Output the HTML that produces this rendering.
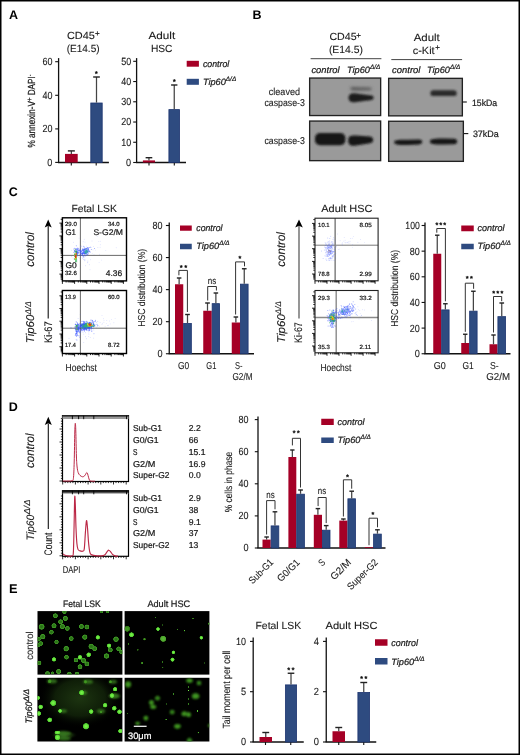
<!DOCTYPE html>
<html><head><meta charset="utf-8"><style>
html,body{margin:0;padding:0;background:#fff;}
svg{display:block;will-change:transform;font-family:"Liberation Sans", sans-serif;text-rendering:geometricPrecision;}
</style></head><body>
<svg width="520" height="755" viewBox="0 0 520 755">
<rect x="0" y="0" width="520" height="755" fill="#fff"/>
<text x="9" y="19" text-anchor="start" style="font-size:12.5px;font-weight:bold" fill="#000">A</text>
<text x="66.9" y="38.7" text-anchor="start" style="font-size:10.3px;stroke:#1a1a1a;stroke-width:0.1px" fill="#1a1a1a" textLength="27.9" lengthAdjust="spacingAndGlyphs">CD45</text>
<text x="97.25" y="36.2" text-anchor="middle" style="font-size:8px;stroke:#1a1a1a;stroke-width:0.22px" fill="#1a1a1a">+</text>
<text x="66.7" y="51.9" text-anchor="start" style="font-size:10.3px;stroke:#1a1a1a;stroke-width:0.1px" fill="#1a1a1a" textLength="32.9" lengthAdjust="spacingAndGlyphs">(E14.5)</text>
<line x1="58.6" y1="58.1" x2="58.6" y2="162.5" stroke="#111" stroke-width="1.3"/>
<line x1="55.2" y1="61.7" x2="58.6" y2="61.7" stroke="#111" stroke-width="1.1"/>
<text x="52.4" y="65.0" text-anchor="end" style="font-size:10.4px;stroke:#1a1a1a;stroke-width:0.1px" fill="#1a1a1a" textLength="10.0" lengthAdjust="spacingAndGlyphs">60</text>
<line x1="55.2" y1="95.3" x2="58.6" y2="95.3" stroke="#111" stroke-width="1.1"/>
<text x="52.4" y="98.6" text-anchor="end" style="font-size:10.4px;stroke:#1a1a1a;stroke-width:0.1px" fill="#1a1a1a" textLength="10.0" lengthAdjust="spacingAndGlyphs">40</text>
<line x1="55.2" y1="128.9" x2="58.6" y2="128.9" stroke="#111" stroke-width="1.1"/>
<text x="52.4" y="132.20000000000002" text-anchor="end" style="font-size:10.4px;stroke:#1a1a1a;stroke-width:0.1px" fill="#1a1a1a" textLength="10.0" lengthAdjust="spacingAndGlyphs">20</text>
<line x1="55.2" y1="162.4" x2="58.6" y2="162.4" stroke="#111" stroke-width="1.1"/>
<text x="52.4" y="165.70000000000002" text-anchor="end" style="font-size:10.4px;stroke:#1a1a1a;stroke-width:0.1px" fill="#1a1a1a" textLength="5.1" lengthAdjust="spacingAndGlyphs">0</text>
<line x1="58.0" y1="162.5" x2="108.9" y2="162.5" stroke="#111" stroke-width="1.3"/>
<line x1="71.3" y1="162.5" x2="71.3" y2="165.5" stroke="#111" stroke-width="1.1"/>
<line x1="96.2" y1="162.5" x2="96.2" y2="165.5" stroke="#111" stroke-width="1.1"/>
<rect x="65" y="153.9" width="12.700000000000003" height="8.599999999999994" fill="#a50026"/>
<line x1="71.35" y1="150.9" x2="71.35" y2="153.9" stroke="#444" stroke-width="1.25"/>
<line x1="67.85749999999999" y1="150.9" x2="74.8425" y2="150.9" stroke="#222" stroke-width="1.4"/>
<rect x="90.80000000000001" y="103.0" width="11.399999999999988" height="59.50000000000001" fill="#2e4b80" stroke="#1d3570" stroke-width="0.8"/>
<line x1="96.5" y1="77" x2="96.5" y2="102.6" stroke="#444" stroke-width="1.25"/>
<line x1="93.145" y1="77" x2="99.855" y2="77" stroke="#222" stroke-width="1.4"/>
<g fill="#111" stroke="#111" stroke-width="0.5" stroke-linejoin="round"><polygon points="96.30,71.15 96.73,72.01 97.68,72.15 96.99,72.82 97.15,73.77 96.30,73.32 95.45,73.77 95.61,72.82 94.92,72.15 95.87,72.01"/></g>
<text transform="translate(34.8,147.5) rotate(-90)" style="font-size:10.3px;stroke:#1a1a1a;stroke-width:0.22px" fill="#1a1a1a" textLength="73" lengthAdjust="spacingAndGlyphs">% annexin-V<tspan dy="-3.2" style="font-size:7.5px">+</tspan><tspan dy="3.2"> DAPI</tspan><tspan dy="-3.2" style="font-size:6.5px">-</tspan></text>
<text x="148.5" y="39" text-anchor="start" style="font-size:10.3px;stroke:#1a1a1a;stroke-width:0.1px" fill="#1a1a1a" textLength="26.7" lengthAdjust="spacingAndGlyphs">Adult</text>
<text x="150.9" y="51.9" text-anchor="start" style="font-size:10.3px;stroke:#1a1a1a;stroke-width:0.1px" fill="#1a1a1a" textLength="21.6" lengthAdjust="spacingAndGlyphs">HSC</text>
<line x1="136.6" y1="58.1" x2="136.6" y2="162.5" stroke="#111" stroke-width="1.3"/>
<line x1="133.2" y1="61.3" x2="136.6" y2="61.3" stroke="#111" stroke-width="1.1"/>
<text x="131.2" y="64.6" text-anchor="end" style="font-size:10.4px;stroke:#1a1a1a;stroke-width:0.1px" fill="#1a1a1a" textLength="10.0" lengthAdjust="spacingAndGlyphs">50</text>
<line x1="133.2" y1="81.53999999999999" x2="136.6" y2="81.53999999999999" stroke="#111" stroke-width="1.1"/>
<text x="131.2" y="84.83999999999999" text-anchor="end" style="font-size:10.4px;stroke:#1a1a1a;stroke-width:0.1px" fill="#1a1a1a" textLength="10.0" lengthAdjust="spacingAndGlyphs">40</text>
<line x1="133.2" y1="101.78" x2="136.6" y2="101.78" stroke="#111" stroke-width="1.1"/>
<text x="131.2" y="105.08" text-anchor="end" style="font-size:10.4px;stroke:#1a1a1a;stroke-width:0.1px" fill="#1a1a1a" textLength="10.0" lengthAdjust="spacingAndGlyphs">30</text>
<line x1="133.2" y1="122.02000000000001" x2="136.6" y2="122.02000000000001" stroke="#111" stroke-width="1.1"/>
<text x="131.2" y="125.32000000000001" text-anchor="end" style="font-size:10.4px;stroke:#1a1a1a;stroke-width:0.1px" fill="#1a1a1a" textLength="10.0" lengthAdjust="spacingAndGlyphs">20</text>
<line x1="133.2" y1="142.26" x2="136.6" y2="142.26" stroke="#111" stroke-width="1.1"/>
<text x="131.2" y="145.56" text-anchor="end" style="font-size:10.4px;stroke:#1a1a1a;stroke-width:0.1px" fill="#1a1a1a" textLength="10.0" lengthAdjust="spacingAndGlyphs">10</text>
<line x1="133.2" y1="162.5" x2="136.6" y2="162.5" stroke="#111" stroke-width="1.1"/>
<text x="131.2" y="165.8" text-anchor="end" style="font-size:10.4px;stroke:#1a1a1a;stroke-width:0.1px" fill="#1a1a1a" textLength="5.1" lengthAdjust="spacingAndGlyphs">0</text>
<line x1="136.0" y1="162.5" x2="186" y2="162.5" stroke="#111" stroke-width="1.3"/>
<line x1="149" y1="162.5" x2="149" y2="165.5" stroke="#111" stroke-width="1.1"/>
<line x1="174.3" y1="162.5" x2="174.3" y2="165.5" stroke="#111" stroke-width="1.1"/>
<rect x="142.9" y="160.4" width="12.099999999999994" height="2.0999999999999943" fill="#a50026"/>
<line x1="148.95" y1="157.7" x2="148.95" y2="160.4" stroke="#444" stroke-width="1.25"/>
<line x1="145.6225" y1="157.7" x2="152.27749999999997" y2="157.7" stroke="#222" stroke-width="1.4"/>
<rect x="168.9" y="109.60000000000001" width="10.7" height="52.9" fill="#2e4b80" stroke="#1d3570" stroke-width="0.8"/>
<line x1="174.25" y1="85" x2="174.25" y2="109.2" stroke="#444" stroke-width="1.25"/>
<line x1="171.0875" y1="85" x2="177.4125" y2="85" stroke="#222" stroke-width="1.4"/>
<g fill="#111" stroke="#111" stroke-width="0.5" stroke-linejoin="round"><polygon points="174.30,79.15 174.73,80.01 175.68,80.15 174.99,80.82 175.15,81.77 174.30,81.32 173.45,81.77 173.61,80.82 172.92,80.15 173.87,80.01"/></g>
<rect x="186.7" y="60.8" width="12.2" height="5.9" fill="#a50026"/>
<text x="202.9" y="66.6" text-anchor="start" style="font-size:9.2px;stroke:#1a1a1a;stroke-width:0.22px;font-style:italic" fill="#1a1a1a" textLength="26.4" lengthAdjust="spacingAndGlyphs">control</text>
<rect x="186.7" y="78.8" width="12.2" height="6" fill="#2e4b80"/>
<text x="202.9" y="84.8" style="font-size:9.2px;font-style:italic;stroke:#1a1a1a;stroke-width:0.22px" fill="#1a1a1a">Tip60<tspan dy="-3.86" style="font-size:6.4399999999999995px">Δ/Δ</tspan></text>
<text x="252.6" y="18.8" text-anchor="start" style="font-size:12.5px;font-weight:bold" fill="#000">B</text>
<text x="329.4" y="40.4" text-anchor="start" style="font-size:10.3px;stroke:#1a1a1a;stroke-width:0.1px" fill="#1a1a1a" textLength="27.2" lengthAdjust="spacingAndGlyphs">CD45</text>
<text x="358.5" y="37.55" text-anchor="middle" style="font-size:8px;stroke:#1a1a1a;stroke-width:0.22px" fill="#1a1a1a">+</text>
<text x="328.9" y="52.6" text-anchor="start" style="font-size:10.3px;stroke:#1a1a1a;stroke-width:0.1px" fill="#1a1a1a" textLength="34" lengthAdjust="spacingAndGlyphs">(E14.5)</text>
<line x1="310.6" y1="58.7" x2="381.4" y2="58.7" stroke="#444" stroke-width="1"/>
<text x="311.4" y="73.2" text-anchor="start" style="font-size:9.2px;stroke:#1a1a1a;stroke-width:0.22px;font-style:italic" fill="#1a1a1a" textLength="28.2" lengthAdjust="spacingAndGlyphs">control</text>
<text x="347" y="73.2" style="font-size:9.2px;font-style:italic;stroke:#1a1a1a;stroke-width:0.22px" fill="#1a1a1a">Tip60<tspan dy="-3.86" style="font-size:6.4399999999999995px">Δ/Δ</tspan></text>
<text x="413.7" y="41" text-anchor="start" style="font-size:10.3px;stroke:#1a1a1a;stroke-width:0.1px" fill="#1a1a1a" textLength="26.1" lengthAdjust="spacingAndGlyphs">Adult</text>
<text x="412.8" y="53.7" text-anchor="start" style="font-size:10.3px;stroke:#1a1a1a;stroke-width:0.1px" fill="#1a1a1a" textLength="21.8" lengthAdjust="spacingAndGlyphs">c-Kit</text>
<text x="437.5" y="50.1" text-anchor="middle" style="font-size:8px;stroke:#1a1a1a;stroke-width:0.22px" fill="#1a1a1a">+</text>
<line x1="391.3" y1="59.6" x2="462.1" y2="59.6" stroke="#444" stroke-width="1"/>
<text x="392" y="73" text-anchor="start" style="font-size:9.2px;stroke:#1a1a1a;stroke-width:0.22px;font-style:italic" fill="#1a1a1a" textLength="28.4" lengthAdjust="spacingAndGlyphs">control</text>
<text x="427" y="73" style="font-size:9.2px;font-style:italic;stroke:#1a1a1a;stroke-width:0.22px" fill="#1a1a1a">Tip60<tspan dy="-3.86" style="font-size:6.4399999999999995px">Δ/Δ</tspan></text>
<text x="268.8" y="94.8" text-anchor="start" style="font-size:9.9px;stroke:#1a1a1a;stroke-width:0.1px" fill="#1a1a1a" textLength="31.2" lengthAdjust="spacingAndGlyphs">cleaved</text>
<text x="264.4" y="105.6" text-anchor="start" style="font-size:9.9px;stroke:#1a1a1a;stroke-width:0.1px" fill="#1a1a1a" textLength="40.5" lengthAdjust="spacingAndGlyphs">caspase-3</text>
<text x="264.4" y="144.4" text-anchor="start" style="font-size:9.9px;stroke:#1a1a1a;stroke-width:0.1px" fill="#1a1a1a" textLength="40.5" lengthAdjust="spacingAndGlyphs">caspase-3</text>
<defs><filter id="bl" x="-30%" y="-80%" width="160%" height="260%"><feGaussianBlur stdDeviation="1.1"/></filter><filter id="bl2" x="-30%" y="-80%" width="160%" height="260%"><feGaussianBlur stdDeviation="1.0"/></filter></defs>
<rect x="309.65" y="78.05000000000001" width="71.00000000000001" height="37.5" fill="#9a9a9a" stroke="#222" stroke-width="1.35"/>
<rect x="309.65" y="121.05000000000001" width="71.00000000000001" height="39.60000000000001" fill="#9a9a9a" stroke="#222" stroke-width="1.35"/>
<rect x="388.65" y="78.35000000000001" width="73.7" height="37.5" fill="#9a9a9a" stroke="#222" stroke-width="1.35"/>
<rect x="388.65" y="121.25" width="74.7" height="40.10000000000001" fill="#9a9a9a" stroke="#222" stroke-width="1.35"/>
<g filter="url(#bl2)">
<path d="M348.6,97.7 C348.6,92.6 354,92.6 360,93.9 L371.5,95.6 C374.2,96 374.4,99.6 371.6,99.9 L360,101.4 C354,102.8 348.6,102.9 348.6,97.7 Z" fill="#1c1c1c"/>
<path d="M350.5,88.6 C350.5,86.8 353,86.8 356,87.2 L368,87.4 C373,87.4 373.4,90.2 368,90.2 L356,90.4 C352,90.6 350.5,90.3 350.5,88.6 Z" fill="#555" filter="url(#bl)"/>
<rect x="315" y="133.1" width="30.4" height="12.1" rx="5" fill="#151515"/>
<path d="M348.2,140.6 C348.2,135.6 351,135.4 356,135.5 L370,136.6 C374.3,137 374.3,142.8 370,143.2 L356,145.6 C351,146.2 348.2,145.6 348.2,140.6 Z" fill="#171717"/>
<rect x="430.4" y="90.2" width="26.3" height="5.9" rx="2.9" fill="#2a2a2a"/>
<path d="M394,142.3 C394,139.6 400,139.6 408,139.7 L419,139.6 C423.4,139.7 423.4,144.2 419,144.4 L408,145 C400,145.2 394,145 394,142.3 Z" fill="#181818"/>
<path d="M429.8,141.5 C429.8,138.5 436,138.5 444,138.4 L454,138.7 C458.4,139 458.4,144 454,144.2 L444,144.6 C436,144.7 429.8,144.5 429.8,141.5 Z" fill="#161616"/>
</g>
<line x1="462.5" y1="102" x2="466.8" y2="102" stroke="#111" stroke-width="1.1"/>
<text x="472" y="105.8" text-anchor="start" style="font-size:9.2px;stroke:#1a1a1a;stroke-width:0.22px" fill="#1a1a1a" textLength="25.1" lengthAdjust="spacingAndGlyphs">15kDa</text>
<line x1="464" y1="133.6" x2="468.3" y2="133.6" stroke="#111" stroke-width="1.1"/>
<text x="472.9" y="137.3" text-anchor="start" style="font-size:9.2px;stroke:#1a1a1a;stroke-width:0.22px" fill="#1a1a1a" textLength="25.9" lengthAdjust="spacingAndGlyphs">37kDa</text>
<text x="8.8" y="196.3" text-anchor="start" style="font-size:12.5px;font-weight:bold" fill="#000">C</text>
<text x="71.4" y="211.7" text-anchor="start" style="font-size:10.3px;stroke:#1a1a1a;stroke-width:0.1px" fill="#1a1a1a" textLength="45.5" lengthAdjust="spacingAndGlyphs">Fetal LSK</text>
<g stroke="#000" stroke-width="0.85"><line x1="60.7" y1="279.2" x2="62.4" y2="279.2"/><line x1="60.7" y1="277.9" x2="62.4" y2="277.9"/><line x1="60.7" y1="276.9" x2="62.4" y2="276.9"/><line x1="60.7" y1="276.1" x2="62.4" y2="276.1"/><line x1="60.7" y1="275.3" x2="62.4" y2="275.3"/><line x1="60.7" y1="274.7" x2="62.4" y2="274.7"/><line x1="59.4" y1="274.1" x2="62.4" y2="274.1"/><line x1="60.7" y1="270.3" x2="62.4" y2="270.3"/><line x1="60.7" y1="268.0" x2="62.4" y2="268.0"/><line x1="60.7" y1="266.4" x2="62.4" y2="266.4"/><line x1="60.7" y1="265.2" x2="62.4" y2="265.2"/><line x1="60.7" y1="264.2" x2="62.4" y2="264.2"/><line x1="60.7" y1="263.3" x2="62.4" y2="263.3"/><line x1="60.7" y1="262.6" x2="62.4" y2="262.6"/><line x1="60.7" y1="261.9" x2="62.4" y2="261.9"/><line x1="59.4" y1="261.4" x2="62.4" y2="261.4"/><line x1="60.7" y1="257.5" x2="62.4" y2="257.5"/><line x1="60.7" y1="255.3" x2="62.4" y2="255.3"/><line x1="60.7" y1="253.7" x2="62.4" y2="253.7"/><line x1="60.7" y1="252.4" x2="62.4" y2="252.4"/><line x1="60.7" y1="251.4" x2="62.4" y2="251.4"/><line x1="60.7" y1="250.6" x2="62.4" y2="250.6"/><line x1="60.7" y1="249.8" x2="62.4" y2="249.8"/><line x1="60.7" y1="249.2" x2="62.4" y2="249.2"/><line x1="59.4" y1="248.6" x2="62.4" y2="248.6"/><line x1="60.7" y1="244.8" x2="62.4" y2="244.8"/><line x1="60.7" y1="242.5" x2="62.4" y2="242.5"/><line x1="60.7" y1="240.9" x2="62.4" y2="240.9"/><line x1="60.7" y1="239.7" x2="62.4" y2="239.7"/><line x1="60.7" y1="238.7" x2="62.4" y2="238.7"/><line x1="60.7" y1="237.8" x2="62.4" y2="237.8"/><line x1="60.7" y1="237.1" x2="62.4" y2="237.1"/><line x1="60.7" y1="236.4" x2="62.4" y2="236.4"/><line x1="59.4" y1="235.9" x2="62.4" y2="235.9"/><line x1="60.7" y1="232.0" x2="62.4" y2="232.0"/><line x1="60.7" y1="229.8" x2="62.4" y2="229.8"/><line x1="60.7" y1="228.2" x2="62.4" y2="228.2"/><line x1="60.7" y1="226.9" x2="62.4" y2="226.9"/><line x1="60.7" y1="225.9" x2="62.4" y2="225.9"/><line x1="60.7" y1="225.1" x2="62.4" y2="225.1"/><line x1="60.7" y1="224.3" x2="62.4" y2="224.3"/><line x1="60.7" y1="223.7" x2="62.4" y2="223.7"/><line x1="59.4" y1="223.1" x2="62.4" y2="223.1"/><line x1="60.7" y1="219.3" x2="62.4" y2="219.3"/><line x1="62.4" y1="280.9" x2="62.4" y2="283.9"/><line x1="66.1" y1="280.9" x2="66.1" y2="282.5"/><line x1="68.2" y1="280.9" x2="68.2" y2="282.5"/><line x1="69.8" y1="280.9" x2="69.8" y2="282.5"/><line x1="70.9" y1="280.9" x2="70.9" y2="282.5"/><line x1="71.9" y1="280.9" x2="71.9" y2="282.5"/><line x1="72.7" y1="280.9" x2="72.7" y2="282.5"/><line x1="73.4" y1="280.9" x2="73.4" y2="282.5"/><line x1="74.1" y1="280.9" x2="74.1" y2="282.5"/><line x1="74.6" y1="280.9" x2="74.6" y2="283.9"/><line x1="78.3" y1="280.9" x2="78.3" y2="282.5"/><line x1="80.4" y1="280.9" x2="80.4" y2="282.5"/><line x1="82.0" y1="280.9" x2="82.0" y2="282.5"/><line x1="83.1" y1="280.9" x2="83.1" y2="282.5"/><line x1="84.1" y1="280.9" x2="84.1" y2="282.5"/><line x1="84.9" y1="280.9" x2="84.9" y2="282.5"/><line x1="85.6" y1="280.9" x2="85.6" y2="282.5"/><line x1="86.3" y1="280.9" x2="86.3" y2="282.5"/><line x1="86.8" y1="280.9" x2="86.8" y2="283.9"/><line x1="90.5" y1="280.9" x2="90.5" y2="282.5"/><line x1="92.6" y1="280.9" x2="92.6" y2="282.5"/><line x1="94.2" y1="280.9" x2="94.2" y2="282.5"/><line x1="95.4" y1="280.9" x2="95.4" y2="282.5"/><line x1="96.3" y1="280.9" x2="96.3" y2="282.5"/><line x1="97.1" y1="280.9" x2="97.1" y2="282.5"/><line x1="97.8" y1="280.9" x2="97.8" y2="282.5"/><line x1="98.5" y1="280.9" x2="98.5" y2="282.5"/><line x1="99.0" y1="280.9" x2="99.0" y2="283.9"/><line x1="102.7" y1="280.9" x2="102.7" y2="282.5"/><line x1="104.9" y1="280.9" x2="104.9" y2="282.5"/><line x1="106.4" y1="280.9" x2="106.4" y2="282.5"/><line x1="107.6" y1="280.9" x2="107.6" y2="282.5"/><line x1="108.5" y1="280.9" x2="108.5" y2="282.5"/><line x1="109.3" y1="280.9" x2="109.3" y2="282.5"/><line x1="110.1" y1="280.9" x2="110.1" y2="282.5"/><line x1="110.7" y1="280.9" x2="110.7" y2="282.5"/><line x1="111.2" y1="280.9" x2="111.2" y2="283.9"/><line x1="114.9" y1="280.9" x2="114.9" y2="282.5"/><line x1="117.1" y1="280.9" x2="117.1" y2="282.5"/><line x1="118.6" y1="280.9" x2="118.6" y2="282.5"/><line x1="119.8" y1="280.9" x2="119.8" y2="282.5"/><line x1="120.7" y1="280.9" x2="120.7" y2="282.5"/><line x1="121.6" y1="280.9" x2="121.6" y2="282.5"/><line x1="122.3" y1="280.9" x2="122.3" y2="282.5"/><line x1="122.9" y1="280.9" x2="122.9" y2="282.5"/><line x1="123.4" y1="280.9" x2="123.4" y2="283.9"/></g>
<line x1="80.4" y1="217.8" x2="80.4" y2="280.9" stroke="#444" stroke-width="0.8"/>
<line x1="62.4" y1="255.4" x2="126.5" y2="255.4" stroke="#444" stroke-width="0.8"/>
<g fill="#6a7dff" fill-opacity="0.35"><circle cx="80.5" cy="246.3" r="0.45"/><circle cx="84.0" cy="247.4" r="0.45"/><circle cx="97.2" cy="236.3" r="0.45"/><circle cx="86.6" cy="246.1" r="0.45"/><circle cx="81.2" cy="249.1" r="0.45"/><circle cx="90.0" cy="269.8" r="0.45"/><circle cx="93.0" cy="249.9" r="0.45"/><circle cx="98.7" cy="241.6" r="0.45"/><circle cx="84.0" cy="254.4" r="0.45"/><circle cx="85.0" cy="242.1" r="0.45"/><circle cx="84.2" cy="239.2" r="0.45"/><circle cx="101.5" cy="260.1" r="0.45"/><circle cx="116.2" cy="247.7" r="0.45"/><circle cx="87.7" cy="248.4" r="0.45"/><circle cx="95.4" cy="250.1" r="0.45"/><circle cx="97.9" cy="247.5" r="0.45"/><circle cx="75.7" cy="262.7" r="0.45"/><circle cx="85.0" cy="259.3" r="0.45"/><circle cx="86.6" cy="251.1" r="0.45"/><circle cx="73.4" cy="242.2" r="0.45"/><circle cx="94.0" cy="254.7" r="0.45"/><circle cx="87.7" cy="251.1" r="0.45"/><circle cx="71.5" cy="250.3" r="0.45"/><circle cx="83.2" cy="241.7" r="0.45"/><circle cx="93.5" cy="246.4" r="0.45"/><circle cx="81.2" cy="246.8" r="0.45"/><circle cx="86.1" cy="247.7" r="0.45"/><circle cx="90.7" cy="246.4" r="0.45"/><circle cx="99.1" cy="262.6" r="0.45"/><circle cx="100.1" cy="247.2" r="0.45"/><circle cx="83.6" cy="253.1" r="0.45"/><circle cx="87.9" cy="261.0" r="0.45"/><circle cx="92.2" cy="253.6" r="0.45"/><circle cx="84.2" cy="251.3" r="0.45"/><circle cx="79.0" cy="238.1" r="0.45"/><circle cx="92.0" cy="241.0" r="0.45"/><circle cx="83.9" cy="257.0" r="0.45"/><circle cx="105.8" cy="250.4" r="0.45"/><circle cx="85.7" cy="256.1" r="0.45"/><circle cx="99.6" cy="254.2" r="0.45"/><circle cx="81.4" cy="246.0" r="0.45"/><circle cx="100.2" cy="241.3" r="0.45"/><circle cx="90.7" cy="259.8" r="0.45"/><circle cx="100.3" cy="244.8" r="0.45"/><circle cx="87.1" cy="248.3" r="0.45"/></g>
<g fill="#3b55ff" fill-opacity="0.55"><circle cx="74.7" cy="251.8" r="0.5"/><circle cx="78.0" cy="249.9" r="0.5"/><circle cx="74.5" cy="250.9" r="0.5"/><circle cx="77.2" cy="253.4" r="0.5"/><circle cx="74.7" cy="248.2" r="0.5"/><circle cx="77.6" cy="252.0" r="0.5"/><circle cx="78.8" cy="253.2" r="0.5"/><circle cx="76.3" cy="250.4" r="0.5"/><circle cx="80.4" cy="250.4" r="0.5"/><circle cx="75.3" cy="248.5" r="0.5"/><circle cx="76.6" cy="251.3" r="0.5"/><circle cx="76.0" cy="250.9" r="0.5"/><circle cx="76.9" cy="252.5" r="0.5"/><circle cx="78.1" cy="251.5" r="0.5"/><circle cx="73.8" cy="252.5" r="0.5"/><circle cx="74.4" cy="250.6" r="0.5"/><circle cx="74.3" cy="251.0" r="0.5"/><circle cx="75.3" cy="251.5" r="0.5"/><circle cx="81.5" cy="250.9" r="0.5"/><circle cx="77.8" cy="248.1" r="0.5"/><circle cx="76.1" cy="252.5" r="0.5"/><circle cx="76.4" cy="251.8" r="0.5"/><circle cx="76.7" cy="248.8" r="0.5"/><circle cx="77.3" cy="249.2" r="0.5"/><circle cx="79.3" cy="249.9" r="0.5"/><circle cx="77.5" cy="251.0" r="0.5"/><circle cx="77.9" cy="249.7" r="0.5"/><circle cx="78.0" cy="250.7" r="0.5"/><circle cx="78.4" cy="252.4" r="0.5"/><circle cx="76.7" cy="249.3" r="0.5"/><circle cx="77.7" cy="252.0" r="0.5"/><circle cx="79.0" cy="250.2" r="0.5"/><circle cx="77.3" cy="252.1" r="0.5"/><circle cx="76.9" cy="251.5" r="0.5"/><circle cx="76.8" cy="249.7" r="0.5"/><circle cx="75.0" cy="250.1" r="0.5"/><circle cx="77.4" cy="254.3" r="0.5"/><circle cx="78.0" cy="253.3" r="0.5"/><circle cx="77.7" cy="252.5" r="0.5"/><circle cx="76.8" cy="252.7" r="0.5"/><circle cx="79.2" cy="250.3" r="0.5"/><circle cx="75.5" cy="255.3" r="0.5"/><circle cx="76.9" cy="253.1" r="0.5"/><circle cx="77.8" cy="248.5" r="0.5"/><circle cx="80.2" cy="254.9" r="0.5"/><circle cx="76.8" cy="252.7" r="0.5"/><circle cx="76.7" cy="249.1" r="0.5"/><circle cx="76.3" cy="251.8" r="0.5"/><circle cx="78.2" cy="252.6" r="0.5"/><circle cx="76.6" cy="254.0" r="0.5"/><circle cx="75.4" cy="252.7" r="0.5"/><circle cx="78.2" cy="250.4" r="0.5"/><circle cx="73.8" cy="249.0" r="0.5"/><circle cx="76.9" cy="252.2" r="0.5"/><circle cx="78.8" cy="248.8" r="0.5"/><circle cx="76.5" cy="252.4" r="0.5"/><circle cx="76.3" cy="245.8" r="0.5"/><circle cx="77.7" cy="256.1" r="0.5"/><circle cx="78.0" cy="249.0" r="0.5"/><circle cx="75.9" cy="251.5" r="0.5"/></g>
<g fill="#3b55ff" fill-opacity="0.55"><circle cx="80.5" cy="252.9" r="0.5"/><circle cx="83.7" cy="250.7" r="0.5"/><circle cx="87.2" cy="251.0" r="0.5"/><circle cx="83.7" cy="255.5" r="0.5"/><circle cx="83.1" cy="249.2" r="0.5"/><circle cx="80.7" cy="251.3" r="0.5"/><circle cx="86.3" cy="252.9" r="0.5"/><circle cx="87.7" cy="254.6" r="0.5"/><circle cx="89.3" cy="251.8" r="0.5"/><circle cx="88.3" cy="252.0" r="0.5"/><circle cx="83.0" cy="253.7" r="0.5"/><circle cx="84.8" cy="251.1" r="0.5"/><circle cx="90.3" cy="251.9" r="0.5"/><circle cx="83.3" cy="251.7" r="0.5"/><circle cx="91.3" cy="249.5" r="0.5"/><circle cx="86.7" cy="252.4" r="0.5"/><circle cx="86.1" cy="252.5" r="0.5"/><circle cx="83.3" cy="250.9" r="0.5"/><circle cx="84.2" cy="250.9" r="0.5"/><circle cx="86.9" cy="254.3" r="0.5"/><circle cx="82.1" cy="253.3" r="0.5"/><circle cx="81.9" cy="250.8" r="0.5"/><circle cx="84.0" cy="252.0" r="0.5"/><circle cx="83.4" cy="246.3" r="0.5"/><circle cx="88.6" cy="250.1" r="0.5"/><circle cx="82.9" cy="253.5" r="0.5"/><circle cx="83.0" cy="248.9" r="0.5"/><circle cx="86.0" cy="252.1" r="0.5"/><circle cx="82.3" cy="253.9" r="0.5"/><circle cx="85.7" cy="248.9" r="0.5"/><circle cx="89.6" cy="251.0" r="0.5"/><circle cx="81.4" cy="253.3" r="0.5"/><circle cx="85.0" cy="253.6" r="0.5"/><circle cx="80.8" cy="254.7" r="0.5"/><circle cx="87.3" cy="252.4" r="0.5"/><circle cx="86.4" cy="254.0" r="0.5"/><circle cx="86.7" cy="251.4" r="0.5"/><circle cx="82.3" cy="254.5" r="0.5"/><circle cx="87.4" cy="251.6" r="0.5"/><circle cx="85.1" cy="253.0" r="0.5"/><circle cx="77.5" cy="253.9" r="0.5"/><circle cx="77.6" cy="253.8" r="0.5"/><circle cx="87.6" cy="254.9" r="0.5"/><circle cx="83.3" cy="252.8" r="0.5"/><circle cx="84.4" cy="246.9" r="0.5"/><circle cx="86.7" cy="251.0" r="0.5"/><circle cx="84.8" cy="249.5" r="0.5"/><circle cx="84.5" cy="251.8" r="0.5"/><circle cx="88.3" cy="251.3" r="0.5"/><circle cx="94.5" cy="248.4" r="0.5"/><circle cx="83.9" cy="251.6" r="0.5"/><circle cx="82.3" cy="255.3" r="0.5"/><circle cx="86.5" cy="248.4" r="0.5"/><circle cx="84.9" cy="253.9" r="0.5"/><circle cx="80.6" cy="252.8" r="0.5"/><circle cx="84.0" cy="256.7" r="0.5"/><circle cx="85.8" cy="250.4" r="0.5"/><circle cx="83.0" cy="256.0" r="0.5"/><circle cx="83.3" cy="256.7" r="0.5"/><circle cx="80.2" cy="252.2" r="0.5"/><circle cx="84.0" cy="250.2" r="0.5"/><circle cx="84.0" cy="253.2" r="0.5"/><circle cx="82.7" cy="249.0" r="0.5"/><circle cx="88.5" cy="253.8" r="0.5"/><circle cx="82.7" cy="252.7" r="0.5"/><circle cx="77.3" cy="255.5" r="0.5"/><circle cx="80.9" cy="251.3" r="0.5"/><circle cx="90.8" cy="247.4" r="0.5"/><circle cx="84.7" cy="249.3" r="0.5"/><circle cx="79.4" cy="250.3" r="0.5"/><circle cx="85.4" cy="248.6" r="0.5"/><circle cx="83.0" cy="253.5" r="0.5"/><circle cx="84.2" cy="248.9" r="0.5"/><circle cx="88.9" cy="250.8" r="0.5"/><circle cx="88.6" cy="248.4" r="0.5"/><circle cx="89.4" cy="247.6" r="0.5"/><circle cx="79.7" cy="251.8" r="0.5"/><circle cx="83.6" cy="252.4" r="0.5"/><circle cx="83.0" cy="253.3" r="0.5"/><circle cx="88.4" cy="249.3" r="0.5"/><circle cx="80.7" cy="251.6" r="0.5"/><circle cx="87.0" cy="252.8" r="0.5"/><circle cx="83.6" cy="249.7" r="0.5"/><circle cx="84.6" cy="253.6" r="0.5"/><circle cx="82.6" cy="254.8" r="0.5"/><circle cx="85.3" cy="252.0" r="0.5"/><circle cx="82.8" cy="254.9" r="0.5"/><circle cx="84.7" cy="248.4" r="0.5"/><circle cx="86.9" cy="250.1" r="0.5"/><circle cx="87.7" cy="251.2" r="0.5"/><circle cx="82.8" cy="252.3" r="0.5"/><circle cx="83.2" cy="250.1" r="0.5"/><circle cx="84.7" cy="253.3" r="0.5"/><circle cx="84.8" cy="251.3" r="0.5"/><circle cx="83.1" cy="253.1" r="0.5"/><circle cx="85.4" cy="253.4" r="0.5"/><circle cx="85.7" cy="255.8" r="0.5"/><circle cx="80.2" cy="252.5" r="0.5"/><circle cx="86.1" cy="253.1" r="0.5"/><circle cx="80.3" cy="250.0" r="0.5"/><circle cx="84.5" cy="253.8" r="0.5"/><circle cx="87.7" cy="247.6" r="0.5"/><circle cx="85.0" cy="254.0" r="0.5"/><circle cx="84.7" cy="249.4" r="0.5"/><circle cx="82.6" cy="249.2" r="0.5"/><circle cx="88.0" cy="250.2" r="0.5"/><circle cx="83.4" cy="250.0" r="0.5"/><circle cx="84.2" cy="249.7" r="0.5"/><circle cx="81.9" cy="252.1" r="0.5"/><circle cx="84.0" cy="252.7" r="0.5"/><circle cx="85.0" cy="254.0" r="0.5"/><circle cx="84.5" cy="252.1" r="0.5"/><circle cx="85.3" cy="249.7" r="0.5"/><circle cx="88.0" cy="249.6" r="0.5"/><circle cx="80.1" cy="255.3" r="0.5"/><circle cx="86.5" cy="249.9" r="0.5"/><circle cx="87.3" cy="253.0" r="0.5"/><circle cx="86.6" cy="248.6" r="0.5"/><circle cx="85.1" cy="249.2" r="0.5"/><circle cx="82.9" cy="250.8" r="0.5"/><circle cx="82.2" cy="253.2" r="0.5"/><circle cx="82.4" cy="253.4" r="0.5"/><circle cx="85.1" cy="250.2" r="0.5"/><circle cx="85.1" cy="252.9" r="0.5"/><circle cx="87.8" cy="250.2" r="0.5"/><circle cx="89.5" cy="251.6" r="0.5"/><circle cx="88.1" cy="247.9" r="0.5"/><circle cx="81.6" cy="254.8" r="0.5"/><circle cx="84.0" cy="252.7" r="0.5"/><circle cx="88.0" cy="247.7" r="0.5"/><circle cx="85.9" cy="255.4" r="0.5"/><circle cx="86.9" cy="251.2" r="0.5"/><circle cx="86.2" cy="251.2" r="0.5"/><circle cx="86.8" cy="253.8" r="0.5"/><circle cx="84.0" cy="252.9" r="0.5"/><circle cx="85.5" cy="252.9" r="0.5"/><circle cx="87.0" cy="248.7" r="0.5"/><circle cx="87.9" cy="252.6" r="0.5"/><circle cx="81.5" cy="251.7" r="0.5"/><circle cx="80.5" cy="251.9" r="0.5"/><circle cx="85.5" cy="248.9" r="0.5"/><circle cx="82.4" cy="250.2" r="0.5"/><circle cx="82.7" cy="250.4" r="0.5"/><circle cx="81.6" cy="253.5" r="0.5"/><circle cx="84.0" cy="250.0" r="0.5"/><circle cx="87.4" cy="249.7" r="0.5"/><circle cx="87.1" cy="248.3" r="0.5"/><circle cx="88.6" cy="249.7" r="0.5"/><circle cx="81.9" cy="253.1" r="0.5"/><circle cx="80.8" cy="250.2" r="0.5"/></g>
<g fill="#2fb0a0" fill-opacity="0.7"><circle cx="85.2" cy="252.3" r="0.55"/><circle cx="85.0" cy="252.0" r="0.55"/><circle cx="84.6" cy="252.2" r="0.55"/><circle cx="85.9" cy="252.8" r="0.55"/><circle cx="86.9" cy="251.5" r="0.55"/><circle cx="85.7" cy="251.9" r="0.55"/><circle cx="86.0" cy="250.7" r="0.55"/><circle cx="86.7" cy="249.3" r="0.55"/><circle cx="85.9" cy="253.4" r="0.55"/><circle cx="86.6" cy="250.3" r="0.55"/><circle cx="87.2" cy="251.7" r="0.55"/><circle cx="85.4" cy="251.0" r="0.55"/><circle cx="86.2" cy="252.3" r="0.55"/><circle cx="85.9" cy="253.1" r="0.55"/><circle cx="85.3" cy="252.3" r="0.55"/><circle cx="84.3" cy="249.8" r="0.55"/><circle cx="85.9" cy="251.8" r="0.55"/><circle cx="88.1" cy="251.2" r="0.55"/><circle cx="86.3" cy="250.4" r="0.55"/><circle cx="86.1" cy="252.0" r="0.55"/><circle cx="85.6" cy="252.4" r="0.55"/><circle cx="87.6" cy="252.1" r="0.55"/><circle cx="86.0" cy="251.4" r="0.55"/><circle cx="86.7" cy="250.6" r="0.55"/><circle cx="87.1" cy="251.0" r="0.55"/></g>
<g fill="#30b050" fill-opacity="0.8"><circle cx="75.6" cy="260.3" r="0.55"/><circle cx="75.2" cy="251.0" r="0.55"/><circle cx="75.9" cy="257.9" r="0.55"/><circle cx="76.0" cy="257.6" r="0.55"/><circle cx="75.7" cy="254.5" r="0.55"/><circle cx="75.3" cy="255.6" r="0.55"/><circle cx="75.5" cy="258.9" r="0.55"/><circle cx="76.1" cy="252.7" r="0.55"/><circle cx="76.2" cy="256.2" r="0.55"/><circle cx="76.4" cy="260.5" r="0.55"/><circle cx="76.1" cy="251.3" r="0.55"/><circle cx="76.2" cy="251.9" r="0.55"/><circle cx="76.7" cy="254.4" r="0.55"/><circle cx="75.7" cy="261.4" r="0.55"/><circle cx="74.7" cy="256.4" r="0.55"/><circle cx="75.1" cy="254.8" r="0.55"/><circle cx="75.3" cy="258.2" r="0.55"/><circle cx="75.6" cy="257.3" r="0.55"/><circle cx="76.2" cy="251.5" r="0.55"/><circle cx="76.6" cy="255.6" r="0.55"/><circle cx="74.8" cy="254.4" r="0.55"/><circle cx="76.3" cy="259.2" r="0.55"/><circle cx="75.3" cy="256.6" r="0.55"/><circle cx="75.9" cy="259.3" r="0.55"/><circle cx="75.7" cy="259.1" r="0.55"/><circle cx="75.2" cy="254.3" r="0.55"/><circle cx="76.2" cy="258.4" r="0.55"/><circle cx="75.7" cy="258.0" r="0.55"/><circle cx="75.9" cy="258.5" r="0.55"/><circle cx="76.5" cy="257.8" r="0.55"/><circle cx="76.3" cy="255.2" r="0.55"/><circle cx="75.4" cy="249.6" r="0.55"/><circle cx="76.0" cy="256.4" r="0.55"/><circle cx="76.1" cy="251.0" r="0.55"/><circle cx="75.5" cy="254.7" r="0.55"/><circle cx="74.7" cy="258.9" r="0.55"/><circle cx="76.5" cy="252.7" r="0.55"/><circle cx="76.0" cy="261.3" r="0.55"/><circle cx="75.0" cy="259.1" r="0.55"/><circle cx="76.7" cy="261.7" r="0.55"/><circle cx="74.9" cy="253.3" r="0.55"/><circle cx="75.9" cy="259.8" r="0.55"/><circle cx="75.0" cy="254.2" r="0.55"/><circle cx="75.1" cy="259.5" r="0.55"/><circle cx="75.4" cy="258.0" r="0.55"/></g>
<g fill="#e8d020" fill-opacity="0.9"><circle cx="76.1" cy="257.8" r="0.55"/><circle cx="75.1" cy="253.2" r="0.55"/><circle cx="75.6" cy="257.5" r="0.55"/><circle cx="75.5" cy="254.0" r="0.55"/><circle cx="75.4" cy="258.6" r="0.55"/><circle cx="75.0" cy="258.0" r="0.55"/><circle cx="75.8" cy="257.1" r="0.55"/><circle cx="75.9" cy="255.4" r="0.55"/><circle cx="75.6" cy="259.2" r="0.55"/><circle cx="75.4" cy="255.6" r="0.55"/><circle cx="75.0" cy="255.6" r="0.55"/><circle cx="75.9" cy="258.3" r="0.55"/><circle cx="75.9" cy="257.3" r="0.55"/><circle cx="75.8" cy="256.8" r="0.55"/><circle cx="76.0" cy="256.1" r="0.55"/><circle cx="76.0" cy="256.2" r="0.55"/></g>
<g fill="#e03020" fill-opacity="0.9"><circle cx="75.6" cy="256.6" r="0.6"/><circle cx="75.6" cy="256.1" r="0.6"/><circle cx="75.7" cy="256.6" r="0.6"/><circle cx="75.9" cy="255.7" r="0.6"/><circle cx="76.4" cy="253.7" r="0.6"/><circle cx="75.6" cy="257.4" r="0.6"/><circle cx="75.5" cy="255.9" r="0.6"/><circle cx="75.6" cy="257.2" r="0.6"/><circle cx="76.0" cy="255.2" r="0.6"/></g>
<g fill="#6a7dff" fill-opacity="0.4"><circle cx="73.8" cy="259.0" r="0.45"/><circle cx="84.2" cy="259.2" r="0.45"/><circle cx="81.6" cy="253.8" r="0.45"/><circle cx="80.0" cy="258.4" r="0.45"/><circle cx="84.9" cy="260.7" r="0.45"/><circle cx="80.9" cy="256.9" r="0.45"/><circle cx="77.5" cy="260.0" r="0.45"/><circle cx="86.5" cy="252.1" r="0.45"/><circle cx="69.3" cy="268.3" r="0.45"/><circle cx="87.8" cy="262.8" r="0.45"/><circle cx="82.6" cy="258.4" r="0.45"/><circle cx="79.6" cy="255.1" r="0.45"/><circle cx="83.6" cy="259.2" r="0.45"/><circle cx="73.0" cy="257.9" r="0.45"/><circle cx="78.8" cy="257.4" r="0.45"/><circle cx="89.3" cy="264.7" r="0.45"/><circle cx="67.8" cy="262.2" r="0.45"/><circle cx="85.6" cy="265.7" r="0.45"/><circle cx="84.5" cy="251.7" r="0.45"/><circle cx="84.8" cy="260.4" r="0.45"/><circle cx="87.3" cy="262.1" r="0.45"/><circle cx="74.8" cy="268.0" r="0.45"/><circle cx="76.1" cy="264.9" r="0.45"/><circle cx="83.0" cy="257.8" r="0.45"/><circle cx="71.6" cy="256.5" r="0.45"/></g>
<rect x="62.4" y="217.8" width="64.1" height="63.099999999999966" fill="none" stroke="#000" stroke-width="1.4"/>
<text x="65" y="225.8" text-anchor="start" style="font-size:6.0px;stroke:#1a1a1a;stroke-width:0.22px" fill="#1a1a1a" textLength="11.8" lengthAdjust="spacingAndGlyphs">29.0</text>
<text x="65.4" y="234.9" text-anchor="start" style="font-size:8.2px;stroke:#1a1a1a;stroke-width:0.22px" fill="#1a1a1a" textLength="10.5" lengthAdjust="spacingAndGlyphs">G1</text>
<text x="108" y="225.8" text-anchor="start" style="font-size:6.0px;stroke:#1a1a1a;stroke-width:0.22px" fill="#1a1a1a" textLength="11.6" lengthAdjust="spacingAndGlyphs">34.0</text>
<text x="93.4" y="234.9" text-anchor="start" style="font-size:8.2px;stroke:#1a1a1a;stroke-width:0.22px" fill="#1a1a1a" textLength="29.6" lengthAdjust="spacingAndGlyphs">S-G2/M</text>
<text x="65.4" y="267.8" text-anchor="start" style="font-size:8.2px;stroke:#1a1a1a;stroke-width:0.22px" fill="#1a1a1a" textLength="11.3" lengthAdjust="spacingAndGlyphs">G0</text>
<text x="65" y="275" text-anchor="start" style="font-size:6.0px;stroke:#1a1a1a;stroke-width:0.22px" fill="#1a1a1a" textLength="11.8" lengthAdjust="spacingAndGlyphs">32.6</text>
<text x="105.8" y="275.9" text-anchor="start" style="font-size:8.2px;stroke:#1a1a1a;stroke-width:0.22px" fill="#1a1a1a" textLength="16.4" lengthAdjust="spacingAndGlyphs">4.36</text>
<g stroke="#000" stroke-width="0.85"><line x1="60.7" y1="351.8" x2="62.4" y2="351.8"/><line x1="60.7" y1="350.5" x2="62.4" y2="350.5"/><line x1="60.7" y1="349.5" x2="62.4" y2="349.5"/><line x1="60.7" y1="348.7" x2="62.4" y2="348.7"/><line x1="60.7" y1="347.9" x2="62.4" y2="347.9"/><line x1="60.7" y1="347.3" x2="62.4" y2="347.3"/><line x1="59.4" y1="346.7" x2="62.4" y2="346.7"/><line x1="60.7" y1="342.9" x2="62.4" y2="342.9"/><line x1="60.7" y1="340.6" x2="62.4" y2="340.6"/><line x1="60.7" y1="339.0" x2="62.4" y2="339.0"/><line x1="60.7" y1="337.8" x2="62.4" y2="337.8"/><line x1="60.7" y1="336.8" x2="62.4" y2="336.8"/><line x1="60.7" y1="335.9" x2="62.4" y2="335.9"/><line x1="60.7" y1="335.2" x2="62.4" y2="335.2"/><line x1="60.7" y1="334.6" x2="62.4" y2="334.6"/><line x1="59.4" y1="334.0" x2="62.4" y2="334.0"/><line x1="60.7" y1="330.1" x2="62.4" y2="330.1"/><line x1="60.7" y1="327.9" x2="62.4" y2="327.9"/><line x1="60.7" y1="326.3" x2="62.4" y2="326.3"/><line x1="60.7" y1="325.1" x2="62.4" y2="325.1"/><line x1="60.7" y1="324.1" x2="62.4" y2="324.1"/><line x1="60.7" y1="323.2" x2="62.4" y2="323.2"/><line x1="60.7" y1="322.5" x2="62.4" y2="322.5"/><line x1="60.7" y1="321.8" x2="62.4" y2="321.8"/><line x1="59.4" y1="321.2" x2="62.4" y2="321.2"/><line x1="60.7" y1="317.4" x2="62.4" y2="317.4"/><line x1="60.7" y1="315.2" x2="62.4" y2="315.2"/><line x1="60.7" y1="313.6" x2="62.4" y2="313.6"/><line x1="60.7" y1="312.3" x2="62.4" y2="312.3"/><line x1="60.7" y1="311.3" x2="62.4" y2="311.3"/><line x1="60.7" y1="310.5" x2="62.4" y2="310.5"/><line x1="60.7" y1="309.8" x2="62.4" y2="309.8"/><line x1="60.7" y1="309.1" x2="62.4" y2="309.1"/><line x1="59.4" y1="308.5" x2="62.4" y2="308.5"/><line x1="60.7" y1="304.7" x2="62.4" y2="304.7"/><line x1="60.7" y1="302.4" x2="62.4" y2="302.4"/><line x1="60.7" y1="300.9" x2="62.4" y2="300.9"/><line x1="60.7" y1="299.6" x2="62.4" y2="299.6"/><line x1="60.7" y1="298.6" x2="62.4" y2="298.6"/><line x1="60.7" y1="297.8" x2="62.4" y2="297.8"/><line x1="60.7" y1="297.0" x2="62.4" y2="297.0"/><line x1="60.7" y1="296.4" x2="62.4" y2="296.4"/><line x1="59.4" y1="295.8" x2="62.4" y2="295.8"/><line x1="60.7" y1="292.0" x2="62.4" y2="292.0"/><line x1="62.4" y1="353.5" x2="62.4" y2="356.5"/><line x1="66.1" y1="353.5" x2="66.1" y2="355.1"/><line x1="68.2" y1="353.5" x2="68.2" y2="355.1"/><line x1="69.8" y1="353.5" x2="69.8" y2="355.1"/><line x1="70.9" y1="353.5" x2="70.9" y2="355.1"/><line x1="71.9" y1="353.5" x2="71.9" y2="355.1"/><line x1="72.7" y1="353.5" x2="72.7" y2="355.1"/><line x1="73.4" y1="353.5" x2="73.4" y2="355.1"/><line x1="74.1" y1="353.5" x2="74.1" y2="355.1"/><line x1="74.6" y1="353.5" x2="74.6" y2="356.5"/><line x1="78.3" y1="353.5" x2="78.3" y2="355.1"/><line x1="80.4" y1="353.5" x2="80.4" y2="355.1"/><line x1="82.0" y1="353.5" x2="82.0" y2="355.1"/><line x1="83.1" y1="353.5" x2="83.1" y2="355.1"/><line x1="84.1" y1="353.5" x2="84.1" y2="355.1"/><line x1="84.9" y1="353.5" x2="84.9" y2="355.1"/><line x1="85.6" y1="353.5" x2="85.6" y2="355.1"/><line x1="86.3" y1="353.5" x2="86.3" y2="355.1"/><line x1="86.8" y1="353.5" x2="86.8" y2="356.5"/><line x1="90.5" y1="353.5" x2="90.5" y2="355.1"/><line x1="92.6" y1="353.5" x2="92.6" y2="355.1"/><line x1="94.2" y1="353.5" x2="94.2" y2="355.1"/><line x1="95.4" y1="353.5" x2="95.4" y2="355.1"/><line x1="96.3" y1="353.5" x2="96.3" y2="355.1"/><line x1="97.1" y1="353.5" x2="97.1" y2="355.1"/><line x1="97.8" y1="353.5" x2="97.8" y2="355.1"/><line x1="98.5" y1="353.5" x2="98.5" y2="355.1"/><line x1="99.0" y1="353.5" x2="99.0" y2="356.5"/><line x1="102.7" y1="353.5" x2="102.7" y2="355.1"/><line x1="104.9" y1="353.5" x2="104.9" y2="355.1"/><line x1="106.4" y1="353.5" x2="106.4" y2="355.1"/><line x1="107.6" y1="353.5" x2="107.6" y2="355.1"/><line x1="108.5" y1="353.5" x2="108.5" y2="355.1"/><line x1="109.3" y1="353.5" x2="109.3" y2="355.1"/><line x1="110.1" y1="353.5" x2="110.1" y2="355.1"/><line x1="110.7" y1="353.5" x2="110.7" y2="355.1"/><line x1="111.2" y1="353.5" x2="111.2" y2="356.5"/><line x1="114.9" y1="353.5" x2="114.9" y2="355.1"/><line x1="117.1" y1="353.5" x2="117.1" y2="355.1"/><line x1="118.6" y1="353.5" x2="118.6" y2="355.1"/><line x1="119.8" y1="353.5" x2="119.8" y2="355.1"/><line x1="120.7" y1="353.5" x2="120.7" y2="355.1"/><line x1="121.6" y1="353.5" x2="121.6" y2="355.1"/><line x1="122.3" y1="353.5" x2="122.3" y2="355.1"/><line x1="122.9" y1="353.5" x2="122.9" y2="355.1"/><line x1="123.4" y1="353.5" x2="123.4" y2="356.5"/></g>
<line x1="80.4" y1="290.5" x2="80.4" y2="353.5" stroke="#444" stroke-width="0.8"/>
<line x1="62.4" y1="328.2" x2="126.5" y2="328.2" stroke="#444" stroke-width="0.8"/>
<g fill="#6a7dff" fill-opacity="0.35"><circle cx="111.4" cy="319.4" r="0.45"/><circle cx="102.0" cy="315.5" r="0.45"/><circle cx="99.2" cy="326.3" r="0.45"/><circle cx="115.1" cy="318.6" r="0.45"/><circle cx="95.1" cy="321.2" r="0.45"/><circle cx="75.6" cy="327.1" r="0.45"/><circle cx="106.3" cy="323.6" r="0.45"/><circle cx="109.4" cy="321.0" r="0.45"/><circle cx="102.0" cy="324.5" r="0.45"/><circle cx="106.8" cy="320.5" r="0.45"/><circle cx="88.6" cy="323.9" r="0.45"/><circle cx="103.6" cy="318.7" r="0.45"/><circle cx="110.2" cy="323.9" r="0.45"/><circle cx="103.9" cy="322.3" r="0.45"/><circle cx="105.1" cy="326.3" r="0.45"/><circle cx="97.1" cy="326.5" r="0.45"/><circle cx="102.3" cy="323.3" r="0.45"/><circle cx="113.9" cy="322.7" r="0.45"/><circle cx="104.0" cy="320.4" r="0.45"/><circle cx="100.1" cy="322.5" r="0.45"/><circle cx="95.3" cy="320.0" r="0.45"/><circle cx="108.5" cy="325.3" r="0.45"/><circle cx="92.1" cy="320.1" r="0.45"/><circle cx="107.4" cy="325.5" r="0.45"/><circle cx="91.0" cy="320.9" r="0.45"/></g>
<g fill="#4a62ff" fill-opacity="0.4"><circle cx="88.7" cy="336.6" r="0.45"/><circle cx="79.5" cy="325.7" r="0.45"/><circle cx="86.3" cy="338.7" r="0.45"/><circle cx="86.6" cy="324.4" r="0.45"/><circle cx="79.6" cy="329.9" r="0.45"/><circle cx="89.8" cy="330.1" r="0.45"/><circle cx="82.0" cy="329.0" r="0.45"/><circle cx="85.2" cy="326.5" r="0.45"/><circle cx="84.2" cy="331.5" r="0.45"/><circle cx="93.8" cy="329.9" r="0.45"/><circle cx="89.9" cy="325.1" r="0.45"/><circle cx="89.2" cy="330.9" r="0.45"/><circle cx="81.0" cy="330.0" r="0.45"/><circle cx="89.5" cy="328.6" r="0.45"/><circle cx="90.2" cy="337.6" r="0.45"/><circle cx="93.7" cy="338.1" r="0.45"/><circle cx="76.7" cy="331.8" r="0.45"/><circle cx="80.2" cy="334.8" r="0.45"/><circle cx="84.6" cy="331.3" r="0.45"/><circle cx="86.9" cy="327.3" r="0.45"/><circle cx="84.8" cy="326.6" r="0.45"/><circle cx="96.5" cy="327.9" r="0.45"/><circle cx="84.3" cy="321.5" r="0.45"/><circle cx="75.5" cy="326.1" r="0.45"/><circle cx="88.9" cy="334.0" r="0.45"/><circle cx="85.9" cy="327.0" r="0.45"/><circle cx="95.1" cy="325.1" r="0.45"/><circle cx="79.2" cy="332.6" r="0.45"/><circle cx="78.4" cy="331.5" r="0.45"/><circle cx="89.9" cy="329.8" r="0.45"/><circle cx="86.6" cy="330.4" r="0.45"/><circle cx="80.2" cy="314.6" r="0.45"/><circle cx="77.0" cy="330.1" r="0.45"/><circle cx="74.5" cy="327.4" r="0.45"/><circle cx="85.4" cy="336.7" r="0.45"/><circle cx="76.1" cy="327.6" r="0.45"/><circle cx="85.5" cy="332.8" r="0.45"/><circle cx="76.1" cy="339.3" r="0.45"/><circle cx="79.4" cy="335.5" r="0.45"/><circle cx="83.0" cy="332.2" r="0.45"/><circle cx="94.1" cy="333.7" r="0.45"/><circle cx="85.0" cy="325.2" r="0.45"/><circle cx="80.3" cy="323.1" r="0.45"/><circle cx="96.2" cy="322.5" r="0.45"/><circle cx="69.0" cy="338.3" r="0.45"/><circle cx="91.8" cy="328.4" r="0.45"/><circle cx="89.2" cy="326.1" r="0.45"/><circle cx="80.8" cy="332.7" r="0.45"/><circle cx="86.5" cy="327.9" r="0.45"/><circle cx="93.8" cy="333.8" r="0.45"/><circle cx="85.0" cy="324.3" r="0.45"/><circle cx="85.0" cy="328.6" r="0.45"/><circle cx="83.8" cy="334.1" r="0.45"/><circle cx="80.8" cy="331.5" r="0.45"/><circle cx="88.9" cy="331.9" r="0.45"/><circle cx="97.8" cy="321.5" r="0.45"/><circle cx="83.8" cy="324.3" r="0.45"/><circle cx="83.8" cy="342.6" r="0.45"/><circle cx="74.4" cy="328.7" r="0.45"/><circle cx="88.1" cy="330.6" r="0.45"/><circle cx="89.6" cy="322.4" r="0.45"/><circle cx="90.0" cy="325.4" r="0.45"/><circle cx="76.9" cy="333.0" r="0.45"/><circle cx="87.0" cy="326.5" r="0.45"/><circle cx="79.3" cy="329.1" r="0.45"/><circle cx="84.1" cy="329.3" r="0.45"/><circle cx="78.1" cy="318.6" r="0.45"/><circle cx="92.0" cy="331.0" r="0.45"/><circle cx="76.7" cy="322.3" r="0.45"/><circle cx="80.0" cy="328.1" r="0.45"/></g>
<g fill="#3b55ff" fill-opacity="0.6"><circle cx="77.5" cy="329.4" r="0.5"/><circle cx="80.2" cy="332.1" r="0.5"/><circle cx="77.2" cy="331.9" r="0.5"/><circle cx="76.5" cy="327.0" r="0.5"/><circle cx="77.5" cy="328.1" r="0.5"/><circle cx="77.8" cy="329.1" r="0.5"/><circle cx="75.3" cy="324.5" r="0.5"/><circle cx="76.2" cy="321.7" r="0.5"/><circle cx="76.9" cy="328.8" r="0.5"/><circle cx="77.9" cy="326.4" r="0.5"/><circle cx="76.8" cy="332.4" r="0.5"/><circle cx="77.7" cy="325.7" r="0.5"/><circle cx="78.4" cy="327.4" r="0.5"/><circle cx="78.1" cy="328.8" r="0.5"/><circle cx="76.6" cy="324.8" r="0.5"/><circle cx="76.9" cy="340.0" r="0.5"/><circle cx="76.4" cy="336.4" r="0.5"/><circle cx="78.3" cy="328.4" r="0.5"/><circle cx="78.1" cy="335.8" r="0.5"/><circle cx="76.7" cy="327.8" r="0.5"/><circle cx="78.1" cy="331.5" r="0.5"/><circle cx="79.0" cy="331.8" r="0.5"/><circle cx="75.9" cy="329.8" r="0.5"/><circle cx="75.9" cy="333.2" r="0.5"/><circle cx="77.7" cy="328.3" r="0.5"/><circle cx="76.2" cy="333.8" r="0.5"/><circle cx="76.6" cy="335.1" r="0.5"/><circle cx="76.1" cy="328.9" r="0.5"/><circle cx="76.5" cy="325.7" r="0.5"/><circle cx="79.6" cy="337.1" r="0.5"/><circle cx="76.4" cy="333.3" r="0.5"/><circle cx="75.3" cy="335.3" r="0.5"/><circle cx="78.0" cy="328.6" r="0.5"/><circle cx="76.7" cy="331.1" r="0.5"/><circle cx="77.4" cy="328.5" r="0.5"/><circle cx="76.2" cy="328.9" r="0.5"/><circle cx="76.6" cy="333.3" r="0.5"/><circle cx="77.1" cy="331.0" r="0.5"/><circle cx="75.4" cy="328.4" r="0.5"/><circle cx="76.6" cy="327.9" r="0.5"/><circle cx="76.9" cy="328.8" r="0.5"/><circle cx="75.6" cy="334.0" r="0.5"/><circle cx="77.9" cy="327.9" r="0.5"/><circle cx="77.6" cy="326.1" r="0.5"/><circle cx="75.8" cy="329.2" r="0.5"/><circle cx="78.5" cy="329.6" r="0.5"/><circle cx="75.6" cy="331.1" r="0.5"/><circle cx="76.5" cy="327.1" r="0.5"/><circle cx="77.4" cy="322.8" r="0.5"/><circle cx="75.3" cy="324.0" r="0.5"/><circle cx="78.1" cy="330.5" r="0.5"/><circle cx="76.5" cy="327.3" r="0.5"/><circle cx="77.7" cy="335.4" r="0.5"/><circle cx="76.3" cy="331.3" r="0.5"/><circle cx="79.3" cy="332.7" r="0.5"/><circle cx="76.7" cy="331.6" r="0.5"/><circle cx="77.1" cy="333.0" r="0.5"/><circle cx="77.4" cy="328.1" r="0.5"/><circle cx="76.9" cy="331.8" r="0.5"/><circle cx="76.4" cy="330.5" r="0.5"/><circle cx="76.2" cy="335.4" r="0.5"/><circle cx="78.5" cy="326.6" r="0.5"/><circle cx="77.9" cy="330.9" r="0.5"/><circle cx="77.1" cy="329.2" r="0.5"/><circle cx="77.3" cy="334.4" r="0.5"/><circle cx="75.9" cy="334.5" r="0.5"/><circle cx="76.8" cy="325.6" r="0.5"/><circle cx="77.0" cy="332.9" r="0.5"/><circle cx="77.0" cy="331.5" r="0.5"/><circle cx="76.7" cy="328.0" r="0.5"/></g>
<g fill="#30b050" fill-opacity="0.8"><circle cx="78.3" cy="325.3" r="0.55"/><circle cx="77.2" cy="327.0" r="0.55"/><circle cx="76.5" cy="326.4" r="0.55"/><circle cx="76.7" cy="327.3" r="0.55"/><circle cx="77.2" cy="329.5" r="0.55"/><circle cx="77.1" cy="329.7" r="0.55"/><circle cx="77.3" cy="327.6" r="0.55"/><circle cx="76.8" cy="325.5" r="0.55"/><circle cx="76.0" cy="327.2" r="0.55"/><circle cx="76.9" cy="328.0" r="0.55"/><circle cx="77.2" cy="324.9" r="0.55"/><circle cx="76.5" cy="325.2" r="0.55"/><circle cx="77.6" cy="327.2" r="0.55"/><circle cx="77.0" cy="325.6" r="0.55"/><circle cx="76.2" cy="326.2" r="0.55"/><circle cx="76.9" cy="328.3" r="0.55"/><circle cx="76.1" cy="328.0" r="0.55"/><circle cx="76.4" cy="326.3" r="0.55"/><circle cx="76.8" cy="326.5" r="0.55"/><circle cx="77.2" cy="329.1" r="0.55"/><circle cx="77.2" cy="326.3" r="0.55"/><circle cx="77.2" cy="328.1" r="0.55"/><circle cx="77.5" cy="327.9" r="0.55"/><circle cx="76.0" cy="325.9" r="0.55"/><circle cx="76.7" cy="329.2" r="0.55"/></g>
<g fill="#e8d020" fill-opacity="0.9"><circle cx="77.1" cy="327.8" r="0.5"/><circle cx="76.8" cy="327.1" r="0.5"/><circle cx="77.3" cy="328.3" r="0.5"/><circle cx="76.8" cy="327.8" r="0.5"/><circle cx="76.5" cy="328.7" r="0.5"/><circle cx="77.2" cy="328.0" r="0.5"/><circle cx="77.3" cy="327.6" r="0.5"/><circle cx="77.8" cy="329.1" r="0.5"/></g>
<g fill="#3550ff" fill-opacity="0.6"><circle cx="83.6" cy="322.9" r="0.55"/><circle cx="91.7" cy="331.1" r="0.55"/><circle cx="87.7" cy="328.2" r="0.55"/><circle cx="91.4" cy="326.9" r="0.55"/><circle cx="89.3" cy="327.8" r="0.55"/><circle cx="84.4" cy="323.1" r="0.55"/><circle cx="77.6" cy="328.4" r="0.55"/><circle cx="87.6" cy="325.7" r="0.55"/><circle cx="75.0" cy="326.9" r="0.55"/><circle cx="85.2" cy="324.1" r="0.55"/><circle cx="82.0" cy="330.7" r="0.55"/><circle cx="91.6" cy="326.7" r="0.55"/><circle cx="86.9" cy="324.9" r="0.55"/><circle cx="83.8" cy="327.6" r="0.55"/><circle cx="81.6" cy="326.1" r="0.55"/><circle cx="93.0" cy="322.4" r="0.55"/><circle cx="81.9" cy="330.0" r="0.55"/><circle cx="87.2" cy="326.1" r="0.55"/><circle cx="81.7" cy="323.7" r="0.55"/><circle cx="91.0" cy="320.1" r="0.55"/><circle cx="87.6" cy="324.6" r="0.55"/><circle cx="85.1" cy="321.9" r="0.55"/><circle cx="89.6" cy="326.6" r="0.55"/><circle cx="86.8" cy="326.7" r="0.55"/><circle cx="79.3" cy="327.2" r="0.55"/><circle cx="87.7" cy="325.5" r="0.55"/><circle cx="71.0" cy="327.7" r="0.55"/><circle cx="86.0" cy="323.7" r="0.55"/><circle cx="85.8" cy="328.5" r="0.55"/><circle cx="85.1" cy="328.7" r="0.55"/><circle cx="83.0" cy="324.9" r="0.55"/><circle cx="86.7" cy="324.1" r="0.55"/><circle cx="77.7" cy="327.7" r="0.55"/><circle cx="85.5" cy="327.2" r="0.55"/><circle cx="81.5" cy="325.7" r="0.55"/><circle cx="87.7" cy="324.7" r="0.55"/><circle cx="84.5" cy="326.6" r="0.55"/><circle cx="82.0" cy="326.9" r="0.55"/><circle cx="78.7" cy="327.9" r="0.55"/><circle cx="97.8" cy="325.6" r="0.55"/><circle cx="83.7" cy="323.0" r="0.55"/><circle cx="80.2" cy="326.2" r="0.55"/><circle cx="81.9" cy="327.5" r="0.55"/><circle cx="86.2" cy="327.4" r="0.55"/><circle cx="84.5" cy="327.7" r="0.55"/><circle cx="91.8" cy="323.4" r="0.55"/><circle cx="85.0" cy="325.8" r="0.55"/><circle cx="85.1" cy="328.3" r="0.55"/><circle cx="83.9" cy="324.4" r="0.55"/><circle cx="79.4" cy="323.9" r="0.55"/><circle cx="85.0" cy="327.8" r="0.55"/><circle cx="85.7" cy="324.4" r="0.55"/><circle cx="84.7" cy="324.3" r="0.55"/><circle cx="90.1" cy="325.6" r="0.55"/><circle cx="92.2" cy="326.4" r="0.55"/><circle cx="88.4" cy="323.8" r="0.55"/><circle cx="87.8" cy="324.9" r="0.55"/><circle cx="83.0" cy="326.7" r="0.55"/><circle cx="93.0" cy="326.0" r="0.55"/><circle cx="94.8" cy="326.1" r="0.55"/><circle cx="79.4" cy="325.8" r="0.55"/><circle cx="94.2" cy="326.0" r="0.55"/><circle cx="86.0" cy="325.1" r="0.55"/><circle cx="86.4" cy="326.8" r="0.55"/><circle cx="83.8" cy="326.2" r="0.55"/><circle cx="87.0" cy="323.8" r="0.55"/><circle cx="84.6" cy="324.8" r="0.55"/><circle cx="82.9" cy="324.7" r="0.55"/><circle cx="82.9" cy="324.9" r="0.55"/><circle cx="93.6" cy="324.7" r="0.55"/><circle cx="87.4" cy="324.3" r="0.55"/><circle cx="86.4" cy="326.9" r="0.55"/><circle cx="92.9" cy="328.5" r="0.55"/><circle cx="83.8" cy="329.8" r="0.55"/><circle cx="86.2" cy="328.4" r="0.55"/><circle cx="85.5" cy="327.6" r="0.55"/><circle cx="85.4" cy="323.5" r="0.55"/><circle cx="88.4" cy="325.2" r="0.55"/><circle cx="85.3" cy="326.7" r="0.55"/><circle cx="88.1" cy="330.6" r="0.55"/><circle cx="81.1" cy="325.8" r="0.55"/><circle cx="81.7" cy="329.1" r="0.55"/><circle cx="84.6" cy="325.1" r="0.55"/><circle cx="88.0" cy="326.0" r="0.55"/><circle cx="88.3" cy="322.9" r="0.55"/><circle cx="86.0" cy="327.2" r="0.55"/><circle cx="83.3" cy="328.9" r="0.55"/><circle cx="85.5" cy="324.7" r="0.55"/><circle cx="84.0" cy="327.4" r="0.55"/><circle cx="90.5" cy="324.6" r="0.55"/><circle cx="88.4" cy="325.1" r="0.55"/><circle cx="81.8" cy="324.8" r="0.55"/><circle cx="89.1" cy="324.8" r="0.55"/><circle cx="86.5" cy="329.2" r="0.55"/><circle cx="90.3" cy="324.7" r="0.55"/><circle cx="84.6" cy="326.8" r="0.55"/><circle cx="76.5" cy="328.6" r="0.55"/><circle cx="82.6" cy="327.9" r="0.55"/><circle cx="82.7" cy="325.9" r="0.55"/><circle cx="89.4" cy="326.8" r="0.55"/><circle cx="93.8" cy="324.1" r="0.55"/><circle cx="83.1" cy="329.3" r="0.55"/><circle cx="88.2" cy="323.5" r="0.55"/><circle cx="83.7" cy="327.2" r="0.55"/><circle cx="83.7" cy="323.6" r="0.55"/><circle cx="86.0" cy="326.9" r="0.55"/><circle cx="91.4" cy="327.4" r="0.55"/><circle cx="89.3" cy="324.0" r="0.55"/><circle cx="80.5" cy="324.9" r="0.55"/><circle cx="88.3" cy="327.4" r="0.55"/><circle cx="77.5" cy="328.3" r="0.55"/><circle cx="89.7" cy="328.4" r="0.55"/><circle cx="89.1" cy="327.4" r="0.55"/><circle cx="86.8" cy="325.4" r="0.55"/><circle cx="85.1" cy="326.1" r="0.55"/><circle cx="80.7" cy="326.5" r="0.55"/><circle cx="90.2" cy="324.8" r="0.55"/><circle cx="91.2" cy="323.6" r="0.55"/><circle cx="87.6" cy="324.3" r="0.55"/><circle cx="90.4" cy="326.8" r="0.55"/><circle cx="90.0" cy="327.0" r="0.55"/><circle cx="88.0" cy="327.9" r="0.55"/><circle cx="86.6" cy="321.3" r="0.55"/><circle cx="86.3" cy="327.0" r="0.55"/><circle cx="75.5" cy="329.7" r="0.55"/><circle cx="85.4" cy="328.1" r="0.55"/><circle cx="84.4" cy="326.6" r="0.55"/><circle cx="82.0" cy="326.1" r="0.55"/><circle cx="78.7" cy="327.5" r="0.55"/><circle cx="83.9" cy="325.0" r="0.55"/><circle cx="82.4" cy="324.6" r="0.55"/><circle cx="85.5" cy="325.8" r="0.55"/><circle cx="84.3" cy="328.8" r="0.55"/><circle cx="80.8" cy="325.9" r="0.55"/><circle cx="79.8" cy="326.3" r="0.55"/><circle cx="84.8" cy="322.7" r="0.55"/><circle cx="87.1" cy="321.9" r="0.55"/><circle cx="83.2" cy="325.8" r="0.55"/><circle cx="79.8" cy="329.4" r="0.55"/><circle cx="86.3" cy="323.4" r="0.55"/><circle cx="87.2" cy="326.5" r="0.55"/><circle cx="83.0" cy="324.8" r="0.55"/><circle cx="89.7" cy="329.9" r="0.55"/><circle cx="86.6" cy="330.0" r="0.55"/><circle cx="77.9" cy="323.9" r="0.55"/><circle cx="85.9" cy="324.7" r="0.55"/><circle cx="86.7" cy="329.4" r="0.55"/><circle cx="80.9" cy="327.5" r="0.55"/><circle cx="85.4" cy="323.6" r="0.55"/><circle cx="84.5" cy="324.0" r="0.55"/><circle cx="84.4" cy="329.0" r="0.55"/><circle cx="90.2" cy="327.4" r="0.55"/><circle cx="86.2" cy="324.9" r="0.55"/><circle cx="94.8" cy="324.8" r="0.55"/><circle cx="87.5" cy="327.8" r="0.55"/><circle cx="84.9" cy="327.0" r="0.55"/><circle cx="85.4" cy="326.7" r="0.55"/><circle cx="89.6" cy="322.9" r="0.55"/><circle cx="86.0" cy="324.9" r="0.55"/><circle cx="84.7" cy="326.8" r="0.55"/><circle cx="92.2" cy="321.1" r="0.55"/><circle cx="93.2" cy="323.9" r="0.55"/><circle cx="81.8" cy="325.1" r="0.55"/><circle cx="86.3" cy="326.2" r="0.55"/><circle cx="77.6" cy="323.9" r="0.55"/><circle cx="89.8" cy="325.2" r="0.55"/><circle cx="76.9" cy="326.7" r="0.55"/><circle cx="84.1" cy="329.1" r="0.55"/><circle cx="81.9" cy="325.4" r="0.55"/><circle cx="83.6" cy="326.9" r="0.55"/><circle cx="87.6" cy="326.9" r="0.55"/><circle cx="93.2" cy="324.7" r="0.55"/><circle cx="92.5" cy="325.2" r="0.55"/><circle cx="89.0" cy="327.4" r="0.55"/><circle cx="93.5" cy="323.0" r="0.55"/><circle cx="95.5" cy="320.9" r="0.55"/><circle cx="84.8" cy="325.8" r="0.55"/><circle cx="85.3" cy="328.7" r="0.55"/><circle cx="77.9" cy="324.8" r="0.55"/><circle cx="89.7" cy="328.7" r="0.55"/><circle cx="80.5" cy="325.5" r="0.55"/><circle cx="88.4" cy="326.8" r="0.55"/><circle cx="78.5" cy="326.7" r="0.55"/><circle cx="82.9" cy="324.0" r="0.55"/><circle cx="84.5" cy="324.5" r="0.55"/><circle cx="79.6" cy="331.1" r="0.55"/><circle cx="82.9" cy="324.3" r="0.55"/><circle cx="93.7" cy="324.1" r="0.55"/><circle cx="83.4" cy="321.3" r="0.55"/><circle cx="78.4" cy="329.7" r="0.55"/><circle cx="81.6" cy="325.6" r="0.55"/><circle cx="84.4" cy="326.5" r="0.55"/><circle cx="94.1" cy="321.6" r="0.55"/><circle cx="78.2" cy="330.0" r="0.55"/><circle cx="88.7" cy="327.0" r="0.55"/><circle cx="91.4" cy="325.1" r="0.55"/><circle cx="88.8" cy="327.7" r="0.55"/><circle cx="92.1" cy="325.6" r="0.55"/><circle cx="80.3" cy="325.3" r="0.55"/><circle cx="84.6" cy="325.4" r="0.55"/><circle cx="90.8" cy="323.2" r="0.55"/><circle cx="87.9" cy="324.9" r="0.55"/><circle cx="86.4" cy="328.7" r="0.55"/><circle cx="90.3" cy="324.2" r="0.55"/><circle cx="85.7" cy="327.9" r="0.55"/><circle cx="85.8" cy="328.0" r="0.55"/><circle cx="91.6" cy="324.5" r="0.55"/><circle cx="88.2" cy="329.5" r="0.55"/><circle cx="88.6" cy="324.3" r="0.55"/><circle cx="91.7" cy="325.2" r="0.55"/><circle cx="84.5" cy="327.0" r="0.55"/><circle cx="89.1" cy="324.5" r="0.55"/><circle cx="87.3" cy="327.0" r="0.55"/><circle cx="89.4" cy="325.4" r="0.55"/><circle cx="82.4" cy="326.7" r="0.55"/><circle cx="87.4" cy="326.2" r="0.55"/><circle cx="89.8" cy="326.1" r="0.55"/><circle cx="79.6" cy="328.0" r="0.55"/><circle cx="89.8" cy="322.2" r="0.55"/><circle cx="88.9" cy="327.3" r="0.55"/><circle cx="87.7" cy="326.9" r="0.55"/><circle cx="82.3" cy="327.6" r="0.55"/><circle cx="88.0" cy="324.1" r="0.55"/><circle cx="88.5" cy="327.7" r="0.55"/><circle cx="84.9" cy="330.0" r="0.55"/><circle cx="87.4" cy="326.4" r="0.55"/><circle cx="88.7" cy="326.2" r="0.55"/><circle cx="85.8" cy="325.2" r="0.55"/><circle cx="78.5" cy="324.5" r="0.55"/><circle cx="86.3" cy="328.9" r="0.55"/><circle cx="83.7" cy="321.7" r="0.55"/><circle cx="89.0" cy="323.5" r="0.55"/><circle cx="81.9" cy="327.3" r="0.55"/><circle cx="86.5" cy="326.3" r="0.55"/><circle cx="83.4" cy="325.1" r="0.55"/><circle cx="88.2" cy="327.4" r="0.55"/><circle cx="89.1" cy="327.5" r="0.55"/><circle cx="89.4" cy="325.0" r="0.55"/><circle cx="88.0" cy="325.9" r="0.55"/><circle cx="82.1" cy="330.0" r="0.55"/><circle cx="90.9" cy="324.4" r="0.55"/><circle cx="84.0" cy="326.7" r="0.55"/><circle cx="86.0" cy="325.6" r="0.55"/><circle cx="85.1" cy="329.0" r="0.55"/><circle cx="84.6" cy="325.0" r="0.55"/><circle cx="91.6" cy="325.0" r="0.55"/><circle cx="84.3" cy="324.9" r="0.55"/><circle cx="85.8" cy="325.6" r="0.55"/><circle cx="84.8" cy="325.9" r="0.55"/><circle cx="86.8" cy="323.5" r="0.55"/><circle cx="81.8" cy="325.8" r="0.55"/><circle cx="85.7" cy="325.5" r="0.55"/><circle cx="85.9" cy="326.2" r="0.55"/><circle cx="84.4" cy="325.7" r="0.55"/><circle cx="93.7" cy="325.0" r="0.55"/><circle cx="83.9" cy="327.8" r="0.55"/><circle cx="87.5" cy="324.2" r="0.55"/><circle cx="92.4" cy="320.5" r="0.55"/><circle cx="87.9" cy="326.5" r="0.55"/><circle cx="88.8" cy="325.7" r="0.55"/><circle cx="75.6" cy="324.5" r="0.55"/><circle cx="87.4" cy="323.0" r="0.55"/><circle cx="91.3" cy="328.5" r="0.55"/><circle cx="78.9" cy="328.2" r="0.55"/><circle cx="89.4" cy="330.1" r="0.55"/><circle cx="82.9" cy="327.3" r="0.55"/><circle cx="89.5" cy="323.4" r="0.55"/><circle cx="81.8" cy="327.7" r="0.55"/><circle cx="85.2" cy="324.3" r="0.55"/><circle cx="80.6" cy="326.3" r="0.55"/><circle cx="82.4" cy="327.4" r="0.55"/><circle cx="85.1" cy="329.3" r="0.55"/><circle cx="84.1" cy="325.3" r="0.55"/><circle cx="87.6" cy="327.3" r="0.55"/><circle cx="81.4" cy="325.4" r="0.55"/><circle cx="81.6" cy="324.3" r="0.55"/><circle cx="85.1" cy="326.7" r="0.55"/><circle cx="82.7" cy="324.5" r="0.55"/><circle cx="81.0" cy="329.9" r="0.55"/><circle cx="86.8" cy="326.5" r="0.55"/><circle cx="82.6" cy="325.1" r="0.55"/><circle cx="84.4" cy="325.5" r="0.55"/><circle cx="79.7" cy="327.0" r="0.55"/><circle cx="83.4" cy="326.7" r="0.55"/><circle cx="88.7" cy="326.3" r="0.55"/><circle cx="83.3" cy="329.9" r="0.55"/><circle cx="91.9" cy="326.4" r="0.55"/><circle cx="90.4" cy="324.7" r="0.55"/><circle cx="88.4" cy="327.8" r="0.55"/><circle cx="89.4" cy="324.6" r="0.55"/><circle cx="85.1" cy="324.8" r="0.55"/><circle cx="85.3" cy="327.7" r="0.55"/><circle cx="77.8" cy="324.3" r="0.55"/><circle cx="86.2" cy="326.4" r="0.55"/><circle cx="85.3" cy="328.6" r="0.55"/><circle cx="83.4" cy="324.2" r="0.55"/><circle cx="84.6" cy="324.1" r="0.55"/><circle cx="91.4" cy="329.0" r="0.55"/><circle cx="85.2" cy="326.2" r="0.55"/><circle cx="87.1" cy="327.0" r="0.55"/><circle cx="84.8" cy="324.6" r="0.55"/><circle cx="88.5" cy="328.1" r="0.55"/><circle cx="82.2" cy="324.2" r="0.55"/><circle cx="84.5" cy="330.1" r="0.55"/><circle cx="82.6" cy="324.8" r="0.55"/><circle cx="88.2" cy="325.0" r="0.55"/><circle cx="83.8" cy="328.5" r="0.55"/><circle cx="80.8" cy="325.5" r="0.55"/><circle cx="91.3" cy="326.9" r="0.55"/><circle cx="89.4" cy="325.2" r="0.55"/><circle cx="86.5" cy="325.0" r="0.55"/><circle cx="89.8" cy="327.0" r="0.55"/><circle cx="90.5" cy="324.4" r="0.55"/><circle cx="85.8" cy="327.0" r="0.55"/><circle cx="91.2" cy="323.8" r="0.55"/><circle cx="88.8" cy="325.5" r="0.55"/><circle cx="85.7" cy="324.9" r="0.55"/><circle cx="88.5" cy="326.9" r="0.55"/><circle cx="81.3" cy="329.1" r="0.55"/><circle cx="82.2" cy="327.2" r="0.55"/><circle cx="91.8" cy="322.8" r="0.55"/><circle cx="78.6" cy="327.9" r="0.55"/><circle cx="88.7" cy="326.3" r="0.55"/><circle cx="89.0" cy="324.0" r="0.55"/><circle cx="87.8" cy="326.5" r="0.55"/><circle cx="88.7" cy="324.4" r="0.55"/><circle cx="97.0" cy="324.2" r="0.55"/><circle cx="78.3" cy="325.2" r="0.55"/><circle cx="80.9" cy="329.2" r="0.55"/><circle cx="90.0" cy="326.1" r="0.55"/><circle cx="88.8" cy="325.7" r="0.55"/><circle cx="90.9" cy="324.3" r="0.55"/><circle cx="93.2" cy="326.0" r="0.55"/><circle cx="92.9" cy="321.8" r="0.55"/><circle cx="83.3" cy="326.7" r="0.55"/><circle cx="86.2" cy="323.5" r="0.55"/><circle cx="90.2" cy="326.0" r="0.55"/><circle cx="80.1" cy="324.7" r="0.55"/><circle cx="82.9" cy="325.3" r="0.55"/><circle cx="86.6" cy="326.1" r="0.55"/><circle cx="88.7" cy="326.8" r="0.55"/><circle cx="78.3" cy="329.6" r="0.55"/><circle cx="77.6" cy="327.0" r="0.55"/><circle cx="82.7" cy="323.8" r="0.55"/><circle cx="90.1" cy="322.4" r="0.55"/><circle cx="83.8" cy="324.2" r="0.55"/><circle cx="87.4" cy="324.6" r="0.55"/><circle cx="85.4" cy="327.0" r="0.55"/><circle cx="86.2" cy="326.7" r="0.55"/><circle cx="87.0" cy="327.3" r="0.55"/><circle cx="82.0" cy="321.4" r="0.55"/><circle cx="81.3" cy="324.4" r="0.55"/><circle cx="83.2" cy="326.1" r="0.55"/><circle cx="84.7" cy="323.7" r="0.55"/><circle cx="77.7" cy="328.0" r="0.55"/><circle cx="87.9" cy="325.3" r="0.55"/><circle cx="89.5" cy="325.7" r="0.55"/><circle cx="81.1" cy="325.6" r="0.55"/><circle cx="84.6" cy="327.5" r="0.55"/><circle cx="83.8" cy="326.5" r="0.55"/><circle cx="76.6" cy="327.4" r="0.55"/><circle cx="90.8" cy="323.1" r="0.55"/><circle cx="87.2" cy="327.4" r="0.55"/><circle cx="87.6" cy="326.5" r="0.55"/><circle cx="87.0" cy="326.0" r="0.55"/><circle cx="84.9" cy="324.7" r="0.55"/><circle cx="83.2" cy="324.4" r="0.55"/><circle cx="85.2" cy="328.7" r="0.55"/><circle cx="82.8" cy="326.4" r="0.55"/><circle cx="84.8" cy="328.2" r="0.55"/><circle cx="85.8" cy="328.0" r="0.55"/><circle cx="78.7" cy="330.1" r="0.55"/><circle cx="89.8" cy="328.0" r="0.55"/><circle cx="86.1" cy="326.4" r="0.55"/><circle cx="89.1" cy="322.9" r="0.55"/><circle cx="78.2" cy="329.2" r="0.55"/><circle cx="84.4" cy="327.8" r="0.55"/><circle cx="90.1" cy="322.8" r="0.55"/><circle cx="89.1" cy="325.0" r="0.55"/><circle cx="84.6" cy="322.1" r="0.55"/></g>
<g fill="#30b080" fill-opacity="0.75"><circle cx="82.7" cy="327.6" r="0.55"/><circle cx="88.4" cy="324.7" r="0.55"/><circle cx="90.1" cy="324.0" r="0.55"/><circle cx="94.0" cy="325.3" r="0.55"/><circle cx="87.2" cy="326.3" r="0.55"/><circle cx="84.0" cy="326.4" r="0.55"/><circle cx="90.3" cy="326.2" r="0.55"/><circle cx="89.0" cy="324.1" r="0.55"/><circle cx="88.4" cy="323.9" r="0.55"/><circle cx="88.1" cy="324.7" r="0.55"/><circle cx="85.3" cy="326.6" r="0.55"/><circle cx="93.3" cy="326.4" r="0.55"/><circle cx="86.5" cy="325.1" r="0.55"/><circle cx="84.8" cy="325.2" r="0.55"/><circle cx="87.9" cy="325.9" r="0.55"/><circle cx="86.3" cy="325.6" r="0.55"/><circle cx="84.2" cy="325.3" r="0.55"/><circle cx="91.3" cy="326.5" r="0.55"/><circle cx="89.0" cy="325.4" r="0.55"/><circle cx="88.1" cy="324.6" r="0.55"/><circle cx="84.1" cy="326.4" r="0.55"/><circle cx="84.3" cy="326.2" r="0.55"/><circle cx="84.1" cy="325.7" r="0.55"/><circle cx="92.1" cy="325.5" r="0.55"/><circle cx="87.1" cy="325.7" r="0.55"/><circle cx="83.0" cy="327.0" r="0.55"/><circle cx="85.2" cy="324.8" r="0.55"/><circle cx="85.3" cy="325.7" r="0.55"/><circle cx="85.4" cy="325.0" r="0.55"/><circle cx="88.7" cy="325.5" r="0.55"/><circle cx="90.9" cy="325.9" r="0.55"/><circle cx="90.8" cy="323.8" r="0.55"/><circle cx="87.6" cy="325.9" r="0.55"/><circle cx="89.9" cy="324.8" r="0.55"/><circle cx="89.1" cy="326.4" r="0.55"/><circle cx="84.7" cy="324.8" r="0.55"/><circle cx="85.0" cy="325.9" r="0.55"/><circle cx="84.2" cy="325.8" r="0.55"/><circle cx="86.0" cy="324.5" r="0.55"/><circle cx="82.3" cy="328.4" r="0.55"/><circle cx="90.9" cy="326.1" r="0.55"/><circle cx="82.9" cy="326.9" r="0.55"/><circle cx="86.4" cy="324.2" r="0.55"/><circle cx="85.7" cy="325.1" r="0.55"/><circle cx="91.9" cy="325.0" r="0.55"/><circle cx="87.2" cy="325.9" r="0.55"/><circle cx="88.7" cy="323.9" r="0.55"/><circle cx="90.6" cy="325.3" r="0.55"/><circle cx="90.2" cy="326.9" r="0.55"/><circle cx="86.4" cy="328.0" r="0.55"/><circle cx="86.4" cy="325.2" r="0.55"/><circle cx="81.2" cy="327.6" r="0.55"/><circle cx="86.8" cy="324.9" r="0.55"/><circle cx="85.8" cy="326.2" r="0.55"/><circle cx="90.4" cy="325.8" r="0.55"/><circle cx="86.6" cy="324.8" r="0.55"/><circle cx="82.0" cy="325.4" r="0.55"/><circle cx="88.6" cy="324.8" r="0.55"/><circle cx="92.8" cy="325.8" r="0.55"/><circle cx="86.5" cy="326.1" r="0.55"/><circle cx="88.0" cy="324.5" r="0.55"/><circle cx="86.4" cy="323.9" r="0.55"/><circle cx="86.5" cy="326.6" r="0.55"/><circle cx="86.1" cy="327.4" r="0.55"/><circle cx="86.8" cy="326.3" r="0.55"/><circle cx="88.7" cy="324.6" r="0.55"/><circle cx="84.2" cy="326.3" r="0.55"/><circle cx="89.6" cy="325.1" r="0.55"/><circle cx="87.0" cy="322.5" r="0.55"/><circle cx="85.6" cy="326.6" r="0.55"/><circle cx="90.3" cy="325.5" r="0.55"/><circle cx="85.2" cy="326.6" r="0.55"/><circle cx="86.6" cy="326.4" r="0.55"/><circle cx="91.4" cy="324.0" r="0.55"/><circle cx="86.6" cy="325.8" r="0.55"/><circle cx="88.5" cy="325.4" r="0.55"/><circle cx="89.8" cy="326.1" r="0.55"/><circle cx="85.8" cy="325.5" r="0.55"/><circle cx="90.3" cy="324.0" r="0.55"/><circle cx="85.8" cy="323.4" r="0.55"/><circle cx="84.9" cy="327.8" r="0.55"/><circle cx="93.4" cy="324.3" r="0.55"/><circle cx="92.5" cy="325.4" r="0.55"/><circle cx="88.6" cy="325.2" r="0.55"/><circle cx="90.7" cy="323.6" r="0.55"/><circle cx="91.6" cy="325.2" r="0.55"/><circle cx="87.6" cy="323.6" r="0.55"/><circle cx="94.2" cy="325.6" r="0.55"/><circle cx="88.4" cy="325.5" r="0.55"/><circle cx="90.3" cy="324.7" r="0.55"/><circle cx="88.5" cy="326.2" r="0.55"/><circle cx="85.7" cy="325.0" r="0.55"/><circle cx="90.9" cy="324.2" r="0.55"/><circle cx="85.3" cy="326.3" r="0.55"/><circle cx="93.4" cy="326.7" r="0.55"/><circle cx="85.0" cy="328.0" r="0.55"/><circle cx="83.9" cy="325.5" r="0.55"/><circle cx="88.8" cy="326.3" r="0.55"/><circle cx="89.8" cy="325.8" r="0.55"/><circle cx="82.5" cy="324.4" r="0.55"/><circle cx="87.6" cy="326.0" r="0.55"/><circle cx="87.7" cy="324.8" r="0.55"/><circle cx="88.4" cy="326.4" r="0.55"/><circle cx="79.4" cy="327.8" r="0.55"/><circle cx="92.5" cy="325.6" r="0.55"/><circle cx="85.8" cy="325.7" r="0.55"/><circle cx="87.8" cy="327.6" r="0.55"/><circle cx="88.6" cy="326.2" r="0.55"/><circle cx="90.4" cy="325.3" r="0.55"/><circle cx="85.9" cy="323.9" r="0.55"/></g>
<g fill="#e8d020" fill-opacity="0.9"><circle cx="89.4" cy="324.5" r="0.55"/><circle cx="89.8" cy="326.0" r="0.55"/><circle cx="91.2" cy="325.5" r="0.55"/><circle cx="89.4" cy="324.8" r="0.55"/><circle cx="88.9" cy="324.1" r="0.55"/><circle cx="87.6" cy="323.5" r="0.55"/><circle cx="90.5" cy="324.9" r="0.55"/><circle cx="90.5" cy="323.8" r="0.55"/><circle cx="89.7" cy="325.0" r="0.55"/><circle cx="90.1" cy="324.8" r="0.55"/><circle cx="90.4" cy="325.8" r="0.55"/><circle cx="90.9" cy="323.3" r="0.55"/><circle cx="88.0" cy="326.1" r="0.55"/><circle cx="92.2" cy="325.4" r="0.55"/><circle cx="89.0" cy="326.0" r="0.55"/><circle cx="89.6" cy="325.2" r="0.55"/><circle cx="90.9" cy="325.1" r="0.55"/><circle cx="87.5" cy="324.4" r="0.55"/><circle cx="90.1" cy="324.3" r="0.55"/><circle cx="89.8" cy="324.6" r="0.55"/><circle cx="90.0" cy="324.6" r="0.55"/><circle cx="90.4" cy="324.7" r="0.55"/><circle cx="88.2" cy="325.4" r="0.55"/><circle cx="89.8" cy="325.1" r="0.55"/><circle cx="87.7" cy="324.6" r="0.55"/></g>
<g fill="#e03020" fill-opacity="0.95"><circle cx="89.2" cy="324.2" r="0.6"/><circle cx="90.1" cy="324.7" r="0.6"/><circle cx="90.6" cy="325.1" r="0.6"/><circle cx="89.4" cy="325.2" r="0.6"/><circle cx="89.8" cy="324.5" r="0.6"/><circle cx="90.2" cy="324.5" r="0.6"/><circle cx="90.8" cy="325.2" r="0.6"/><circle cx="89.5" cy="324.7" r="0.6"/><circle cx="90.2" cy="324.1" r="0.6"/><circle cx="89.7" cy="324.1" r="0.6"/></g>
<rect x="62.4" y="290.5" width="64.1" height="63.0" fill="none" stroke="#000" stroke-width="1.4"/>
<text x="65" y="299" text-anchor="start" style="font-size:6.0px;stroke:#1a1a1a;stroke-width:0.22px" fill="#1a1a1a" textLength="10.8" lengthAdjust="spacingAndGlyphs">13.9</text>
<text x="108" y="299" text-anchor="start" style="font-size:6.0px;stroke:#1a1a1a;stroke-width:0.22px" fill="#1a1a1a" textLength="11.6" lengthAdjust="spacingAndGlyphs">60.0</text>
<text x="65" y="347.4" text-anchor="start" style="font-size:6.0px;stroke:#1a1a1a;stroke-width:0.22px" fill="#1a1a1a" textLength="10.8" lengthAdjust="spacingAndGlyphs">17.4</text>
<text x="108" y="347.4" text-anchor="start" style="font-size:6.0px;stroke:#1a1a1a;stroke-width:0.22px" fill="#1a1a1a" textLength="11.6" lengthAdjust="spacingAndGlyphs">8.72</text>
<line x1="48.2" y1="226.1" x2="48.2" y2="318.6" stroke="#111" stroke-width="1.1"/>
<polygon points="48.2,219.4 44.7,227.6 48.2,225.79999999999998 51.7,227.6" fill="#000"/>
<text transform="translate(34.2,249.4) rotate(-90)" text-anchor="middle" style="font-size:12px;stroke:#1a1a1a;stroke-width:0.1px;font-style:italic" fill="#1a1a1a" textLength="34.6" lengthAdjust="spacingAndGlyphs">control</text>
<text transform="translate(34.3,343.3) rotate(-90)" style="font-size:11.3px;font-style:italic;stroke:#1a1a1a;stroke-width:0.1px" fill="#1a1a1a"><tspan textLength="28.7" lengthAdjust="spacingAndGlyphs">Tip60</tspan><tspan dy="-3.60" style="font-size:8.3px" textLength="13.3" lengthAdjust="spacingAndGlyphs">Δ/Δ</tspan></text>
<text transform="translate(51.8,342.9) rotate(-90)" text-anchor="start" style="font-size:11px;stroke:#1a1a1a;stroke-width:0.1px" fill="#1a1a1a" textLength="21.5" lengthAdjust="spacingAndGlyphs">Ki-67</text>
<text x="65.6" y="370.7" text-anchor="start" style="font-size:10px;stroke:#1a1a1a;stroke-width:0.1px" fill="#1a1a1a" textLength="31.2" lengthAdjust="spacingAndGlyphs">Hoechst</text>
<line x1="169.25" y1="222.5" x2="169.25" y2="353.75" stroke="#111" stroke-width="1.3"/>
<line x1="165.9" y1="353.75" x2="169.25" y2="353.75" stroke="#111" stroke-width="1.1"/>
<text x="162.6" y="357.15" text-anchor="end" style="font-size:10.4px;stroke:#1a1a1a;stroke-width:0.1px" fill="#1a1a1a" textLength="5.1" lengthAdjust="spacingAndGlyphs">0</text>
<line x1="165.9" y1="321.6875" x2="169.25" y2="321.6875" stroke="#111" stroke-width="1.1"/>
<text x="162.6" y="325.0875" text-anchor="end" style="font-size:10.4px;stroke:#1a1a1a;stroke-width:0.1px" fill="#1a1a1a" textLength="10.0" lengthAdjust="spacingAndGlyphs">20</text>
<line x1="165.9" y1="289.625" x2="169.25" y2="289.625" stroke="#111" stroke-width="1.1"/>
<text x="162.6" y="293.025" text-anchor="end" style="font-size:10.4px;stroke:#1a1a1a;stroke-width:0.1px" fill="#1a1a1a" textLength="10.0" lengthAdjust="spacingAndGlyphs">40</text>
<line x1="165.9" y1="257.5625" x2="169.25" y2="257.5625" stroke="#111" stroke-width="1.1"/>
<text x="162.6" y="260.9625" text-anchor="end" style="font-size:10.4px;stroke:#1a1a1a;stroke-width:0.1px" fill="#1a1a1a" textLength="10.0" lengthAdjust="spacingAndGlyphs">60</text>
<line x1="165.9" y1="225.5" x2="169.25" y2="225.5" stroke="#111" stroke-width="1.1"/>
<text x="162.6" y="228.9" text-anchor="end" style="font-size:10.4px;stroke:#1a1a1a;stroke-width:0.1px" fill="#1a1a1a" textLength="10.0" lengthAdjust="spacingAndGlyphs">80</text>
<line x1="168.65" y1="353.75" x2="254" y2="353.75" stroke="#111" stroke-width="1.3"/>
<rect x="175" y="284.25" width="8.25" height="69.5" fill="#a50026"/>
<line x1="179.125" y1="278" x2="179.125" y2="284.25" stroke="#444" stroke-width="1.25"/>
<line x1="176.85625" y1="278" x2="181.39375" y2="278" stroke="#222" stroke-width="1.4"/>
<rect x="183.65" y="323.4" width="7.7" height="30.35" fill="#2e4b80" stroke="#1d3570" stroke-width="0.8"/>
<line x1="187.5" y1="314.5" x2="187.5" y2="323" stroke="#444" stroke-width="1.25"/>
<line x1="185.1625" y1="314.5" x2="189.8375" y2="314.5" stroke="#222" stroke-width="1.4"/>
<rect x="203.25" y="310.75" width="8.5" height="43.0" fill="#a50026"/>
<line x1="207.5" y1="303" x2="207.5" y2="310.75" stroke="#444" stroke-width="1.25"/>
<line x1="205.1625" y1="303" x2="209.8375" y2="303" stroke="#222" stroke-width="1.4"/>
<rect x="212.15" y="303.65" width="7.45" height="50.1" fill="#2e4b80" stroke="#1d3570" stroke-width="0.8"/>
<line x1="215.875" y1="293" x2="215.875" y2="303.25" stroke="#444" stroke-width="1.25"/>
<line x1="213.60625" y1="293" x2="218.14375" y2="293" stroke="#222" stroke-width="1.4"/>
<rect x="231.75" y="322.5" width="8.25" height="31.25" fill="#a50026"/>
<line x1="235.875" y1="317" x2="235.875" y2="322.5" stroke="#444" stroke-width="1.25"/>
<line x1="233.60625" y1="317" x2="238.14375" y2="317" stroke="#222" stroke-width="1.4"/>
<rect x="240.4" y="284.15" width="7.7" height="69.6" fill="#2e4b80" stroke="#1d3570" stroke-width="0.8"/>
<line x1="244.25" y1="268.75" x2="244.25" y2="283.75" stroke="#444" stroke-width="1.25"/>
<line x1="241.9125" y1="268.75" x2="246.5875" y2="268.75" stroke="#222" stroke-width="1.4"/>
<polyline points="178.9,275.3 178.9,270.4 187.4,270.4 187.4,312" fill="none" stroke="#333" stroke-width="1"/>
<g fill="#111" stroke="#111" stroke-width="0.5" stroke-linejoin="round"><polygon points="181.20,265.05 181.63,265.91 182.58,266.05 181.89,266.72 182.05,267.67 181.20,267.23 180.35,267.67 180.51,266.72 179.82,266.05 180.77,265.91"/><polygon points="185.80,265.05 186.23,265.91 187.18,266.05 186.49,266.72 186.65,267.67 185.80,267.23 184.95,267.67 185.11,266.72 184.42,266.05 185.37,265.91"/></g>
<polyline points="207.7,300.5 207.7,286.5 216.4,286.5 216.4,290.5" fill="none" stroke="#333" stroke-width="1"/>
<text x="212" y="283.8" text-anchor="middle" style="font-size:9.6px;stroke:#1a1a1a;stroke-width:0.1px" fill="#1a1a1a" textLength="8.5" lengthAdjust="spacingAndGlyphs">ns</text>
<polyline points="235.6,314.5 235.6,261.9 244.5,261.9 244.5,266.3" fill="none" stroke="#333" stroke-width="1"/>
<g fill="#111" stroke="#111" stroke-width="0.5" stroke-linejoin="round"><polygon points="239.90,255.85 240.33,256.71 241.28,256.85 240.59,257.52 240.75,258.47 239.90,258.03 239.05,258.47 239.21,257.52 238.52,256.85 239.47,256.71"/></g>
<rect x="180" y="225.5" width="11.75" height="5.25" fill="#a50026"/>
<text x="196.3" y="230.8" text-anchor="start" style="font-size:9.2px;stroke:#1a1a1a;stroke-width:0.22px;font-style:italic" fill="#1a1a1a" textLength="26.2" lengthAdjust="spacingAndGlyphs">control</text>
<rect x="180" y="243.75" width="11.75" height="5.5" fill="#2e4b80"/>
<text x="196.3" y="249.3" style="font-size:9.2px;font-style:italic;stroke:#1a1a1a;stroke-width:0.22px" fill="#1a1a1a">Tip60<tspan dy="-3.86" style="font-size:6.4399999999999995px">Δ/Δ</tspan></text>
<text transform="translate(145.4,287.8) rotate(-90)" text-anchor="middle" style="font-size:10.1px;stroke:#1a1a1a;stroke-width:0.1px" fill="#1a1a1a" textLength="78" lengthAdjust="spacingAndGlyphs">HSC distribution (%)</text>
<text x="178" y="368.8" text-anchor="start" style="font-size:10px;stroke:#1a1a1a;stroke-width:0.1px" fill="#1a1a1a" textLength="11.2" lengthAdjust="spacingAndGlyphs">G0</text>
<text x="206.3" y="368.8" text-anchor="start" style="font-size:10px;stroke:#1a1a1a;stroke-width:0.1px" fill="#1a1a1a" textLength="10" lengthAdjust="spacingAndGlyphs">G1</text>
<text x="235" y="368.8" text-anchor="start" style="font-size:10px;stroke:#1a1a1a;stroke-width:0.1px" fill="#1a1a1a" textLength="7.5" lengthAdjust="spacingAndGlyphs">S-</text>
<text x="232.5" y="379.5" text-anchor="start" style="font-size:10px;stroke:#1a1a1a;stroke-width:0.1px" fill="#1a1a1a" textLength="20" lengthAdjust="spacingAndGlyphs">G2/M</text>
<text x="321.3" y="212" text-anchor="start" style="font-size:10.3px;stroke:#1a1a1a;stroke-width:0.1px" fill="#1a1a1a" textLength="51.2" lengthAdjust="spacingAndGlyphs">Adult HSC</text>
<g stroke="#000" stroke-width="0.85"><line x1="313.3" y1="279.0" x2="315" y2="279.0"/><line x1="313.3" y1="277.8" x2="315" y2="277.8"/><line x1="313.3" y1="276.8" x2="315" y2="276.8"/><line x1="313.3" y1="276.0" x2="315" y2="276.0"/><line x1="313.3" y1="275.2" x2="315" y2="275.2"/><line x1="313.3" y1="274.6" x2="315" y2="274.6"/><line x1="312.0" y1="274.0" x2="315" y2="274.0"/><line x1="313.3" y1="270.2" x2="315" y2="270.2"/><line x1="313.3" y1="268.0" x2="315" y2="268.0"/><line x1="313.3" y1="266.4" x2="315" y2="266.4"/><line x1="313.3" y1="265.2" x2="315" y2="265.2"/><line x1="313.3" y1="264.2" x2="315" y2="264.2"/><line x1="313.3" y1="263.3" x2="315" y2="263.3"/><line x1="313.3" y1="262.6" x2="315" y2="262.6"/><line x1="313.3" y1="261.9" x2="315" y2="261.9"/><line x1="312.0" y1="261.4" x2="315" y2="261.4"/><line x1="313.3" y1="257.5" x2="315" y2="257.5"/><line x1="313.3" y1="255.3" x2="315" y2="255.3"/><line x1="313.3" y1="253.7" x2="315" y2="253.7"/><line x1="313.3" y1="252.5" x2="315" y2="252.5"/><line x1="313.3" y1="251.5" x2="315" y2="251.5"/><line x1="313.3" y1="250.7" x2="315" y2="250.7"/><line x1="313.3" y1="249.9" x2="315" y2="249.9"/><line x1="313.3" y1="249.3" x2="315" y2="249.3"/><line x1="312.0" y1="248.7" x2="315" y2="248.7"/><line x1="313.3" y1="244.9" x2="315" y2="244.9"/><line x1="313.3" y1="242.7" x2="315" y2="242.7"/><line x1="313.3" y1="241.1" x2="315" y2="241.1"/><line x1="313.3" y1="239.9" x2="315" y2="239.9"/><line x1="313.3" y1="238.9" x2="315" y2="238.9"/><line x1="313.3" y1="238.0" x2="315" y2="238.0"/><line x1="313.3" y1="237.3" x2="315" y2="237.3"/><line x1="313.3" y1="236.6" x2="315" y2="236.6"/><line x1="312.0" y1="236.1" x2="315" y2="236.1"/><line x1="313.3" y1="232.3" x2="315" y2="232.3"/><line x1="313.3" y1="230.0" x2="315" y2="230.0"/><line x1="313.3" y1="228.4" x2="315" y2="228.4"/><line x1="313.3" y1="227.2" x2="315" y2="227.2"/><line x1="313.3" y1="226.2" x2="315" y2="226.2"/><line x1="313.3" y1="225.4" x2="315" y2="225.4"/><line x1="313.3" y1="224.6" x2="315" y2="224.6"/><line x1="313.3" y1="224.0" x2="315" y2="224.0"/><line x1="312.0" y1="223.4" x2="315" y2="223.4"/><line x1="313.3" y1="219.6" x2="315" y2="219.6"/><line x1="315.0" y1="280.8" x2="315.0" y2="283.8"/><line x1="318.6" y1="280.8" x2="318.6" y2="282.4"/><line x1="320.7" y1="280.8" x2="320.7" y2="282.4"/><line x1="322.2" y1="280.8" x2="322.2" y2="282.4"/><line x1="323.4" y1="280.8" x2="323.4" y2="282.4"/><line x1="324.4" y1="280.8" x2="324.4" y2="282.4"/><line x1="325.2" y1="280.8" x2="325.2" y2="282.4"/><line x1="325.9" y1="280.8" x2="325.9" y2="282.4"/><line x1="326.5" y1="280.8" x2="326.5" y2="282.4"/><line x1="327.0" y1="280.8" x2="327.0" y2="283.8"/><line x1="330.6" y1="280.8" x2="330.6" y2="282.4"/><line x1="332.8" y1="280.8" x2="332.8" y2="282.4"/><line x1="334.3" y1="280.8" x2="334.3" y2="282.4"/><line x1="335.4" y1="280.8" x2="335.4" y2="282.4"/><line x1="336.4" y1="280.8" x2="336.4" y2="282.4"/><line x1="337.2" y1="280.8" x2="337.2" y2="282.4"/><line x1="337.9" y1="280.8" x2="337.9" y2="282.4"/><line x1="338.5" y1="280.8" x2="338.5" y2="282.4"/><line x1="339.0" y1="280.8" x2="339.0" y2="283.8"/><line x1="342.7" y1="280.8" x2="342.7" y2="282.4"/><line x1="344.8" y1="280.8" x2="344.8" y2="282.4"/><line x1="346.3" y1="280.8" x2="346.3" y2="282.4"/><line x1="347.4" y1="280.8" x2="347.4" y2="282.4"/><line x1="348.4" y1="280.8" x2="348.4" y2="282.4"/><line x1="349.2" y1="280.8" x2="349.2" y2="282.4"/><line x1="349.9" y1="280.8" x2="349.9" y2="282.4"/><line x1="350.5" y1="280.8" x2="350.5" y2="282.4"/><line x1="351.1" y1="280.8" x2="351.1" y2="283.8"/><line x1="354.7" y1="280.8" x2="354.7" y2="282.4"/><line x1="356.8" y1="280.8" x2="356.8" y2="282.4"/><line x1="358.3" y1="280.8" x2="358.3" y2="282.4"/><line x1="359.5" y1="280.8" x2="359.5" y2="282.4"/><line x1="360.4" y1="280.8" x2="360.4" y2="282.4"/><line x1="361.2" y1="280.8" x2="361.2" y2="282.4"/><line x1="361.9" y1="280.8" x2="361.9" y2="282.4"/><line x1="362.5" y1="280.8" x2="362.5" y2="282.4"/><line x1="363.1" y1="280.8" x2="363.1" y2="283.8"/><line x1="366.7" y1="280.8" x2="366.7" y2="282.4"/><line x1="368.8" y1="280.8" x2="368.8" y2="282.4"/><line x1="370.3" y1="280.8" x2="370.3" y2="282.4"/><line x1="371.5" y1="280.8" x2="371.5" y2="282.4"/><line x1="372.4" y1="280.8" x2="372.4" y2="282.4"/><line x1="373.2" y1="280.8" x2="373.2" y2="282.4"/><line x1="373.9" y1="280.8" x2="373.9" y2="282.4"/><line x1="374.5" y1="280.8" x2="374.5" y2="282.4"/><line x1="375.1" y1="280.8" x2="375.1" y2="283.8"/></g>
<line x1="335.2" y1="218.2" x2="335.2" y2="280.8" stroke="#555" stroke-width="0.8"/>
<line x1="315" y1="245.2" x2="378.1" y2="245.2" stroke="#555" stroke-width="0.8"/>
<line x1="335.2" y1="218.2" x2="335.2" y2="280.8" stroke="#8a8a8a" stroke-width="1.3"/>
<g fill="#4a62ff" fill-opacity="0.35"><circle cx="331.2" cy="250.2" r="0.5"/><circle cx="327.2" cy="254.5" r="0.5"/><circle cx="330.8" cy="251.8" r="0.5"/><circle cx="330.5" cy="258.0" r="0.5"/><circle cx="332.4" cy="256.3" r="0.5"/><circle cx="329.3" cy="247.8" r="0.5"/><circle cx="327.5" cy="248.8" r="0.5"/><circle cx="323.1" cy="258.4" r="0.5"/><circle cx="330.4" cy="250.5" r="0.5"/><circle cx="332.3" cy="248.2" r="0.5"/><circle cx="330.7" cy="254.1" r="0.5"/><circle cx="326.0" cy="259.0" r="0.5"/><circle cx="330.4" cy="253.3" r="0.5"/><circle cx="327.4" cy="246.9" r="0.5"/><circle cx="334.4" cy="247.4" r="0.5"/><circle cx="329.0" cy="252.6" r="0.5"/><circle cx="333.7" cy="237.7" r="0.5"/><circle cx="333.8" cy="251.5" r="0.5"/><circle cx="332.4" cy="244.9" r="0.5"/><circle cx="330.8" cy="258.4" r="0.5"/><circle cx="329.8" cy="246.9" r="0.5"/><circle cx="328.9" cy="247.4" r="0.5"/><circle cx="332.1" cy="251.1" r="0.5"/><circle cx="328.8" cy="254.2" r="0.5"/><circle cx="327.2" cy="242.7" r="0.5"/><circle cx="336.4" cy="246.8" r="0.5"/><circle cx="334.2" cy="249.7" r="0.5"/><circle cx="329.5" cy="252.8" r="0.5"/><circle cx="327.9" cy="245.8" r="0.5"/><circle cx="329.5" cy="248.1" r="0.5"/><circle cx="331.9" cy="260.1" r="0.5"/><circle cx="327.0" cy="245.6" r="0.5"/><circle cx="332.0" cy="252.7" r="0.5"/><circle cx="332.9" cy="246.3" r="0.5"/><circle cx="331.6" cy="249.8" r="0.5"/><circle cx="325.9" cy="252.4" r="0.5"/><circle cx="326.0" cy="252.9" r="0.5"/><circle cx="328.9" cy="249.1" r="0.5"/><circle cx="335.6" cy="258.0" r="0.5"/><circle cx="331.2" cy="252.1" r="0.5"/><circle cx="328.1" cy="256.5" r="0.5"/><circle cx="331.7" cy="245.7" r="0.5"/><circle cx="325.8" cy="250.1" r="0.5"/><circle cx="329.6" cy="254.6" r="0.5"/><circle cx="327.4" cy="245.6" r="0.5"/><circle cx="331.1" cy="250.6" r="0.5"/><circle cx="332.5" cy="255.9" r="0.5"/><circle cx="327.7" cy="237.9" r="0.5"/><circle cx="330.2" cy="246.3" r="0.5"/><circle cx="330.7" cy="236.2" r="0.5"/><circle cx="329.8" cy="250.6" r="0.5"/><circle cx="328.6" cy="252.8" r="0.5"/><circle cx="330.3" cy="251.3" r="0.5"/><circle cx="333.4" cy="256.8" r="0.5"/><circle cx="333.1" cy="252.0" r="0.5"/><circle cx="330.4" cy="253.0" r="0.5"/><circle cx="330.9" cy="246.3" r="0.5"/><circle cx="331.1" cy="254.8" r="0.5"/><circle cx="329.0" cy="244.5" r="0.5"/><circle cx="331.5" cy="246.2" r="0.5"/><circle cx="326.2" cy="248.9" r="0.5"/><circle cx="326.3" cy="251.8" r="0.5"/><circle cx="328.7" cy="250.5" r="0.5"/><circle cx="333.0" cy="255.9" r="0.5"/><circle cx="329.8" cy="238.5" r="0.5"/><circle cx="328.8" cy="244.1" r="0.5"/><circle cx="332.4" cy="258.1" r="0.5"/><circle cx="331.9" cy="253.4" r="0.5"/><circle cx="331.5" cy="253.6" r="0.5"/><circle cx="329.1" cy="254.7" r="0.5"/><circle cx="329.3" cy="244.2" r="0.5"/><circle cx="330.2" cy="258.3" r="0.5"/><circle cx="329.6" cy="241.0" r="0.5"/><circle cx="333.2" cy="251.4" r="0.5"/><circle cx="331.5" cy="247.7" r="0.5"/><circle cx="331.3" cy="258.4" r="0.5"/><circle cx="328.4" cy="253.7" r="0.5"/><circle cx="331.0" cy="245.7" r="0.5"/><circle cx="330.5" cy="253.2" r="0.5"/><circle cx="327.9" cy="256.1" r="0.5"/><circle cx="327.2" cy="256.1" r="0.5"/><circle cx="331.7" cy="251.5" r="0.5"/><circle cx="328.1" cy="246.1" r="0.5"/><circle cx="324.4" cy="250.0" r="0.5"/><circle cx="329.7" cy="253.0" r="0.5"/><circle cx="332.7" cy="251.2" r="0.5"/><circle cx="329.2" cy="255.2" r="0.5"/><circle cx="330.0" cy="250.0" r="0.5"/><circle cx="327.1" cy="255.5" r="0.5"/><circle cx="328.3" cy="260.1" r="0.5"/><circle cx="327.9" cy="247.7" r="0.5"/><circle cx="330.3" cy="246.6" r="0.5"/><circle cx="326.3" cy="244.3" r="0.5"/><circle cx="328.0" cy="248.9" r="0.5"/><circle cx="332.6" cy="253.6" r="0.5"/><circle cx="330.9" cy="254.3" r="0.5"/><circle cx="324.5" cy="247.0" r="0.5"/><circle cx="328.7" cy="244.9" r="0.5"/><circle cx="331.3" cy="246.8" r="0.5"/><circle cx="327.3" cy="254.7" r="0.5"/><circle cx="328.4" cy="248.9" r="0.5"/><circle cx="326.2" cy="254.8" r="0.5"/><circle cx="330.2" cy="257.5" r="0.5"/><circle cx="335.7" cy="253.6" r="0.5"/><circle cx="329.1" cy="246.1" r="0.5"/><circle cx="334.3" cy="249.1" r="0.5"/><circle cx="331.7" cy="251.4" r="0.5"/><circle cx="321.5" cy="250.9" r="0.5"/><circle cx="330.5" cy="251.2" r="0.5"/><circle cx="329.7" cy="251.3" r="0.5"/><circle cx="327.5" cy="253.2" r="0.5"/><circle cx="328.8" cy="251.0" r="0.5"/><circle cx="334.3" cy="251.3" r="0.5"/><circle cx="327.4" cy="252.0" r="0.5"/><circle cx="326.4" cy="251.0" r="0.5"/><circle cx="333.7" cy="244.7" r="0.5"/><circle cx="329.7" cy="245.7" r="0.5"/><circle cx="330.5" cy="251.8" r="0.5"/><circle cx="330.5" cy="248.7" r="0.5"/><circle cx="325.2" cy="245.6" r="0.5"/><circle cx="329.0" cy="254.3" r="0.5"/><circle cx="325.0" cy="255.7" r="0.5"/><circle cx="328.2" cy="241.6" r="0.5"/><circle cx="333.8" cy="251.9" r="0.5"/><circle cx="327.7" cy="251.5" r="0.5"/><circle cx="331.6" cy="242.8" r="0.5"/><circle cx="333.3" cy="245.8" r="0.5"/><circle cx="332.1" cy="247.3" r="0.5"/><circle cx="326.1" cy="247.1" r="0.5"/><circle cx="328.8" cy="250.8" r="0.5"/><circle cx="325.8" cy="245.0" r="0.5"/><circle cx="330.9" cy="248.2" r="0.5"/><circle cx="328.7" cy="252.4" r="0.5"/><circle cx="326.7" cy="260.2" r="0.5"/><circle cx="328.2" cy="252.0" r="0.5"/><circle cx="329.6" cy="255.1" r="0.5"/><circle cx="328.9" cy="246.2" r="0.5"/><circle cx="330.7" cy="253.2" r="0.5"/><circle cx="329.7" cy="260.4" r="0.5"/><circle cx="331.9" cy="257.0" r="0.5"/><circle cx="333.3" cy="255.3" r="0.5"/><circle cx="329.6" cy="258.3" r="0.5"/><circle cx="329.1" cy="250.8" r="0.5"/><circle cx="333.6" cy="254.8" r="0.5"/><circle cx="327.3" cy="248.6" r="0.5"/><circle cx="327.8" cy="255.9" r="0.5"/><circle cx="329.1" cy="250.2" r="0.5"/><circle cx="328.3" cy="247.5" r="0.5"/><circle cx="331.7" cy="245.0" r="0.5"/><circle cx="330.2" cy="247.6" r="0.5"/><circle cx="329.1" cy="243.6" r="0.5"/><circle cx="333.0" cy="242.0" r="0.5"/><circle cx="327.0" cy="248.0" r="0.5"/><circle cx="330.2" cy="246.3" r="0.5"/><circle cx="325.9" cy="247.6" r="0.5"/><circle cx="327.5" cy="246.6" r="0.5"/><circle cx="334.0" cy="239.7" r="0.5"/><circle cx="329.9" cy="251.9" r="0.5"/><circle cx="329.0" cy="248.2" r="0.5"/><circle cx="332.7" cy="249.0" r="0.5"/><circle cx="325.7" cy="248.1" r="0.5"/><circle cx="330.9" cy="248.1" r="0.5"/><circle cx="328.6" cy="250.9" r="0.5"/><circle cx="328.8" cy="250.6" r="0.5"/><circle cx="331.6" cy="246.9" r="0.5"/><circle cx="326.1" cy="256.6" r="0.5"/><circle cx="331.0" cy="246.1" r="0.5"/><circle cx="326.5" cy="250.0" r="0.5"/><circle cx="330.5" cy="252.4" r="0.5"/><circle cx="330.9" cy="247.8" r="0.5"/><circle cx="329.0" cy="242.4" r="0.5"/><circle cx="328.1" cy="247.6" r="0.5"/><circle cx="332.6" cy="243.4" r="0.5"/><circle cx="334.6" cy="254.4" r="0.5"/><circle cx="328.7" cy="247.0" r="0.5"/><circle cx="330.5" cy="251.9" r="0.5"/><circle cx="331.8" cy="241.4" r="0.5"/><circle cx="329.1" cy="252.5" r="0.5"/><circle cx="332.2" cy="252.2" r="0.5"/><circle cx="329.8" cy="251.5" r="0.5"/><circle cx="328.7" cy="258.5" r="0.5"/><circle cx="332.2" cy="251.9" r="0.5"/><circle cx="328.6" cy="249.7" r="0.5"/><circle cx="330.9" cy="250.4" r="0.5"/><circle cx="334.0" cy="260.2" r="0.5"/><circle cx="332.4" cy="244.3" r="0.5"/><circle cx="331.7" cy="247.5" r="0.5"/><circle cx="330.0" cy="259.7" r="0.5"/><circle cx="325.7" cy="243.3" r="0.5"/><circle cx="328.4" cy="253.8" r="0.5"/></g>
<g fill="#6a7dff" fill-opacity="0.35"><circle cx="349.9" cy="243.1" r="0.45"/><circle cx="339.4" cy="249.1" r="0.45"/><circle cx="332.2" cy="242.1" r="0.45"/><circle cx="352.7" cy="244.5" r="0.45"/><circle cx="350.4" cy="238.5" r="0.45"/><circle cx="360.5" cy="239.5" r="0.45"/><circle cx="344.8" cy="242.1" r="0.45"/><circle cx="345.1" cy="240.2" r="0.45"/><circle cx="357.9" cy="242.3" r="0.45"/><circle cx="353.4" cy="236.4" r="0.45"/><circle cx="350.1" cy="241.3" r="0.45"/><circle cx="348.5" cy="242.9" r="0.45"/><circle cx="348.9" cy="241.8" r="0.45"/><circle cx="345.9" cy="242.6" r="0.45"/><circle cx="347.1" cy="242.3" r="0.45"/><circle cx="342.1" cy="243.7" r="0.45"/><circle cx="338.3" cy="249.5" r="0.45"/><circle cx="352.3" cy="247.6" r="0.45"/><circle cx="344.2" cy="237.5" r="0.45"/><circle cx="332.8" cy="239.3" r="0.45"/><circle cx="340.1" cy="240.7" r="0.45"/><circle cx="342.1" cy="244.3" r="0.45"/><circle cx="325.8" cy="248.0" r="0.45"/><circle cx="342.3" cy="242.6" r="0.45"/><circle cx="330.5" cy="242.9" r="0.45"/><circle cx="333.3" cy="243.8" r="0.45"/><circle cx="347.4" cy="242.7" r="0.45"/><circle cx="343.7" cy="241.1" r="0.45"/><circle cx="342.5" cy="245.3" r="0.45"/><circle cx="345.8" cy="242.9" r="0.45"/><circle cx="364.7" cy="242.4" r="0.45"/><circle cx="337.6" cy="234.0" r="0.45"/><circle cx="325.1" cy="242.5" r="0.45"/><circle cx="352.2" cy="238.3" r="0.45"/><circle cx="335.6" cy="241.3" r="0.45"/></g>
<g fill="#c08040" fill-opacity="0.5"><circle cx="329.0" cy="251.3" r="0.5"/><circle cx="330.3" cy="251.1" r="0.5"/><circle cx="329.0" cy="249.9" r="0.5"/><circle cx="330.4" cy="251.6" r="0.5"/><circle cx="329.4" cy="250.6" r="0.5"/><circle cx="327.9" cy="251.9" r="0.5"/></g>
<rect x="315" y="218.2" width="63.10000000000002" height="62.60000000000002" fill="none" stroke="#222" stroke-width="1.1"/>
<text x="318.1" y="227.1" text-anchor="start" style="font-size:6.0px;stroke:#1a1a1a;stroke-width:0.22px" fill="#1a1a1a" textLength="11.5" lengthAdjust="spacingAndGlyphs">10.1</text>
<text x="359.6" y="227.1" text-anchor="start" style="font-size:6.0px;stroke:#1a1a1a;stroke-width:0.22px" fill="#1a1a1a" textLength="12.3" lengthAdjust="spacingAndGlyphs">8.05</text>
<text x="318.1" y="276.3" text-anchor="start" style="font-size:6.0px;stroke:#1a1a1a;stroke-width:0.22px" fill="#1a1a1a" textLength="11.5" lengthAdjust="spacingAndGlyphs">78.8</text>
<text x="359.6" y="276.3" text-anchor="start" style="font-size:6.0px;stroke:#1a1a1a;stroke-width:0.22px" fill="#1a1a1a" textLength="12.3" lengthAdjust="spacingAndGlyphs">2.99</text>
<g stroke="#000" stroke-width="0.85"><line x1="313.3" y1="351.0" x2="315" y2="351.0"/><line x1="313.3" y1="349.8" x2="315" y2="349.8"/><line x1="313.3" y1="348.8" x2="315" y2="348.8"/><line x1="313.3" y1="347.9" x2="315" y2="347.9"/><line x1="313.3" y1="347.2" x2="315" y2="347.2"/><line x1="313.3" y1="346.6" x2="315" y2="346.6"/><line x1="312.0" y1="346.0" x2="315" y2="346.0"/><line x1="313.3" y1="342.2" x2="315" y2="342.2"/><line x1="313.3" y1="340.0" x2="315" y2="340.0"/><line x1="313.3" y1="338.4" x2="315" y2="338.4"/><line x1="313.3" y1="337.2" x2="315" y2="337.2"/><line x1="313.3" y1="336.2" x2="315" y2="336.2"/><line x1="313.3" y1="335.4" x2="315" y2="335.4"/><line x1="313.3" y1="334.6" x2="315" y2="334.6"/><line x1="313.3" y1="334.0" x2="315" y2="334.0"/><line x1="312.0" y1="333.4" x2="315" y2="333.4"/><line x1="313.3" y1="329.6" x2="315" y2="329.6"/><line x1="313.3" y1="327.4" x2="315" y2="327.4"/><line x1="313.3" y1="325.8" x2="315" y2="325.8"/><line x1="313.3" y1="324.6" x2="315" y2="324.6"/><line x1="313.3" y1="323.6" x2="315" y2="323.6"/><line x1="313.3" y1="322.8" x2="315" y2="322.8"/><line x1="313.3" y1="322.0" x2="315" y2="322.0"/><line x1="313.3" y1="321.4" x2="315" y2="321.4"/><line x1="312.0" y1="320.8" x2="315" y2="320.8"/><line x1="313.3" y1="317.0" x2="315" y2="317.0"/><line x1="313.3" y1="314.8" x2="315" y2="314.8"/><line x1="313.3" y1="313.3" x2="315" y2="313.3"/><line x1="313.3" y1="312.0" x2="315" y2="312.0"/><line x1="313.3" y1="311.0" x2="315" y2="311.0"/><line x1="313.3" y1="310.2" x2="315" y2="310.2"/><line x1="313.3" y1="309.5" x2="315" y2="309.5"/><line x1="313.3" y1="308.8" x2="315" y2="308.8"/><line x1="312.0" y1="308.2" x2="315" y2="308.2"/><line x1="313.3" y1="304.5" x2="315" y2="304.5"/><line x1="313.3" y1="302.2" x2="315" y2="302.2"/><line x1="313.3" y1="300.7" x2="315" y2="300.7"/><line x1="313.3" y1="299.4" x2="315" y2="299.4"/><line x1="313.3" y1="298.4" x2="315" y2="298.4"/><line x1="313.3" y1="297.6" x2="315" y2="297.6"/><line x1="313.3" y1="296.9" x2="315" y2="296.9"/><line x1="313.3" y1="296.2" x2="315" y2="296.2"/><line x1="312.0" y1="295.7" x2="315" y2="295.7"/><line x1="313.3" y1="291.9" x2="315" y2="291.9"/><line x1="315.0" y1="352.8" x2="315.0" y2="355.8"/><line x1="318.6" y1="352.8" x2="318.6" y2="354.4"/><line x1="320.7" y1="352.8" x2="320.7" y2="354.4"/><line x1="322.2" y1="352.8" x2="322.2" y2="354.4"/><line x1="323.4" y1="352.8" x2="323.4" y2="354.4"/><line x1="324.4" y1="352.8" x2="324.4" y2="354.4"/><line x1="325.2" y1="352.8" x2="325.2" y2="354.4"/><line x1="325.9" y1="352.8" x2="325.9" y2="354.4"/><line x1="326.5" y1="352.8" x2="326.5" y2="354.4"/><line x1="327.0" y1="352.8" x2="327.0" y2="355.8"/><line x1="330.6" y1="352.8" x2="330.6" y2="354.4"/><line x1="332.8" y1="352.8" x2="332.8" y2="354.4"/><line x1="334.3" y1="352.8" x2="334.3" y2="354.4"/><line x1="335.4" y1="352.8" x2="335.4" y2="354.4"/><line x1="336.4" y1="352.8" x2="336.4" y2="354.4"/><line x1="337.2" y1="352.8" x2="337.2" y2="354.4"/><line x1="337.9" y1="352.8" x2="337.9" y2="354.4"/><line x1="338.5" y1="352.8" x2="338.5" y2="354.4"/><line x1="339.0" y1="352.8" x2="339.0" y2="355.8"/><line x1="342.7" y1="352.8" x2="342.7" y2="354.4"/><line x1="344.8" y1="352.8" x2="344.8" y2="354.4"/><line x1="346.3" y1="352.8" x2="346.3" y2="354.4"/><line x1="347.4" y1="352.8" x2="347.4" y2="354.4"/><line x1="348.4" y1="352.8" x2="348.4" y2="354.4"/><line x1="349.2" y1="352.8" x2="349.2" y2="354.4"/><line x1="349.9" y1="352.8" x2="349.9" y2="354.4"/><line x1="350.5" y1="352.8" x2="350.5" y2="354.4"/><line x1="351.1" y1="352.8" x2="351.1" y2="355.8"/><line x1="354.7" y1="352.8" x2="354.7" y2="354.4"/><line x1="356.8" y1="352.8" x2="356.8" y2="354.4"/><line x1="358.3" y1="352.8" x2="358.3" y2="354.4"/><line x1="359.5" y1="352.8" x2="359.5" y2="354.4"/><line x1="360.4" y1="352.8" x2="360.4" y2="354.4"/><line x1="361.2" y1="352.8" x2="361.2" y2="354.4"/><line x1="361.9" y1="352.8" x2="361.9" y2="354.4"/><line x1="362.5" y1="352.8" x2="362.5" y2="354.4"/><line x1="363.1" y1="352.8" x2="363.1" y2="355.8"/><line x1="366.7" y1="352.8" x2="366.7" y2="354.4"/><line x1="368.8" y1="352.8" x2="368.8" y2="354.4"/><line x1="370.3" y1="352.8" x2="370.3" y2="354.4"/><line x1="371.5" y1="352.8" x2="371.5" y2="354.4"/><line x1="372.4" y1="352.8" x2="372.4" y2="354.4"/><line x1="373.2" y1="352.8" x2="373.2" y2="354.4"/><line x1="373.9" y1="352.8" x2="373.9" y2="354.4"/><line x1="374.5" y1="352.8" x2="374.5" y2="354.4"/><line x1="375.1" y1="352.8" x2="375.1" y2="355.8"/></g>
<line x1="336.2" y1="290.5" x2="336.2" y2="352.8" stroke="#8a8a8a" stroke-width="1.4"/>
<line x1="315" y1="317.5" x2="378.1" y2="317.5" stroke="#8a8a8a" stroke-width="1.4"/>
<g fill="#3b55ff" fill-opacity="0.5"><circle cx="343.3" cy="313.3" r="0.5"/><circle cx="350.2" cy="315.2" r="0.5"/><circle cx="339.8" cy="310.9" r="0.5"/><circle cx="341.6" cy="311.5" r="0.5"/><circle cx="344.9" cy="307.9" r="0.5"/><circle cx="346.7" cy="307.0" r="0.5"/><circle cx="347.9" cy="308.1" r="0.5"/><circle cx="346.8" cy="312.2" r="0.5"/><circle cx="345.1" cy="309.8" r="0.5"/><circle cx="342.2" cy="309.1" r="0.5"/><circle cx="352.3" cy="311.1" r="0.5"/><circle cx="353.8" cy="310.1" r="0.5"/><circle cx="347.1" cy="309.2" r="0.5"/><circle cx="344.5" cy="307.2" r="0.5"/><circle cx="349.9" cy="312.9" r="0.5"/><circle cx="352.1" cy="313.7" r="0.5"/><circle cx="341.1" cy="305.4" r="0.5"/><circle cx="349.0" cy="311.1" r="0.5"/><circle cx="341.3" cy="309.9" r="0.5"/><circle cx="349.1" cy="315.5" r="0.5"/><circle cx="347.5" cy="308.8" r="0.5"/><circle cx="349.3" cy="313.5" r="0.5"/><circle cx="340.3" cy="315.0" r="0.5"/><circle cx="341.3" cy="312.6" r="0.5"/><circle cx="347.7" cy="310.9" r="0.5"/><circle cx="339.0" cy="314.3" r="0.5"/><circle cx="339.3" cy="315.1" r="0.5"/><circle cx="337.1" cy="312.3" r="0.5"/><circle cx="343.4" cy="309.9" r="0.5"/><circle cx="346.5" cy="311.8" r="0.5"/><circle cx="353.6" cy="310.3" r="0.5"/><circle cx="350.4" cy="306.6" r="0.5"/><circle cx="350.3" cy="312.5" r="0.5"/><circle cx="351.6" cy="313.7" r="0.5"/><circle cx="341.6" cy="308.6" r="0.5"/><circle cx="342.1" cy="310.5" r="0.5"/><circle cx="351.7" cy="303.8" r="0.5"/><circle cx="345.7" cy="314.2" r="0.5"/><circle cx="344.8" cy="307.4" r="0.5"/><circle cx="341.6" cy="314.0" r="0.5"/><circle cx="348.8" cy="309.9" r="0.5"/><circle cx="347.0" cy="314.9" r="0.5"/><circle cx="344.0" cy="317.5" r="0.5"/><circle cx="341.1" cy="318.1" r="0.5"/><circle cx="339.1" cy="317.0" r="0.5"/><circle cx="345.5" cy="306.8" r="0.5"/><circle cx="346.1" cy="312.7" r="0.5"/><circle cx="348.1" cy="310.9" r="0.5"/><circle cx="344.7" cy="310.7" r="0.5"/><circle cx="345.9" cy="314.7" r="0.5"/><circle cx="347.6" cy="312.7" r="0.5"/><circle cx="346.4" cy="315.1" r="0.5"/><circle cx="356.2" cy="314.7" r="0.5"/><circle cx="340.1" cy="310.3" r="0.5"/><circle cx="340.8" cy="311.6" r="0.5"/><circle cx="354.2" cy="307.7" r="0.5"/><circle cx="346.0" cy="310.6" r="0.5"/><circle cx="337.0" cy="310.2" r="0.5"/><circle cx="342.2" cy="309.7" r="0.5"/><circle cx="344.0" cy="310.4" r="0.5"/><circle cx="344.5" cy="306.8" r="0.5"/><circle cx="350.0" cy="311.4" r="0.5"/><circle cx="342.3" cy="310.8" r="0.5"/><circle cx="341.6" cy="306.8" r="0.5"/><circle cx="348.5" cy="309.1" r="0.5"/><circle cx="350.3" cy="314.3" r="0.5"/><circle cx="339.5" cy="309.7" r="0.5"/><circle cx="347.8" cy="309.0" r="0.5"/><circle cx="342.5" cy="311.0" r="0.5"/><circle cx="347.4" cy="306.7" r="0.5"/><circle cx="345.8" cy="314.4" r="0.5"/><circle cx="343.0" cy="310.9" r="0.5"/><circle cx="347.5" cy="313.6" r="0.5"/><circle cx="349.9" cy="311.4" r="0.5"/><circle cx="352.8" cy="307.3" r="0.5"/><circle cx="352.9" cy="310.9" r="0.5"/><circle cx="344.1" cy="307.5" r="0.5"/><circle cx="352.5" cy="310.1" r="0.5"/><circle cx="348.0" cy="315.2" r="0.5"/><circle cx="343.7" cy="314.2" r="0.5"/><circle cx="349.5" cy="315.1" r="0.5"/><circle cx="347.0" cy="316.4" r="0.5"/><circle cx="343.1" cy="311.8" r="0.5"/><circle cx="342.6" cy="309.3" r="0.5"/><circle cx="353.2" cy="310.0" r="0.5"/><circle cx="345.4" cy="311.9" r="0.5"/><circle cx="346.2" cy="306.7" r="0.5"/><circle cx="343.5" cy="313.0" r="0.5"/><circle cx="340.0" cy="312.3" r="0.5"/><circle cx="343.7" cy="308.9" r="0.5"/><circle cx="339.4" cy="311.2" r="0.5"/><circle cx="346.5" cy="312.6" r="0.5"/><circle cx="338.5" cy="313.7" r="0.5"/><circle cx="348.2" cy="305.4" r="0.5"/><circle cx="339.3" cy="314.7" r="0.5"/><circle cx="348.8" cy="312.1" r="0.5"/><circle cx="352.8" cy="311.3" r="0.5"/><circle cx="351.8" cy="309.5" r="0.5"/><circle cx="345.6" cy="308.6" r="0.5"/><circle cx="346.0" cy="310.0" r="0.5"/><circle cx="342.8" cy="313.9" r="0.5"/><circle cx="347.2" cy="309.5" r="0.5"/><circle cx="346.5" cy="312.0" r="0.5"/><circle cx="347.5" cy="308.7" r="0.5"/><circle cx="348.5" cy="309.1" r="0.5"/><circle cx="346.9" cy="309.3" r="0.5"/><circle cx="354.8" cy="304.4" r="0.5"/><circle cx="350.2" cy="307.1" r="0.5"/><circle cx="352.9" cy="305.5" r="0.5"/><circle cx="348.8" cy="309.9" r="0.5"/><circle cx="349.8" cy="306.2" r="0.5"/><circle cx="344.1" cy="313.1" r="0.5"/><circle cx="349.3" cy="308.4" r="0.5"/><circle cx="336.9" cy="312.7" r="0.5"/><circle cx="342.3" cy="312.4" r="0.5"/><circle cx="343.5" cy="308.8" r="0.5"/><circle cx="344.6" cy="315.7" r="0.5"/><circle cx="348.1" cy="309.4" r="0.5"/><circle cx="348.2" cy="306.3" r="0.5"/><circle cx="342.8" cy="311.8" r="0.5"/><circle cx="343.8" cy="309.9" r="0.5"/><circle cx="345.5" cy="316.7" r="0.5"/><circle cx="345.3" cy="312.6" r="0.5"/><circle cx="353.2" cy="301.7" r="0.5"/><circle cx="344.0" cy="314.4" r="0.5"/><circle cx="338.8" cy="312.0" r="0.5"/><circle cx="351.6" cy="309.9" r="0.5"/><circle cx="346.5" cy="317.3" r="0.5"/><circle cx="336.8" cy="317.2" r="0.5"/><circle cx="339.7" cy="314.2" r="0.5"/><circle cx="348.2" cy="311.0" r="0.5"/><circle cx="344.3" cy="314.2" r="0.5"/><circle cx="347.5" cy="313.3" r="0.5"/><circle cx="350.1" cy="311.8" r="0.5"/><circle cx="353.6" cy="307.7" r="0.5"/><circle cx="336.9" cy="308.4" r="0.5"/><circle cx="344.7" cy="307.7" r="0.5"/><circle cx="343.8" cy="312.1" r="0.5"/><circle cx="352.5" cy="305.7" r="0.5"/><circle cx="347.7" cy="306.7" r="0.5"/><circle cx="349.6" cy="303.7" r="0.5"/><circle cx="352.6" cy="308.4" r="0.5"/><circle cx="355.6" cy="309.1" r="0.5"/><circle cx="341.3" cy="311.3" r="0.5"/><circle cx="342.5" cy="313.1" r="0.5"/><circle cx="351.2" cy="310.5" r="0.5"/><circle cx="344.2" cy="310.9" r="0.5"/><circle cx="353.5" cy="306.2" r="0.5"/><circle cx="348.9" cy="307.8" r="0.5"/><circle cx="341.9" cy="314.4" r="0.5"/><circle cx="338.3" cy="318.3" r="0.5"/><circle cx="353.4" cy="306.2" r="0.5"/><circle cx="340.5" cy="312.3" r="0.5"/><circle cx="344.2" cy="309.6" r="0.5"/><circle cx="350.4" cy="317.2" r="0.5"/><circle cx="345.1" cy="313.6" r="0.5"/><circle cx="343.7" cy="311.9" r="0.5"/><circle cx="343.0" cy="311.8" r="0.5"/><circle cx="346.3" cy="310.1" r="0.5"/><circle cx="346.6" cy="308.9" r="0.5"/><circle cx="347.3" cy="306.0" r="0.5"/><circle cx="348.0" cy="310.1" r="0.5"/><circle cx="347.9" cy="310.5" r="0.5"/><circle cx="345.2" cy="311.7" r="0.5"/><circle cx="343.8" cy="311.8" r="0.5"/><circle cx="336.3" cy="311.7" r="0.5"/><circle cx="346.7" cy="307.1" r="0.5"/><circle cx="355.9" cy="312.7" r="0.5"/><circle cx="338.7" cy="318.3" r="0.5"/><circle cx="347.7" cy="312.5" r="0.5"/><circle cx="352.1" cy="307.9" r="0.5"/><circle cx="347.3" cy="313.6" r="0.5"/><circle cx="342.4" cy="311.6" r="0.5"/><circle cx="345.8" cy="312.3" r="0.5"/><circle cx="341.2" cy="312.4" r="0.5"/><circle cx="342.7" cy="314.6" r="0.5"/><circle cx="343.1" cy="314.2" r="0.5"/><circle cx="345.7" cy="309.7" r="0.5"/><circle cx="349.3" cy="311.9" r="0.5"/><circle cx="344.3" cy="314.7" r="0.5"/><circle cx="352.0" cy="304.3" r="0.5"/><circle cx="349.3" cy="304.5" r="0.5"/><circle cx="346.0" cy="313.7" r="0.5"/><circle cx="348.2" cy="312.0" r="0.5"/><circle cx="345.3" cy="313.4" r="0.5"/><circle cx="340.5" cy="318.4" r="0.5"/><circle cx="336.5" cy="313.3" r="0.5"/><circle cx="338.6" cy="312.5" r="0.5"/><circle cx="342.8" cy="308.8" r="0.5"/><circle cx="350.5" cy="308.2" r="0.5"/><circle cx="342.5" cy="312.1" r="0.5"/><circle cx="349.1" cy="312.0" r="0.5"/><circle cx="343.7" cy="312.6" r="0.5"/><circle cx="346.3" cy="310.9" r="0.5"/><circle cx="342.6" cy="312.9" r="0.5"/><circle cx="338.8" cy="316.1" r="0.5"/><circle cx="349.6" cy="309.5" r="0.5"/><circle cx="343.4" cy="306.3" r="0.5"/><circle cx="344.4" cy="314.3" r="0.5"/><circle cx="338.2" cy="315.5" r="0.5"/><circle cx="342.6" cy="317.7" r="0.5"/><circle cx="348.0" cy="314.4" r="0.5"/><circle cx="344.7" cy="311.0" r="0.5"/><circle cx="341.8" cy="317.0" r="0.5"/><circle cx="344.3" cy="312.2" r="0.5"/><circle cx="340.4" cy="313.4" r="0.5"/><circle cx="341.2" cy="313.1" r="0.5"/><circle cx="351.3" cy="308.1" r="0.5"/><circle cx="341.2" cy="313.6" r="0.5"/><circle cx="345.9" cy="309.2" r="0.5"/><circle cx="338.4" cy="313.8" r="0.5"/><circle cx="347.5" cy="311.6" r="0.5"/><circle cx="351.4" cy="310.9" r="0.5"/><circle cx="347.4" cy="306.9" r="0.5"/><circle cx="344.7" cy="311.0" r="0.5"/><circle cx="342.4" cy="314.5" r="0.5"/><circle cx="343.8" cy="313.6" r="0.5"/><circle cx="343.4" cy="313.3" r="0.5"/><circle cx="350.4" cy="311.4" r="0.5"/><circle cx="349.9" cy="310.5" r="0.5"/></g>
<g fill="#6a7dff" fill-opacity="0.35"><circle cx="362.6" cy="309.7" r="0.45"/><circle cx="347.9" cy="307.8" r="0.45"/><circle cx="359.0" cy="319.0" r="0.45"/><circle cx="345.4" cy="306.9" r="0.45"/><circle cx="360.2" cy="313.4" r="0.45"/><circle cx="353.2" cy="321.4" r="0.45"/><circle cx="359.8" cy="310.8" r="0.45"/><circle cx="364.4" cy="310.0" r="0.45"/><circle cx="371.7" cy="310.7" r="0.45"/><circle cx="371.6" cy="320.5" r="0.45"/><circle cx="354.5" cy="313.4" r="0.45"/><circle cx="355.7" cy="313.4" r="0.45"/><circle cx="357.9" cy="306.7" r="0.45"/><circle cx="361.3" cy="315.3" r="0.45"/><circle cx="347.6" cy="312.6" r="0.45"/><circle cx="357.6" cy="315.3" r="0.45"/><circle cx="356.6" cy="314.5" r="0.45"/><circle cx="351.8" cy="321.7" r="0.45"/><circle cx="360.1" cy="316.9" r="0.45"/><circle cx="358.6" cy="309.7" r="0.45"/><circle cx="361.4" cy="315.5" r="0.45"/><circle cx="350.7" cy="308.0" r="0.45"/><circle cx="357.0" cy="311.4" r="0.45"/><circle cx="357.4" cy="315.4" r="0.45"/><circle cx="352.7" cy="311.2" r="0.45"/></g>
<g fill="#3b55ff" fill-opacity="0.55"><circle cx="332.0" cy="317.3" r="0.5"/><circle cx="332.1" cy="320.8" r="0.5"/><circle cx="332.0" cy="312.0" r="0.5"/><circle cx="333.0" cy="316.9" r="0.5"/><circle cx="331.9" cy="318.5" r="0.5"/><circle cx="332.8" cy="322.7" r="0.5"/><circle cx="333.6" cy="318.4" r="0.5"/><circle cx="330.8" cy="313.9" r="0.5"/><circle cx="332.8" cy="323.2" r="0.5"/><circle cx="332.4" cy="317.6" r="0.5"/><circle cx="333.4" cy="312.2" r="0.5"/><circle cx="331.7" cy="320.0" r="0.5"/><circle cx="334.0" cy="317.0" r="0.5"/><circle cx="333.1" cy="319.0" r="0.5"/><circle cx="333.9" cy="313.5" r="0.5"/><circle cx="333.4" cy="311.9" r="0.5"/><circle cx="327.1" cy="315.6" r="0.5"/><circle cx="330.5" cy="321.5" r="0.5"/><circle cx="333.6" cy="313.1" r="0.5"/><circle cx="334.0" cy="314.0" r="0.5"/><circle cx="332.1" cy="316.8" r="0.5"/><circle cx="332.5" cy="321.3" r="0.5"/><circle cx="333.6" cy="319.4" r="0.5"/><circle cx="333.6" cy="319.9" r="0.5"/><circle cx="331.0" cy="315.1" r="0.5"/><circle cx="331.4" cy="320.0" r="0.5"/><circle cx="331.8" cy="327.3" r="0.5"/><circle cx="330.7" cy="313.6" r="0.5"/><circle cx="333.8" cy="323.7" r="0.5"/><circle cx="333.3" cy="321.3" r="0.5"/><circle cx="335.2" cy="317.6" r="0.5"/><circle cx="329.5" cy="315.9" r="0.5"/><circle cx="334.2" cy="312.2" r="0.5"/><circle cx="332.4" cy="319.0" r="0.5"/><circle cx="331.7" cy="320.9" r="0.5"/><circle cx="333.5" cy="327.3" r="0.5"/><circle cx="333.5" cy="315.6" r="0.5"/><circle cx="331.2" cy="314.7" r="0.5"/><circle cx="334.2" cy="315.7" r="0.5"/><circle cx="332.2" cy="321.0" r="0.5"/><circle cx="330.9" cy="316.8" r="0.5"/><circle cx="328.6" cy="313.7" r="0.5"/><circle cx="331.2" cy="319.7" r="0.5"/><circle cx="334.7" cy="317.9" r="0.5"/><circle cx="332.8" cy="318.7" r="0.5"/><circle cx="334.5" cy="321.6" r="0.5"/><circle cx="332.8" cy="314.0" r="0.5"/><circle cx="334.1" cy="319.5" r="0.5"/><circle cx="334.8" cy="317.9" r="0.5"/><circle cx="336.2" cy="316.6" r="0.5"/><circle cx="335.5" cy="318.5" r="0.5"/><circle cx="331.3" cy="313.5" r="0.5"/><circle cx="332.0" cy="323.7" r="0.5"/><circle cx="333.9" cy="320.8" r="0.5"/><circle cx="327.5" cy="320.8" r="0.5"/><circle cx="333.4" cy="315.8" r="0.5"/><circle cx="331.0" cy="318.0" r="0.5"/><circle cx="335.7" cy="313.8" r="0.5"/><circle cx="331.4" cy="323.4" r="0.5"/><circle cx="331.4" cy="316.5" r="0.5"/><circle cx="332.5" cy="313.0" r="0.5"/><circle cx="332.7" cy="313.2" r="0.5"/><circle cx="334.1" cy="318.0" r="0.5"/><circle cx="336.9" cy="319.1" r="0.5"/><circle cx="335.0" cy="312.8" r="0.5"/><circle cx="332.1" cy="319.3" r="0.5"/><circle cx="335.8" cy="311.3" r="0.5"/><circle cx="334.3" cy="320.4" r="0.5"/><circle cx="335.4" cy="320.8" r="0.5"/><circle cx="332.4" cy="315.9" r="0.5"/><circle cx="329.8" cy="318.8" r="0.5"/><circle cx="331.9" cy="326.1" r="0.5"/><circle cx="331.1" cy="319.3" r="0.5"/><circle cx="329.2" cy="316.4" r="0.5"/><circle cx="332.8" cy="321.3" r="0.5"/><circle cx="335.2" cy="317.8" r="0.5"/><circle cx="330.1" cy="319.8" r="0.5"/><circle cx="333.3" cy="320.0" r="0.5"/><circle cx="330.9" cy="322.5" r="0.5"/><circle cx="332.5" cy="320.8" r="0.5"/><circle cx="334.8" cy="320.4" r="0.5"/><circle cx="332.9" cy="326.6" r="0.5"/><circle cx="332.8" cy="316.8" r="0.5"/><circle cx="332.5" cy="323.9" r="0.5"/><circle cx="332.5" cy="320.1" r="0.5"/><circle cx="334.7" cy="315.9" r="0.5"/><circle cx="328.8" cy="319.2" r="0.5"/><circle cx="332.8" cy="315.6" r="0.5"/><circle cx="334.0" cy="320.4" r="0.5"/><circle cx="330.3" cy="320.1" r="0.5"/><circle cx="331.9" cy="312.1" r="0.5"/><circle cx="333.2" cy="317.8" r="0.5"/><circle cx="330.8" cy="320.1" r="0.5"/><circle cx="333.3" cy="315.7" r="0.5"/><circle cx="333.1" cy="322.1" r="0.5"/><circle cx="330.9" cy="319.5" r="0.5"/><circle cx="332.3" cy="327.1" r="0.5"/><circle cx="328.6" cy="320.8" r="0.5"/><circle cx="331.7" cy="317.6" r="0.5"/><circle cx="336.1" cy="318.0" r="0.5"/><circle cx="336.8" cy="316.2" r="0.5"/><circle cx="333.0" cy="316.0" r="0.5"/><circle cx="330.9" cy="318.2" r="0.5"/><circle cx="331.7" cy="318.8" r="0.5"/><circle cx="328.1" cy="326.0" r="0.5"/><circle cx="332.0" cy="325.0" r="0.5"/><circle cx="330.3" cy="319.2" r="0.5"/><circle cx="338.6" cy="314.5" r="0.5"/><circle cx="329.3" cy="315.8" r="0.5"/><circle cx="333.2" cy="320.8" r="0.5"/><circle cx="334.9" cy="317.0" r="0.5"/><circle cx="329.1" cy="316.3" r="0.5"/><circle cx="334.8" cy="319.9" r="0.5"/><circle cx="328.4" cy="317.9" r="0.5"/><circle cx="335.1" cy="326.5" r="0.5"/><circle cx="333.4" cy="319.2" r="0.5"/><circle cx="329.8" cy="314.6" r="0.5"/><circle cx="332.4" cy="320.0" r="0.5"/><circle cx="333.5" cy="316.1" r="0.5"/><circle cx="330.0" cy="314.9" r="0.5"/><circle cx="330.0" cy="320.6" r="0.5"/><circle cx="327.7" cy="316.7" r="0.5"/><circle cx="333.2" cy="324.1" r="0.5"/><circle cx="332.4" cy="322.0" r="0.5"/><circle cx="331.5" cy="315.0" r="0.5"/><circle cx="331.0" cy="324.1" r="0.5"/><circle cx="334.3" cy="319.9" r="0.5"/><circle cx="339.0" cy="317.9" r="0.5"/><circle cx="333.5" cy="319.2" r="0.5"/><circle cx="331.9" cy="327.3" r="0.5"/><circle cx="335.3" cy="312.4" r="0.5"/><circle cx="331.5" cy="319.7" r="0.5"/><circle cx="333.9" cy="312.6" r="0.5"/><circle cx="327.8" cy="310.4" r="0.5"/><circle cx="332.2" cy="317.6" r="0.5"/><circle cx="333.0" cy="314.9" r="0.5"/><circle cx="329.9" cy="309.9" r="0.5"/><circle cx="333.0" cy="319.5" r="0.5"/><circle cx="334.3" cy="321.2" r="0.5"/><circle cx="331.9" cy="323.4" r="0.5"/><circle cx="332.0" cy="315.4" r="0.5"/><circle cx="331.3" cy="315.7" r="0.5"/><circle cx="328.0" cy="318.6" r="0.5"/><circle cx="332.8" cy="316.6" r="0.5"/><circle cx="330.9" cy="319.5" r="0.5"/><circle cx="335.7" cy="318.2" r="0.5"/><circle cx="331.3" cy="315.6" r="0.5"/><circle cx="332.2" cy="312.9" r="0.5"/><circle cx="332.0" cy="318.2" r="0.5"/><circle cx="336.0" cy="321.8" r="0.5"/><circle cx="334.4" cy="315.1" r="0.5"/><circle cx="333.6" cy="313.4" r="0.5"/><circle cx="332.9" cy="319.7" r="0.5"/><circle cx="330.8" cy="326.0" r="0.5"/><circle cx="333.4" cy="310.4" r="0.5"/><circle cx="333.4" cy="316.4" r="0.5"/><circle cx="332.3" cy="319.9" r="0.5"/><circle cx="333.1" cy="309.8" r="0.5"/><circle cx="330.0" cy="321.1" r="0.5"/><circle cx="334.9" cy="325.6" r="0.5"/><circle cx="335.9" cy="309.8" r="0.5"/><circle cx="333.8" cy="310.3" r="0.5"/><circle cx="335.5" cy="319.0" r="0.5"/><circle cx="330.0" cy="326.0" r="0.5"/><circle cx="333.6" cy="310.4" r="0.5"/><circle cx="332.9" cy="315.1" r="0.5"/><circle cx="332.5" cy="316.1" r="0.5"/><circle cx="335.0" cy="312.3" r="0.5"/><circle cx="332.9" cy="325.3" r="0.5"/><circle cx="330.6" cy="318.8" r="0.5"/><circle cx="332.7" cy="315.2" r="0.5"/><circle cx="333.6" cy="318.4" r="0.5"/><circle cx="330.4" cy="325.0" r="0.5"/><circle cx="333.9" cy="317.3" r="0.5"/><circle cx="331.0" cy="314.9" r="0.5"/><circle cx="334.8" cy="317.4" r="0.5"/><circle cx="333.2" cy="317.3" r="0.5"/><circle cx="333.5" cy="317.5" r="0.5"/><circle cx="333.8" cy="317.3" r="0.5"/><circle cx="334.0" cy="320.7" r="0.5"/><circle cx="332.1" cy="314.6" r="0.5"/><circle cx="330.4" cy="315.0" r="0.5"/><circle cx="330.3" cy="321.5" r="0.5"/><circle cx="332.2" cy="324.3" r="0.5"/><circle cx="336.9" cy="318.1" r="0.5"/><circle cx="329.2" cy="316.5" r="0.5"/><circle cx="332.1" cy="312.0" r="0.5"/><circle cx="331.8" cy="319.1" r="0.5"/><circle cx="331.4" cy="314.9" r="0.5"/><circle cx="330.8" cy="325.1" r="0.5"/><circle cx="332.0" cy="314.7" r="0.5"/><circle cx="331.6" cy="321.8" r="0.5"/><circle cx="330.9" cy="319.9" r="0.5"/><circle cx="333.8" cy="321.0" r="0.5"/><circle cx="335.1" cy="315.8" r="0.5"/><circle cx="334.6" cy="314.8" r="0.5"/><circle cx="331.5" cy="322.8" r="0.5"/><circle cx="333.9" cy="318.0" r="0.5"/><circle cx="329.9" cy="320.2" r="0.5"/><circle cx="331.0" cy="314.3" r="0.5"/></g>
<g fill="#30b060" fill-opacity="0.8"><circle cx="334.4" cy="318.9" r="0.55"/><circle cx="333.4" cy="320.1" r="0.55"/><circle cx="331.4" cy="314.2" r="0.55"/><circle cx="331.0" cy="318.8" r="0.55"/><circle cx="333.9" cy="318.3" r="0.55"/><circle cx="330.7" cy="321.4" r="0.55"/><circle cx="330.4" cy="316.8" r="0.55"/><circle cx="331.8" cy="318.6" r="0.55"/><circle cx="333.9" cy="314.4" r="0.55"/><circle cx="332.1" cy="318.8" r="0.55"/><circle cx="331.0" cy="317.8" r="0.55"/><circle cx="332.7" cy="314.8" r="0.55"/><circle cx="330.8" cy="317.9" r="0.55"/><circle cx="332.2" cy="318.5" r="0.55"/><circle cx="335.4" cy="320.1" r="0.55"/><circle cx="333.1" cy="316.3" r="0.55"/><circle cx="333.7" cy="316.1" r="0.55"/><circle cx="334.5" cy="320.8" r="0.55"/><circle cx="329.9" cy="315.2" r="0.55"/><circle cx="332.3" cy="317.0" r="0.55"/><circle cx="330.9" cy="315.1" r="0.55"/><circle cx="333.4" cy="316.7" r="0.55"/><circle cx="330.5" cy="317.3" r="0.55"/><circle cx="333.8" cy="322.0" r="0.55"/><circle cx="332.6" cy="317.2" r="0.55"/><circle cx="331.5" cy="316.8" r="0.55"/><circle cx="333.2" cy="321.0" r="0.55"/><circle cx="334.1" cy="317.4" r="0.55"/><circle cx="333.7" cy="319.8" r="0.55"/><circle cx="333.1" cy="312.1" r="0.55"/><circle cx="332.4" cy="317.3" r="0.55"/><circle cx="334.2" cy="317.3" r="0.55"/><circle cx="333.1" cy="318.6" r="0.55"/><circle cx="334.1" cy="319.8" r="0.55"/><circle cx="333.8" cy="321.6" r="0.55"/><circle cx="333.7" cy="319.9" r="0.55"/><circle cx="332.2" cy="318.2" r="0.55"/><circle cx="335.3" cy="318.1" r="0.55"/><circle cx="333.2" cy="317.8" r="0.55"/><circle cx="332.1" cy="310.8" r="0.55"/><circle cx="334.7" cy="315.2" r="0.55"/><circle cx="331.4" cy="321.3" r="0.55"/><circle cx="329.4" cy="318.1" r="0.55"/><circle cx="331.8" cy="313.6" r="0.55"/><circle cx="333.3" cy="316.1" r="0.55"/><circle cx="332.4" cy="317.0" r="0.55"/><circle cx="333.3" cy="323.4" r="0.55"/><circle cx="330.9" cy="320.1" r="0.55"/><circle cx="331.6" cy="317.1" r="0.55"/><circle cx="330.0" cy="315.3" r="0.55"/><circle cx="331.9" cy="320.0" r="0.55"/><circle cx="332.8" cy="319.4" r="0.55"/><circle cx="333.5" cy="314.7" r="0.55"/><circle cx="334.4" cy="317.2" r="0.55"/><circle cx="333.4" cy="317.6" r="0.55"/><circle cx="332.8" cy="319.6" r="0.55"/><circle cx="329.6" cy="322.8" r="0.55"/><circle cx="332.7" cy="320.6" r="0.55"/><circle cx="332.8" cy="318.2" r="0.55"/><circle cx="330.8" cy="317.1" r="0.55"/><circle cx="329.6" cy="317.6" r="0.55"/><circle cx="334.6" cy="313.5" r="0.55"/><circle cx="331.6" cy="317.1" r="0.55"/><circle cx="334.0" cy="321.0" r="0.55"/><circle cx="332.6" cy="318.2" r="0.55"/><circle cx="332.3" cy="316.8" r="0.55"/><circle cx="331.9" cy="316.9" r="0.55"/><circle cx="332.3" cy="318.2" r="0.55"/><circle cx="331.7" cy="319.5" r="0.55"/><circle cx="332.5" cy="319.3" r="0.55"/></g>
<g fill="#e8d020" fill-opacity="0.9"><circle cx="331.9" cy="319.0" r="0.55"/><circle cx="332.9" cy="317.6" r="0.55"/><circle cx="332.6" cy="318.5" r="0.55"/><circle cx="332.7" cy="318.3" r="0.55"/><circle cx="333.1" cy="319.4" r="0.55"/><circle cx="333.7" cy="318.1" r="0.55"/><circle cx="332.1" cy="319.0" r="0.55"/><circle cx="332.4" cy="317.2" r="0.55"/><circle cx="333.8" cy="319.2" r="0.55"/><circle cx="332.3" cy="317.8" r="0.55"/><circle cx="332.9" cy="318.4" r="0.55"/><circle cx="332.9" cy="318.1" r="0.55"/><circle cx="331.3" cy="316.0" r="0.55"/><circle cx="333.3" cy="318.5" r="0.55"/><circle cx="331.1" cy="318.6" r="0.55"/><circle cx="332.8" cy="319.1" r="0.55"/><circle cx="332.6" cy="318.6" r="0.55"/><circle cx="332.0" cy="316.2" r="0.55"/><circle cx="332.4" cy="318.3" r="0.55"/><circle cx="332.3" cy="316.3" r="0.55"/></g>
<g fill="#d08020" fill-opacity="0.9"><circle cx="332.5" cy="319.2" r="0.55"/><circle cx="332.9" cy="318.8" r="0.55"/><circle cx="332.6" cy="318.5" r="0.55"/><circle cx="332.6" cy="318.8" r="0.55"/><circle cx="332.4" cy="319.4" r="0.55"/><circle cx="333.1" cy="318.7" r="0.55"/></g>
<g fill="#30b0a0" fill-opacity="0.5"><circle cx="342.7" cy="312.0" r="0.5"/><circle cx="342.2" cy="311.3" r="0.5"/><circle cx="342.0" cy="310.9" r="0.5"/><circle cx="346.0" cy="311.3" r="0.5"/><circle cx="344.9" cy="311.1" r="0.5"/><circle cx="343.6" cy="314.1" r="0.5"/><circle cx="341.5" cy="311.2" r="0.5"/><circle cx="347.7" cy="309.7" r="0.5"/><circle cx="342.7" cy="310.6" r="0.5"/><circle cx="342.1" cy="310.8" r="0.5"/><circle cx="344.5" cy="310.9" r="0.5"/><circle cx="341.9" cy="312.3" r="0.5"/><circle cx="341.9" cy="310.1" r="0.5"/><circle cx="344.1" cy="310.1" r="0.5"/><circle cx="346.4" cy="308.8" r="0.5"/><circle cx="345.8" cy="311.2" r="0.5"/><circle cx="342.7" cy="311.9" r="0.5"/><circle cx="342.5" cy="310.8" r="0.5"/><circle cx="341.5" cy="309.0" r="0.5"/><circle cx="347.5" cy="310.0" r="0.5"/></g>
<rect x="315" y="290.5" width="63.10000000000002" height="62.30000000000001" fill="none" stroke="#222" stroke-width="1.1"/>
<text x="318.1" y="299.7" text-anchor="start" style="font-size:6.0px;stroke:#1a1a1a;stroke-width:0.22px" fill="#1a1a1a" textLength="11.8" lengthAdjust="spacingAndGlyphs">29.3</text>
<text x="359.6" y="299.7" text-anchor="start" style="font-size:6.0px;stroke:#1a1a1a;stroke-width:0.22px" fill="#1a1a1a" textLength="12.3" lengthAdjust="spacingAndGlyphs">33.2</text>
<text x="318.1" y="348.6" text-anchor="start" style="font-size:6.0px;stroke:#1a1a1a;stroke-width:0.22px" fill="#1a1a1a" textLength="11.8" lengthAdjust="spacingAndGlyphs">35.3</text>
<text x="359.6" y="348.6" text-anchor="start" style="font-size:6.0px;stroke:#1a1a1a;stroke-width:0.22px" fill="#1a1a1a" textLength="11.5" lengthAdjust="spacingAndGlyphs">2.11</text>
<line x1="299" y1="226.1" x2="299" y2="318.6" stroke="#6a6a6a" stroke-width="1.4"/>
<polygon points="299,219.4 295.2,227.6 299,225.79999999999998 302.8,227.6" fill="#000"/>
<text transform="translate(284.7,249.4) rotate(-90)" text-anchor="middle" style="font-size:12px;stroke:#1a1a1a;stroke-width:0.1px;font-style:italic" fill="#1a1a1a" textLength="34.6" lengthAdjust="spacingAndGlyphs">control</text>
<text transform="translate(284.6,342.9) rotate(-90)" style="font-size:11.3px;font-style:italic;stroke:#1a1a1a;stroke-width:0.1px" fill="#1a1a1a"><tspan textLength="28.7" lengthAdjust="spacingAndGlyphs">Tip60</tspan><tspan dy="-3.60" style="font-size:8.3px" textLength="13.1" lengthAdjust="spacingAndGlyphs">Δ/Δ</tspan></text>
<text transform="translate(302.2,342.9) rotate(-90)" text-anchor="start" style="font-size:11px;stroke:#1a1a1a;stroke-width:0.1px" fill="#1a1a1a" textLength="20.7" lengthAdjust="spacingAndGlyphs">Ki-67</text>
<text x="320.5" y="370.7" text-anchor="start" style="font-size:10px;stroke:#1a1a1a;stroke-width:0.1px" fill="#1a1a1a" textLength="30.8" lengthAdjust="spacingAndGlyphs">Hoechst</text>
<line x1="425" y1="222.5" x2="425" y2="353.75" stroke="#111" stroke-width="1.3"/>
<line x1="421.6" y1="353.75" x2="425" y2="353.75" stroke="#111" stroke-width="1.1"/>
<text x="419.8" y="357.15" text-anchor="end" style="font-size:10.4px;stroke:#1a1a1a;stroke-width:0.1px" fill="#1a1a1a" textLength="5.1" lengthAdjust="spacingAndGlyphs">0</text>
<line x1="421.6" y1="328.1" x2="425" y2="328.1" stroke="#111" stroke-width="1.1"/>
<text x="419.8" y="331.5" text-anchor="end" style="font-size:10.4px;stroke:#1a1a1a;stroke-width:0.1px" fill="#1a1a1a" textLength="10.0" lengthAdjust="spacingAndGlyphs">20</text>
<line x1="421.6" y1="302.45" x2="425" y2="302.45" stroke="#111" stroke-width="1.1"/>
<text x="419.8" y="305.84999999999997" text-anchor="end" style="font-size:10.4px;stroke:#1a1a1a;stroke-width:0.1px" fill="#1a1a1a" textLength="10.0" lengthAdjust="spacingAndGlyphs">40</text>
<line x1="421.6" y1="276.8" x2="425" y2="276.8" stroke="#111" stroke-width="1.1"/>
<text x="419.8" y="280.2" text-anchor="end" style="font-size:10.4px;stroke:#1a1a1a;stroke-width:0.1px" fill="#1a1a1a" textLength="10.0" lengthAdjust="spacingAndGlyphs">60</text>
<line x1="421.6" y1="251.15" x2="425" y2="251.15" stroke="#111" stroke-width="1.1"/>
<text x="419.8" y="254.55" text-anchor="end" style="font-size:10.4px;stroke:#1a1a1a;stroke-width:0.1px" fill="#1a1a1a" textLength="10.0" lengthAdjust="spacingAndGlyphs">80</text>
<line x1="421.6" y1="225.5" x2="425" y2="225.5" stroke="#111" stroke-width="1.1"/>
<text x="419.8" y="228.9" text-anchor="end" style="font-size:10.4px;stroke:#1a1a1a;stroke-width:0.1px" fill="#1a1a1a" textLength="14.5" lengthAdjust="spacingAndGlyphs">100</text>
<line x1="424.4" y1="353.75" x2="510.5" y2="353.75" stroke="#111" stroke-width="1.3"/>
<rect x="433.25" y="253.75" width="8.0" height="100.0" fill="#a50026"/>
<line x1="437.25" y1="235.2" x2="437.25" y2="253.75" stroke="#444" stroke-width="1.25"/>
<line x1="435.05" y1="235.2" x2="439.45" y2="235.2" stroke="#222" stroke-width="1.4"/>
<rect x="441.65" y="309.9" width="7.45" height="43.85" fill="#2e4b80" stroke="#1d3570" stroke-width="0.8"/>
<line x1="445.375" y1="303.75" x2="445.375" y2="309.5" stroke="#444" stroke-width="1.25"/>
<line x1="443.10625" y1="303.75" x2="447.64375" y2="303.75" stroke="#222" stroke-width="1.4"/>
<rect x="461.25" y="343" width="8.0" height="10.75" fill="#a50026"/>
<line x1="465.25" y1="334.25" x2="465.25" y2="343" stroke="#444" stroke-width="1.25"/>
<line x1="463.05" y1="334.25" x2="467.45" y2="334.25" stroke="#222" stroke-width="1.4"/>
<rect x="469.65" y="311.15" width="7.45" height="42.6" fill="#2e4b80" stroke="#1d3570" stroke-width="0.8"/>
<line x1="473.375" y1="291.25" x2="473.375" y2="310.75" stroke="#444" stroke-width="1.25"/>
<line x1="471.10625" y1="291.25" x2="475.64375" y2="291.25" stroke="#222" stroke-width="1.4"/>
<rect x="489.5" y="344.25" width="8.0" height="9.5" fill="#a50026"/>
<line x1="493.5" y1="335" x2="493.5" y2="344.25" stroke="#444" stroke-width="1.25"/>
<line x1="491.3" y1="335" x2="495.7" y2="335" stroke="#222" stroke-width="1.4"/>
<rect x="497.9" y="316.65" width="7.7" height="37.1" fill="#2e4b80" stroke="#1d3570" stroke-width="0.8"/>
<line x1="501.75" y1="303" x2="501.75" y2="316.25" stroke="#444" stroke-width="1.25"/>
<line x1="499.4125" y1="303" x2="504.0875" y2="303" stroke="#222" stroke-width="1.4"/>
<polyline points="436.8,232.7 436.8,228.5 445.4,228.5 445.4,301.3" fill="none" stroke="#333" stroke-width="1"/>
<g fill="#111" stroke="#111" stroke-width="0.5" stroke-linejoin="round"><polygon points="436.90,222.45 437.33,223.31 438.28,223.45 437.59,224.12 437.75,225.07 436.90,224.62 436.05,225.07 436.21,224.12 435.52,223.45 436.47,223.31"/><polygon points="440.80,222.45 441.23,223.31 442.18,223.45 441.49,224.12 441.65,225.07 440.80,224.62 439.95,225.07 440.11,224.12 439.42,223.45 440.37,223.31"/><polygon points="444.70,222.45 445.13,223.31 446.08,223.45 445.39,224.12 445.55,225.07 444.70,224.62 443.85,225.07 444.01,224.12 443.32,223.45 444.27,223.31"/></g>
<polyline points="465.3,331.8 465.3,283.2 473.6,283.2 473.6,288.8" fill="none" stroke="#333" stroke-width="1"/>
<g fill="#111" stroke="#111" stroke-width="0.5" stroke-linejoin="round"><polygon points="467.20,275.95 467.63,276.81 468.58,276.95 467.89,277.62 468.05,278.57 467.20,278.12 466.35,278.57 466.51,277.62 465.82,276.95 466.77,276.81"/><polygon points="471.40,275.95 471.83,276.81 472.78,276.95 472.09,277.62 472.25,278.57 471.40,278.12 470.55,278.57 470.71,277.62 470.02,276.95 470.97,276.81"/></g>
<polyline points="493.5,332.5 493.5,296.5 501.7,296.5 501.7,301.2" fill="none" stroke="#333" stroke-width="1"/>
<g fill="#111" stroke="#111" stroke-width="0.5" stroke-linejoin="round"><polygon points="493.70,290.75 494.13,291.61 495.08,291.75 494.39,292.42 494.55,293.37 493.70,292.93 492.85,293.37 493.01,292.42 492.32,291.75 493.27,291.61"/><polygon points="497.80,290.75 498.23,291.61 499.18,291.75 498.49,292.42 498.65,293.37 497.80,292.93 496.95,293.37 497.11,292.42 496.42,291.75 497.37,291.61"/><polygon points="501.90,290.75 502.33,291.61 503.28,291.75 502.59,292.42 502.75,293.37 501.90,292.93 501.05,293.37 501.21,292.42 500.52,291.75 501.47,291.61"/></g>
<rect x="461.25" y="225.5" width="12.5" height="5.75" fill="#a50026"/>
<text x="477.5" y="231.2" text-anchor="start" style="font-size:9.2px;stroke:#1a1a1a;stroke-width:0.22px;font-style:italic" fill="#1a1a1a" textLength="27" lengthAdjust="spacingAndGlyphs">control</text>
<rect x="461.25" y="243.75" width="12.5" height="5.5" fill="#2e4b80"/>
<text x="477.5" y="249.3" style="font-size:9.2px;font-style:italic;stroke:#1a1a1a;stroke-width:0.22px" fill="#1a1a1a">Tip60<tspan dy="-3.86" style="font-size:6.4399999999999995px">Δ/Δ</tspan></text>
<text transform="translate(397.9,288.4) rotate(-90)" text-anchor="middle" style="font-size:10.1px;stroke:#1a1a1a;stroke-width:0.1px" fill="#1a1a1a" textLength="76.8" lengthAdjust="spacingAndGlyphs">HSC distribution (%)</text>
<text x="433.8" y="368.8" text-anchor="start" style="font-size:10px;stroke:#1a1a1a;stroke-width:0.1px" fill="#1a1a1a" textLength="12" lengthAdjust="spacingAndGlyphs">G0</text>
<text x="462.5" y="368.8" text-anchor="start" style="font-size:10px;stroke:#1a1a1a;stroke-width:0.1px" fill="#1a1a1a" textLength="11.2" lengthAdjust="spacingAndGlyphs">G1</text>
<text x="490" y="368.8" text-anchor="start" style="font-size:10px;stroke:#1a1a1a;stroke-width:0.1px" fill="#1a1a1a" textLength="8.7" lengthAdjust="spacingAndGlyphs">S-</text>
<text x="486.3" y="379.5" text-anchor="start" style="font-size:10px;stroke:#1a1a1a;stroke-width:0.1px" fill="#1a1a1a" textLength="23.7" lengthAdjust="spacingAndGlyphs">G2/M</text>
<text x="8.8" y="411.3" text-anchor="start" style="font-size:12.5px;font-weight:bold" fill="#000">D</text>
<g stroke="#000" stroke-width="0.8"><line x1="59.5" y1="481.0" x2="62.5" y2="481.0"/><line x1="60.9" y1="478.4" x2="62.5" y2="478.4"/><line x1="60.9" y1="475.8" x2="62.5" y2="475.8"/><line x1="60.9" y1="473.2" x2="62.5" y2="473.2"/><line x1="60.9" y1="470.6" x2="62.5" y2="470.6"/><line x1="59.5" y1="468.0" x2="62.5" y2="468.0"/><line x1="60.9" y1="465.4" x2="62.5" y2="465.4"/><line x1="60.9" y1="462.8" x2="62.5" y2="462.8"/><line x1="60.9" y1="460.2" x2="62.5" y2="460.2"/><line x1="60.9" y1="457.6" x2="62.5" y2="457.6"/><line x1="59.5" y1="455.0" x2="62.5" y2="455.0"/><line x1="60.9" y1="452.4" x2="62.5" y2="452.4"/><line x1="60.9" y1="449.8" x2="62.5" y2="449.8"/><line x1="60.9" y1="447.2" x2="62.5" y2="447.2"/><line x1="60.9" y1="444.6" x2="62.5" y2="444.6"/><line x1="59.5" y1="442.0" x2="62.5" y2="442.0"/><line x1="60.9" y1="439.4" x2="62.5" y2="439.4"/><line x1="60.9" y1="436.8" x2="62.5" y2="436.8"/><line x1="60.9" y1="434.2" x2="62.5" y2="434.2"/><line x1="60.9" y1="431.6" x2="62.5" y2="431.6"/><line x1="59.5" y1="429.0" x2="62.5" y2="429.0"/><line x1="60.9" y1="426.4" x2="62.5" y2="426.4"/><line x1="60.9" y1="423.8" x2="62.5" y2="423.8"/><line x1="60.9" y1="421.2" x2="62.5" y2="421.2"/><line x1="60.9" y1="418.6" x2="62.5" y2="418.6"/><line x1="62.7" y1="481.5" x2="62.7" y2="484.5"/><line x1="65.2" y1="481.5" x2="65.2" y2="483.1"/><line x1="67.8" y1="481.5" x2="67.8" y2="483.1"/><line x1="70.3" y1="481.5" x2="70.3" y2="483.1"/><line x1="72.9" y1="481.5" x2="72.9" y2="483.1"/><line x1="75.4" y1="481.5" x2="75.4" y2="484.5"/><line x1="77.9" y1="481.5" x2="77.9" y2="483.1"/><line x1="80.5" y1="481.5" x2="80.5" y2="483.1"/><line x1="83.0" y1="481.5" x2="83.0" y2="483.1"/><line x1="85.6" y1="481.5" x2="85.6" y2="483.1"/><line x1="88.1" y1="481.5" x2="88.1" y2="484.5"/><line x1="90.6" y1="481.5" x2="90.6" y2="483.1"/><line x1="93.2" y1="481.5" x2="93.2" y2="483.1"/><line x1="95.7" y1="481.5" x2="95.7" y2="483.1"/><line x1="98.3" y1="481.5" x2="98.3" y2="483.1"/><line x1="100.8" y1="481.5" x2="100.8" y2="484.5"/><line x1="103.3" y1="481.5" x2="103.3" y2="483.1"/><line x1="105.9" y1="481.5" x2="105.9" y2="483.1"/><line x1="108.4" y1="481.5" x2="108.4" y2="483.1"/><line x1="111.0" y1="481.5" x2="111.0" y2="483.1"/><line x1="113.5" y1="481.5" x2="113.5" y2="484.5"/><line x1="116.0" y1="481.5" x2="116.0" y2="483.1"/><line x1="118.6" y1="481.5" x2="118.6" y2="483.1"/><line x1="121.1" y1="481.5" x2="121.1" y2="483.1"/><line x1="123.7" y1="481.5" x2="123.7" y2="483.1"/><line x1="126.2" y1="481.5" x2="126.2" y2="484.5"/></g>
<rect x="62.5" y="415.6" width="66.0" height="65.89999999999998" fill="none" stroke="#000" stroke-width="1.2"/>
<rect x="62.5" y="415.6" width="66.0" height="3.4" fill="#9a9a9a"/>
<line x1="62.5" y1="416.0" x2="128.5" y2="416.0" stroke="#111" stroke-width="1.2"/>
<line x1="72.4" y1="415.6" x2="72.4" y2="419.20000000000005" stroke="#000" stroke-width="0.9"/>
<line x1="78.6" y1="415.6" x2="78.6" y2="419.20000000000005" stroke="#000" stroke-width="0.9"/>
<line x1="83.7" y1="415.6" x2="83.7" y2="419.20000000000005" stroke="#000" stroke-width="0.9"/>
<line x1="93.8" y1="415.6" x2="93.8" y2="419.20000000000005" stroke="#000" stroke-width="0.9"/>
<line x1="126.5" y1="415.6" x2="126.5" y2="419.20000000000005" stroke="#000" stroke-width="0.9"/>
<path d="M62.7,481 C63.58,481.00 66.45,481.03 68,481 C69.55,480.97 71.10,481.22 72,480.8 C72.90,480.38 73.03,481.63 73.4,478.5 C73.77,475.37 73.97,469.75 74.2,462 C74.43,454.25 74.62,438.45 74.8,432 C74.98,425.55 75.13,423.47 75.3,423.3 C75.47,423.13 75.62,425.55 75.8,431 C75.98,436.45 76.18,450.00 76.4,456 C76.62,462.00 76.80,464.23 77.1,467 C77.40,469.77 77.72,471.20 78.2,472.6 C78.68,474.00 79.27,474.70 80,475.4 C80.73,476.10 81.83,476.73 82.6,476.8 C83.37,476.87 84.03,476.33 84.6,475.8 C85.17,475.27 85.63,474.15 86,473.6 C86.37,473.05 86.53,472.47 86.8,472.5 C87.07,472.53 87.32,473.02 87.6,473.8 C87.88,474.58 88.17,476.10 88.5,477.2 C88.83,478.30 89.18,479.75 89.6,480.4 C90.02,481.05 90.10,480.97 91,481.1 C91.90,481.23 94.33,481.18 95,481.2" fill="none" stroke="#bb2846" stroke-width="1.0" stroke-linejoin="round"/>
<g stroke="#000" stroke-width="0.8"><line x1="59.5" y1="555.8" x2="62.5" y2="555.8"/><line x1="60.9" y1="553.2" x2="62.5" y2="553.2"/><line x1="60.9" y1="550.6" x2="62.5" y2="550.6"/><line x1="60.9" y1="548.0" x2="62.5" y2="548.0"/><line x1="60.9" y1="545.4" x2="62.5" y2="545.4"/><line x1="59.5" y1="542.8" x2="62.5" y2="542.8"/><line x1="60.9" y1="540.2" x2="62.5" y2="540.2"/><line x1="60.9" y1="537.6" x2="62.5" y2="537.6"/><line x1="60.9" y1="535.0" x2="62.5" y2="535.0"/><line x1="60.9" y1="532.4" x2="62.5" y2="532.4"/><line x1="59.5" y1="529.8" x2="62.5" y2="529.8"/><line x1="60.9" y1="527.2" x2="62.5" y2="527.2"/><line x1="60.9" y1="524.6" x2="62.5" y2="524.6"/><line x1="60.9" y1="522.0" x2="62.5" y2="522.0"/><line x1="60.9" y1="519.4" x2="62.5" y2="519.4"/><line x1="59.5" y1="516.8" x2="62.5" y2="516.8"/><line x1="60.9" y1="514.2" x2="62.5" y2="514.2"/><line x1="60.9" y1="511.6" x2="62.5" y2="511.6"/><line x1="60.9" y1="509.0" x2="62.5" y2="509.0"/><line x1="60.9" y1="506.4" x2="62.5" y2="506.4"/><line x1="59.5" y1="503.8" x2="62.5" y2="503.8"/><line x1="60.9" y1="501.2" x2="62.5" y2="501.2"/><line x1="60.9" y1="498.6" x2="62.5" y2="498.6"/><line x1="60.9" y1="496.0" x2="62.5" y2="496.0"/><line x1="62.7" y1="556.3" x2="62.7" y2="559.3"/><line x1="65.2" y1="556.3" x2="65.2" y2="557.9"/><line x1="67.8" y1="556.3" x2="67.8" y2="557.9"/><line x1="70.3" y1="556.3" x2="70.3" y2="557.9"/><line x1="72.9" y1="556.3" x2="72.9" y2="557.9"/><line x1="75.4" y1="556.3" x2="75.4" y2="559.3"/><line x1="77.9" y1="556.3" x2="77.9" y2="557.9"/><line x1="80.5" y1="556.3" x2="80.5" y2="557.9"/><line x1="83.0" y1="556.3" x2="83.0" y2="557.9"/><line x1="85.6" y1="556.3" x2="85.6" y2="557.9"/><line x1="88.1" y1="556.3" x2="88.1" y2="559.3"/><line x1="90.6" y1="556.3" x2="90.6" y2="557.9"/><line x1="93.2" y1="556.3" x2="93.2" y2="557.9"/><line x1="95.7" y1="556.3" x2="95.7" y2="557.9"/><line x1="98.3" y1="556.3" x2="98.3" y2="557.9"/><line x1="100.8" y1="556.3" x2="100.8" y2="559.3"/><line x1="103.3" y1="556.3" x2="103.3" y2="557.9"/><line x1="105.9" y1="556.3" x2="105.9" y2="557.9"/><line x1="108.4" y1="556.3" x2="108.4" y2="557.9"/><line x1="111.0" y1="556.3" x2="111.0" y2="557.9"/><line x1="113.5" y1="556.3" x2="113.5" y2="559.3"/><line x1="116.0" y1="556.3" x2="116.0" y2="557.9"/><line x1="118.6" y1="556.3" x2="118.6" y2="557.9"/><line x1="121.1" y1="556.3" x2="121.1" y2="557.9"/><line x1="123.7" y1="556.3" x2="123.7" y2="557.9"/><line x1="126.2" y1="556.3" x2="126.2" y2="559.3"/></g>
<rect x="62.5" y="490.7" width="66.0" height="65.59999999999997" fill="none" stroke="#000" stroke-width="1.2"/>
<rect x="62.5" y="490.7" width="66.0" height="2.1" fill="#1a1a1a"/>
<rect x="62.5" y="492.8" width="66.0" height="0.8" fill="#888"/>
<line x1="72.4" y1="490.7" x2="72.4" y2="494.3" stroke="#000" stroke-width="0.9"/>
<line x1="78.6" y1="490.7" x2="78.6" y2="494.3" stroke="#000" stroke-width="0.9"/>
<line x1="83.7" y1="490.7" x2="83.7" y2="494.3" stroke="#000" stroke-width="0.9"/>
<line x1="93.8" y1="490.7" x2="93.8" y2="494.3" stroke="#000" stroke-width="0.9"/>
<line x1="126.5" y1="490.7" x2="126.5" y2="494.3" stroke="#000" stroke-width="0.9"/>
<path d="M63,553.9 C63.25,554.08 63.83,554.70 64.5,555.0 C65.17,555.30 65.70,555.57 67,555.7 C68.30,555.83 71.23,556.48 72.3,555.8 C73.37,555.12 73.10,556.73 73.4,551.6 C73.70,546.47 73.88,534.05 74.1,525.0 C74.32,515.95 74.50,500.80 74.7,497.3 C74.90,493.80 75.08,498.88 75.3,504.0 C75.52,509.12 75.73,521.42 76,528.0 C76.27,534.58 76.57,539.93 76.9,543.5 C77.23,547.07 77.48,548.17 78,549.4 C78.52,550.63 79.17,550.62 80,550.9 C80.83,551.18 82.28,551.48 83,551.1 C83.72,550.72 83.88,551.95 84.3,548.6 C84.72,545.25 85.13,535.68 85.5,531.0 C85.87,526.32 86.17,521.00 86.5,520.5 C86.83,520.00 87.17,524.42 87.5,528.0 C87.83,531.58 88.13,538.07 88.5,542.0 C88.87,545.93 89.28,549.52 89.7,551.6 C90.12,553.68 90.12,553.83 91,554.5 C91.88,555.17 93.00,555.42 95,555.6 C97.00,555.78 101.25,555.85 103,555.6 C104.75,555.35 104.75,554.85 105.5,554.1 C106.25,553.35 106.95,551.75 107.5,551.1 C108.05,550.45 108.30,550.12 108.8,550.2 C109.30,550.28 109.88,550.90 110.5,551.6 C111.12,552.30 111.75,553.68 112.5,554.4 C113.25,555.12 114.08,555.62 115,555.9 C115.92,556.18 117.50,556.07 118,556.1" fill="none" stroke="#bb2846" stroke-width="1.15" stroke-linejoin="round"/>
<line x1="48.3" y1="423.5" x2="48.3" y2="529" stroke="#111" stroke-width="1.1"/>
<polygon points="48.3,416.8 44.8,425.0 48.3,423.2 51.8,425.0" fill="#000"/>
<text transform="translate(34.1,450.75) rotate(-90)" text-anchor="middle" style="font-size:12px;stroke:#1a1a1a;stroke-width:0.1px;font-style:italic" fill="#1a1a1a" textLength="34.5" lengthAdjust="spacingAndGlyphs">control</text>
<text transform="translate(33.9,540.6) rotate(-90)" style="font-size:10.8px;font-style:italic;stroke:#1a1a1a;stroke-width:0.1px" fill="#1a1a1a"><tspan textLength="26" lengthAdjust="spacingAndGlyphs">Tip60</tspan><tspan dy="-3.60" style="font-size:8.6px" textLength="15" lengthAdjust="spacingAndGlyphs">Δ/Δ</tspan></text>
<text transform="translate(52,555.4) rotate(-90)" text-anchor="start" style="font-size:11px;stroke:#1a1a1a;stroke-width:0.1px" fill="#1a1a1a" textLength="22.7" lengthAdjust="spacingAndGlyphs">Count</text>
<text x="62.7" y="573" text-anchor="start" style="font-size:9.8px;stroke:#1a1a1a;stroke-width:0.1px" fill="#1a1a1a" textLength="17.7" lengthAdjust="spacingAndGlyphs">DAPI</text>
<text x="133" y="431.2" text-anchor="start" style="font-size:8.6px;stroke:#1a1a1a;stroke-width:0.22px" fill="#1a1a1a" textLength="28.9" lengthAdjust="spacingAndGlyphs">Sub-G1</text>
<text x="188.8" y="431.2" text-anchor="start" style="font-size:8.6px;stroke:#1a1a1a;stroke-width:0.22px" fill="#1a1a1a">2.2</text>
<text x="133" y="443" text-anchor="start" style="font-size:8.6px;stroke:#1a1a1a;stroke-width:0.22px" fill="#1a1a1a" textLength="25.5" lengthAdjust="spacingAndGlyphs">G0/G1</text>
<text x="188.8" y="443" text-anchor="start" style="font-size:8.6px;stroke:#1a1a1a;stroke-width:0.22px" fill="#1a1a1a">66</text>
<text x="133" y="454.7" text-anchor="start" style="font-size:8.6px;stroke:#1a1a1a;stroke-width:0.22px" fill="#1a1a1a" textLength="4.4" lengthAdjust="spacingAndGlyphs">S</text>
<text x="188.8" y="454.7" text-anchor="start" style="font-size:8.6px;stroke:#1a1a1a;stroke-width:0.22px" fill="#1a1a1a">15.1</text>
<text x="133" y="466.5" text-anchor="start" style="font-size:8.6px;stroke:#1a1a1a;stroke-width:0.22px" fill="#1a1a1a" textLength="22.3" lengthAdjust="spacingAndGlyphs">G2/M</text>
<text x="188.8" y="466.5" text-anchor="start" style="font-size:8.6px;stroke:#1a1a1a;stroke-width:0.22px" fill="#1a1a1a">16.9</text>
<text x="133" y="478.4" text-anchor="start" style="font-size:8.6px;stroke:#1a1a1a;stroke-width:0.22px" fill="#1a1a1a" textLength="36.3" lengthAdjust="spacingAndGlyphs">Super-G2</text>
<text x="188.8" y="478.4" text-anchor="start" style="font-size:8.6px;stroke:#1a1a1a;stroke-width:0.22px" fill="#1a1a1a">0.0</text>
<text x="133" y="501.2" text-anchor="start" style="font-size:8.6px;stroke:#1a1a1a;stroke-width:0.22px" fill="#1a1a1a" textLength="28.9" lengthAdjust="spacingAndGlyphs">Sub-G1</text>
<text x="188.8" y="501.2" text-anchor="start" style="font-size:8.6px;stroke:#1a1a1a;stroke-width:0.22px" fill="#1a1a1a">2.9</text>
<text x="133" y="512.7" text-anchor="start" style="font-size:8.6px;stroke:#1a1a1a;stroke-width:0.22px" fill="#1a1a1a" textLength="25.5" lengthAdjust="spacingAndGlyphs">G0/G1</text>
<text x="188.8" y="512.7" text-anchor="start" style="font-size:8.6px;stroke:#1a1a1a;stroke-width:0.22px" fill="#1a1a1a">38</text>
<text x="133" y="524.5" text-anchor="start" style="font-size:8.6px;stroke:#1a1a1a;stroke-width:0.22px" fill="#1a1a1a" textLength="4.4" lengthAdjust="spacingAndGlyphs">S</text>
<text x="188.8" y="524.5" text-anchor="start" style="font-size:8.6px;stroke:#1a1a1a;stroke-width:0.22px" fill="#1a1a1a">9.1</text>
<text x="133" y="536.2" text-anchor="start" style="font-size:8.6px;stroke:#1a1a1a;stroke-width:0.22px" fill="#1a1a1a" textLength="22.3" lengthAdjust="spacingAndGlyphs">G2/M</text>
<text x="188.8" y="536.2" text-anchor="start" style="font-size:8.6px;stroke:#1a1a1a;stroke-width:0.22px" fill="#1a1a1a">37</text>
<text x="133" y="548" text-anchor="start" style="font-size:8.6px;stroke:#1a1a1a;stroke-width:0.22px" fill="#1a1a1a" textLength="36.3" lengthAdjust="spacingAndGlyphs">Super-G2</text>
<text x="188.8" y="548" text-anchor="start" style="font-size:8.6px;stroke:#1a1a1a;stroke-width:0.22px" fill="#1a1a1a">13</text>
<line x1="258" y1="416.5" x2="258" y2="548" stroke="#111" stroke-width="1.3"/>
<line x1="254.8" y1="548.0" x2="258" y2="548.0" stroke="#111" stroke-width="1.1"/>
<text x="248.6" y="551.4" text-anchor="end" style="font-size:10.4px;stroke:#1a1a1a;stroke-width:0.1px" fill="#1a1a1a" textLength="5.1" lengthAdjust="spacingAndGlyphs">0</text>
<line x1="254.8" y1="515.9" x2="258" y2="515.9" stroke="#111" stroke-width="1.1"/>
<text x="248.6" y="519.3" text-anchor="end" style="font-size:10.4px;stroke:#1a1a1a;stroke-width:0.1px" fill="#1a1a1a" textLength="10.0" lengthAdjust="spacingAndGlyphs">20</text>
<line x1="254.8" y1="483.8" x2="258" y2="483.8" stroke="#111" stroke-width="1.1"/>
<text x="248.6" y="487.2" text-anchor="end" style="font-size:10.4px;stroke:#1a1a1a;stroke-width:0.1px" fill="#1a1a1a" textLength="10.0" lengthAdjust="spacingAndGlyphs">40</text>
<line x1="254.8" y1="451.7" x2="258" y2="451.7" stroke="#111" stroke-width="1.1"/>
<text x="248.6" y="455.09999999999997" text-anchor="end" style="font-size:10.4px;stroke:#1a1a1a;stroke-width:0.1px" fill="#1a1a1a" textLength="10.0" lengthAdjust="spacingAndGlyphs">60</text>
<line x1="254.8" y1="419.6" x2="258" y2="419.6" stroke="#111" stroke-width="1.1"/>
<text x="248.6" y="423.0" text-anchor="end" style="font-size:10.4px;stroke:#1a1a1a;stroke-width:0.1px" fill="#1a1a1a" textLength="10.0" lengthAdjust="spacingAndGlyphs">80</text>
<line x1="257.4" y1="548" x2="385.5" y2="548" stroke="#111" stroke-width="1.3"/>
<rect x="262.5" y="539.6" width="8.199999999999989" height="8.399999999999977" fill="#a50026"/>
<line x1="266.6" y1="537" x2="266.6" y2="539.6" stroke="#444" stroke-width="1.25"/>
<line x1="264.345" y1="537" x2="268.855" y2="537" stroke="#222" stroke-width="1.4"/>
<rect x="271.09999999999997" y="525.9" width="7.7" height="22.1" fill="#2e4b80" stroke="#1d3570" stroke-width="0.8"/>
<line x1="274.95" y1="511.8" x2="274.95" y2="525.5" stroke="#444" stroke-width="1.25"/>
<line x1="272.6125" y1="511.8" x2="277.28749999999997" y2="511.8" stroke="#222" stroke-width="1.4"/>
<rect x="288.4" y="457" width="7.900000000000034" height="91" fill="#a50026"/>
<line x1="292.35" y1="450" x2="292.35" y2="457" stroke="#444" stroke-width="1.25"/>
<line x1="290.1775" y1="450" x2="294.52250000000004" y2="450" stroke="#222" stroke-width="1.4"/>
<rect x="296.7" y="494.2" width="7.7" height="53.79999999999999" fill="#2e4b80" stroke="#1d3570" stroke-width="0.8"/>
<line x1="300.55" y1="490" x2="300.55" y2="493.8" stroke="#444" stroke-width="1.25"/>
<line x1="298.21250000000003" y1="490" x2="302.8875" y2="490" stroke="#222" stroke-width="1.4"/>
<rect x="313.8" y="514.8" width="8.199999999999989" height="33.200000000000045" fill="#a50026"/>
<line x1="317.9" y1="508.6" x2="317.9" y2="514.8" stroke="#444" stroke-width="1.25"/>
<line x1="315.645" y1="508.6" x2="320.155" y2="508.6" stroke="#222" stroke-width="1.4"/>
<rect x="322.4" y="530.1999999999999" width="7.599999999999977" height="17.800000000000047" fill="#2e4b80" stroke="#1d3570" stroke-width="0.8"/>
<line x1="326.2" y1="525.6" x2="326.2" y2="529.8" stroke="#444" stroke-width="1.25"/>
<line x1="323.89" y1="525.6" x2="328.51" y2="525.6" stroke="#222" stroke-width="1.4"/>
<rect x="339.3" y="520.6" width="8.199999999999989" height="27.399999999999977" fill="#a50026"/>
<line x1="343.4" y1="519" x2="343.4" y2="520.6" stroke="#444" stroke-width="1.25"/>
<line x1="341.145" y1="519" x2="345.655" y2="519" stroke="#222" stroke-width="1.4"/>
<rect x="347.9" y="498.79999999999995" width="7.599999999999977" height="49.200000000000024" fill="#2e4b80" stroke="#1d3570" stroke-width="0.8"/>
<line x1="351.7" y1="491.2" x2="351.7" y2="498.4" stroke="#444" stroke-width="1.25"/>
<line x1="349.39" y1="491.2" x2="354.01" y2="491.2" stroke="#222" stroke-width="1.4"/>
<rect x="364.8" y="547.2" width="8.399999999999977" height="0.7999999999999545" fill="#a50026"/>
<rect x="373.59999999999997" y="534.1" width="7.7" height="13.899999999999954" fill="#2e4b80" stroke="#1d3570" stroke-width="0.8"/>
<line x1="377.45" y1="529.8" x2="377.45" y2="533.7" stroke="#444" stroke-width="1.25"/>
<line x1="375.1125" y1="529.8" x2="379.78749999999997" y2="529.8" stroke="#222" stroke-width="1.4"/>
<polyline points="266.6,534.5 266.6,500.6 275,500.6 275,509.3" fill="none" stroke="#333" stroke-width="1"/>
<text x="270.5" y="497.5" text-anchor="middle" style="font-size:9.6px;stroke:#1a1a1a;stroke-width:0.1px" fill="#1a1a1a" textLength="8.4" lengthAdjust="spacingAndGlyphs">ns</text>
<polyline points="292.4,445.4 292.4,438.3 300.5,438.3 300.5,487.5" fill="none" stroke="#333" stroke-width="1"/>
<g fill="#111" stroke="#111" stroke-width="0.5" stroke-linejoin="round"><polygon points="294.10,430.45 294.53,431.31 295.48,431.45 294.79,432.12 294.95,433.07 294.10,432.62 293.25,433.07 293.41,432.12 292.72,431.45 293.67,431.31"/><polygon points="298.30,430.45 298.73,431.31 299.68,431.45 298.99,432.12 299.15,433.07 298.30,432.62 297.45,433.07 297.61,432.12 296.92,431.45 297.87,431.31"/></g>
<polyline points="318.1,506.1 318.1,497.5 326.2,497.5 326.2,523.1" fill="none" stroke="#333" stroke-width="1"/>
<text x="322" y="494.1" text-anchor="middle" style="font-size:9.6px;stroke:#1a1a1a;stroke-width:0.1px" fill="#1a1a1a" textLength="8.4" lengthAdjust="spacingAndGlyphs">ns</text>
<polyline points="343.4,516.5 343.4,479.8 351.7,479.8 351.7,488.7" fill="none" stroke="#333" stroke-width="1"/>
<g fill="#111" stroke="#111" stroke-width="0.5" stroke-linejoin="round"><polygon points="347.50,474.45 347.93,475.31 348.88,475.45 348.19,476.12 348.35,477.07 347.50,476.62 346.65,477.07 346.81,476.12 346.12,475.45 347.07,475.31"/></g>
<polyline points="369,545.2 369,518.2 377.5,518.2 377.5,527.3" fill="none" stroke="#333" stroke-width="1"/>
<g fill="#111" stroke="#111" stroke-width="0.5" stroke-linejoin="round"><polygon points="372.90,511.95 373.33,512.81 374.28,512.95 373.59,513.62 373.75,514.57 372.90,514.12 372.05,514.57 372.21,513.62 371.52,512.95 372.47,512.81"/></g>
<rect x="321.25" y="418.75" width="12.5" height="6.25" fill="#a50026"/>
<text x="337.5" y="425" text-anchor="start" style="font-size:9.2px;stroke:#1a1a1a;stroke-width:0.22px;font-style:italic" fill="#1a1a1a" textLength="27" lengthAdjust="spacingAndGlyphs">control</text>
<rect x="321.25" y="437.5" width="12.5" height="5.5" fill="#2e4b80"/>
<text x="337.5" y="443" style="font-size:9.2px;font-style:italic;stroke:#1a1a1a;stroke-width:0.22px" fill="#1a1a1a">Tip60<tspan dy="-3.86" style="font-size:6.4399999999999995px">Δ/Δ</tspan></text>
<text transform="translate(231.6,482.1) rotate(-90)" text-anchor="middle" style="font-size:10.3px;stroke:#1a1a1a;stroke-width:0.1px" fill="#1a1a1a" textLength="60.4" lengthAdjust="spacingAndGlyphs">% cells in phase</text>
<text transform="translate(274.1,563) rotate(-45)" text-anchor="end" style="font-size:9.8px;stroke:#1a1a1a;stroke-width:0.1px" fill="#1a1a1a" textLength="30.5" lengthAdjust="spacingAndGlyphs">Sub-G1</text>
<text transform="translate(300.40000000000003,563) rotate(-45)" text-anchor="end" style="font-size:9.8px;stroke:#1a1a1a;stroke-width:0.1px" fill="#1a1a1a" textLength="27.3" lengthAdjust="spacingAndGlyphs">G0/G1</text>
<text transform="translate(325.8,563) rotate(-45)" text-anchor="end" style="font-size:9.8px;stroke:#1a1a1a;stroke-width:0.1px" fill="#1a1a1a" textLength="5.2" lengthAdjust="spacingAndGlyphs">S</text>
<text transform="translate(351.6,563) rotate(-45)" text-anchor="end" style="font-size:9.8px;stroke:#1a1a1a;stroke-width:0.1px" fill="#1a1a1a" textLength="24.7" lengthAdjust="spacingAndGlyphs">G2/M</text>
<text transform="translate(378.6,563) rotate(-45)" text-anchor="end" style="font-size:9.8px;stroke:#1a1a1a;stroke-width:0.1px" fill="#1a1a1a" textLength="38.9" lengthAdjust="spacingAndGlyphs">Super-G2</text>
<text x="9" y="592.9" text-anchor="start" style="font-size:12.8px;font-weight:bold" fill="#000">E</text>
<text x="63.1" y="607.4" text-anchor="start" style="font-size:9.4px;stroke:#1a1a1a;stroke-width:0.22px" fill="#1a1a1a" textLength="37.7" lengthAdjust="spacingAndGlyphs">Fetal LSK</text>
<text x="147.4" y="607.4" text-anchor="start" style="font-size:9.4px;stroke:#1a1a1a;stroke-width:0.22px" fill="#1a1a1a" textLength="42.8" lengthAdjust="spacingAndGlyphs">Adult HSC</text>
<text transform="translate(32.7,645.6) rotate(-90)" text-anchor="middle" style="font-size:10px;stroke:#1a1a1a;stroke-width:0.1px" fill="#1a1a1a" textLength="28.2" lengthAdjust="spacingAndGlyphs">control</text>
<text transform="translate(32.3,723.4) rotate(-90)" style="font-size:9.4px;font-style:italic;stroke:#1a1a1a;stroke-width:0.22px" fill="#1a1a1a"><tspan textLength="21.8" lengthAdjust="spacingAndGlyphs">Tip60</tspan><tspan dy="-3.40" style="font-size:8px" textLength="12.6" lengthAdjust="spacingAndGlyphs">Δ/Δ</tspan></text>
<defs>
<radialGradient id="cr"><stop offset="0" stop-color="#286a16"/><stop offset="0.45" stop-color="#2e7a1a"/><stop offset="0.72" stop-color="#409a26"/><stop offset="0.88" stop-color="#32801e"/><stop offset="1" stop-color="#1a4a0c" stop-opacity="0"/></radialGradient>
<radialGradient id="cb"><stop offset="0" stop-color="#80f450"/><stop offset="0.55" stop-color="#62e23a"/><stop offset="0.85" stop-color="#48b82a"/><stop offset="1" stop-color="#2c7a18" stop-opacity="0"/></radialGradient>
<radialGradient id="cd"><stop offset="0" stop-color="#46a024"/><stop offset="0.6" stop-color="#3a8a1e"/><stop offset="0.85" stop-color="#2c6e16"/><stop offset="1" stop-color="#1a4a0c" stop-opacity="0"/></radialGradient>
<radialGradient id="cm"><stop offset="0" stop-color="#5cbc36"/><stop offset="0.7" stop-color="#50a830"/><stop offset="0.9" stop-color="#3a8020"/><stop offset="1" stop-color="#1a4a0c" stop-opacity="0"/></radialGradient>
<radialGradient id="hz"><stop offset="0" stop-color="#3a6a22"/><stop offset="0.6" stop-color="#1e3c10"/><stop offset="1" stop-color="#000" stop-opacity="0"/></radialGradient>
<filter id="sb" x="-50%" y="-50%" width="200%" height="200%"><feGaussianBlur stdDeviation="0.75"/></filter>
<filter id="sb2" x="-50%" y="-50%" width="200%" height="200%"><feGaussianBlur stdDeviation="0.8"/></filter>
<clipPath id="c1"><rect x="37.5" y="611.1" width="84.9" height="63.5"/></clipPath>
<clipPath id="c2"><rect x="124.6" y="611.1" width="84.8" height="63.5"/></clipPath>
<clipPath id="c3"><rect x="37.4" y="677.8" width="85" height="63.7"/></clipPath>
<clipPath id="c4"><rect x="124.6" y="677.8" width="84.8" height="63.7"/></clipPath>
</defs>
<rect x="37.5" y="611.1" width="84.9" height="63.5" fill="#000"/>
<rect x="124.6" y="611.1" width="84.8" height="63.5" fill="#000"/>
<rect x="37.4" y="677.8" width="85" height="63.7" fill="#000"/>
<rect x="124.6" y="677.8" width="84.8" height="63.7" fill="#000"/>
<g clip-path="url(#c1)" filter="url(#sb)"><circle cx="55.4" cy="615.8" r="2.68" fill="url(#cr)"/><circle cx="65.3" cy="618.4" r="2.78" fill="url(#cr)"/><circle cx="64.4" cy="611.8" r="2.45" fill="url(#cr)"/><circle cx="60.6" cy="621.8" r="2.68" fill="url(#cr)"/><circle cx="41.6" cy="626.7" r="3.23" fill="url(#cr)"/><circle cx="54" cy="625.7" r="2.78" fill="url(#cr)"/><circle cx="62.3" cy="626.5" r="2.89" fill="url(#cr)"/><circle cx="67.4" cy="628.4" r="2.57" fill="url(#cr)"/><circle cx="81.4" cy="626.5" r="2.68" fill="url(#cr)"/><circle cx="86.9" cy="627" r="2.68" fill="url(#cr)"/><circle cx="51.4" cy="632.2" r="2.57" fill="url(#cr)"/><circle cx="42.8" cy="636.6" r="2.89" fill="url(#cr)"/><circle cx="71.3" cy="638.5" r="2.57" fill="url(#cr)"/><circle cx="84.8" cy="637.1" r="2.89" fill="url(#cr)"/><circle cx="97.8" cy="637.4" r="2.45" fill="url(#cb)"/><circle cx="116" cy="639.2" r="3.0" fill="url(#cr)"/><circle cx="38.6" cy="639.2" r="2.45" fill="url(#cr)"/><circle cx="40.7" cy="643.5" r="2.57" fill="url(#cr)"/><circle cx="56.5" cy="641.9" r="2.45" fill="url(#cr)"/><circle cx="91.2" cy="646.4" r="3.0" fill="url(#cr)"/><circle cx="94.7" cy="648.7" r="2.68" fill="url(#cr)"/><circle cx="66.2" cy="648.7" r="3.0" fill="url(#cr)"/><circle cx="109.1" cy="645.7" r="2.45" fill="url(#cb)"/><circle cx="110.3" cy="649.9" r="2.68" fill="url(#cr)"/><circle cx="118.6" cy="648.8" r="2.57" fill="url(#cr)"/><circle cx="121.4" cy="652.1" r="2.45" fill="url(#cr)"/><circle cx="38.3" cy="645.2" r="2.23" fill="url(#cr)"/><circle cx="88.7" cy="654.7" r="2.57" fill="url(#cb)"/><circle cx="106.5" cy="656" r="2.89" fill="url(#cr)"/><circle cx="66.5" cy="657.2" r="2.57" fill="url(#cr)"/><circle cx="80" cy="657.3" r="2.57" fill="url(#cb)"/><circle cx="54" cy="659.4" r="2.45" fill="url(#cb)"/><circle cx="76" cy="660" r="2.57" fill="url(#cr)"/><circle cx="83.5" cy="660.4" r="2.89" fill="url(#cr)"/><circle cx="86.9" cy="663.9" r="2.68" fill="url(#cr)"/><circle cx="39.2" cy="663" r="2.45" fill="url(#cr)"/><circle cx="80" cy="666.8" r="2.68" fill="url(#cr)"/><circle cx="58.7" cy="671.5" r="2.78" fill="url(#cr)"/><circle cx="47.5" cy="673.5" r="2.57" fill="url(#cr)"/><circle cx="69.3" cy="674" r="2.57" fill="url(#cr)"/><circle cx="77" cy="674" r="2.45" fill="url(#cr)"/><circle cx="101.6" cy="611.8" r="1.67" fill="url(#cr)"/><circle cx="107.6" cy="611.8" r="1.67" fill="url(#cr)"/><circle cx="52.6" cy="673" r="1.78" fill="url(#cr)"/></g>
<g clip-path="url(#c2)" filter="url(#sb)"><circle cx="127.2" cy="628.8" r="3.2" fill="url(#cd)"/><circle cx="131.5" cy="634.8" r="2.7" fill="url(#cb)"/><circle cx="158" cy="629.1" r="2.1" fill="url(#cb)"/><circle cx="163.2" cy="638.8" r="3.3" fill="url(#cm)"/><circle cx="201.3" cy="637.8" r="2.0" fill="url(#cb)"/><circle cx="173.4" cy="652.3" r="2.0" fill="url(#cb)"/><circle cx="172.5" cy="659.6" r="2.3" fill="url(#cb)"/><circle cx="142.2" cy="663" r="1.3" fill="url(#cd)"/><circle cx="128.6" cy="644" r="0.9" fill="url(#cd)"/><circle cx="144.5" cy="639.2" r="1.4" fill="url(#cd)"/><circle cx="193" cy="618.4" r="1.0" fill="url(#cd)"/><circle cx="184.3" cy="630.8" r="0.8" fill="url(#cb)"/><circle cx="177.7" cy="629.5" r="0.7" fill="url(#cd)"/><circle cx="162.7" cy="625" r="0.8" fill="url(#cd)"/><circle cx="137.9" cy="649.9" r="0.9" fill="url(#cd)"/><circle cx="162.2" cy="662" r="0.8" fill="url(#cb)"/><circle cx="162.8" cy="667.7" r="0.8" fill="url(#cd)"/><circle cx="204.2" cy="663" r="0.8" fill="url(#cd)"/><circle cx="209" cy="623.6" r="1.3" fill="url(#cd)"/><circle cx="155.7" cy="617.5" r="0.7" fill="url(#cd)"/><circle cx="150" cy="623" r="0.6" fill="url(#cd)"/><circle cx="190" cy="650" r="0.6" fill="url(#cd)"/><circle cx="135" cy="672" r="0.7" fill="url(#cd)"/><circle cx="183" cy="666" r="0.6" fill="url(#cd)"/></g>
<g clip-path="url(#c3)"><ellipse cx="80" cy="698" rx="42" ry="30" fill="url(#hz)" opacity="0.5"/><ellipse cx="64" cy="735" rx="14" ry="5" fill="url(#hz)" opacity="0.6"/><ellipse cx="113" cy="696" rx="7" ry="4" fill="url(#hz)" opacity="0.7"/></g>
<g clip-path="url(#c3)" filter="url(#sb2)"><ellipse cx="52" cy="681.3" rx="5" ry="2.2" fill="#3f8a24" opacity="0.75"/><ellipse cx="88" cy="681.8" rx="5" ry="2.0" fill="#3f8a24" opacity="0.75"/><ellipse cx="113" cy="681.8" rx="4" ry="2.0" fill="#3f8a24" opacity="0.75"/><ellipse cx="115" cy="696" rx="5" ry="2.5" fill="#3f8a24" opacity="0.75"/><ellipse cx="63" cy="711" rx="4" ry="1.8" fill="#3f8a24" opacity="0.75"/><ellipse cx="101" cy="711.2" rx="4" ry="2.2" fill="#3f8a24" opacity="0.75"/><ellipse cx="63" cy="733.5" rx="8" ry="2.6" fill="#3f8a24" opacity="0.75"/><ellipse cx="64" cy="738.5" rx="7" ry="2.2" fill="#3f8a24" opacity="0.75"/><ellipse cx="84" cy="692.8" rx="3" ry="2" fill="#3f8a24" opacity="0.75"/></g>
<g clip-path="url(#c3)" filter="url(#sb)"><circle cx="49.8" cy="681.3" r="2.2" fill="url(#cd)"/><circle cx="85.5" cy="681.8" r="2.0" fill="url(#cd)"/><circle cx="110.5" cy="681.8" r="1.8" fill="url(#cd)"/><circle cx="81.7" cy="692.7" r="2.88" fill="url(#cb)"/><circle cx="115.1" cy="689.2" r="2.42" fill="url(#cb)"/><circle cx="112" cy="695.6" r="2.64" fill="url(#cb)"/><circle cx="37.8" cy="697.9" r="2.42" fill="url(#cb)"/><circle cx="53.2" cy="703" r="3.22" fill="url(#cb)"/><circle cx="40.7" cy="706.9" r="2.53" fill="url(#cb)"/><circle cx="105.1" cy="705.2" r="2.53" fill="url(#cb)"/><circle cx="114.3" cy="708.3" r="2.53" fill="url(#cb)"/><circle cx="119.5" cy="711.7" r="2.53" fill="url(#cb)"/><circle cx="60.1" cy="710.9" r="2.18" fill="url(#cb)"/><circle cx="91.2" cy="711.6" r="2.53" fill="url(#cb)"/><circle cx="38.8" cy="713.5" r="2.53" fill="url(#cb)"/><circle cx="49.7" cy="719.9" r="2.64" fill="url(#cb)"/><circle cx="86" cy="726.3" r="3.45" fill="url(#cb)"/><circle cx="120.3" cy="731.1" r="2.42" fill="url(#cb)"/><ellipse cx="57.5" cy="732.6" rx="3.22" ry="2.0" fill="url(#cb)"/><circle cx="57.5" cy="737.4" r="3.1" fill="url(#cb)"/><circle cx="101" cy="712" r="1.6" fill="url(#cd)"/></g>
<g clip-path="url(#c4)" filter="url(#sb2)"><circle cx="128.1" cy="684.4" r="3.6" fill="url(#cd)"/><ellipse cx="189.5" cy="680.6" rx="3.8" ry="2.6" fill="url(#cd)"/><circle cx="199" cy="683" r="2.6" fill="url(#cr)"/><ellipse cx="195.6" cy="696.2" rx="4.4" ry="3.4" fill="url(#cd)"/><circle cx="157.5" cy="698.2" r="2.6" fill="url(#cr)"/><circle cx="151.4" cy="702.6" r="2.9" fill="url(#cd)"/><ellipse cx="153.2" cy="706.9" rx="3.6" ry="2.5" fill="url(#cd)"/><circle cx="172.2" cy="712.1" r="2.6" fill="url(#cr)"/><ellipse cx="184.3" cy="713.8" rx="3.3" ry="2.9" fill="url(#cd)"/><circle cx="188.6" cy="714.7" r="2.9" fill="url(#cd)"/><circle cx="145.9" cy="718.1" r="2.8" fill="url(#cd)"/><ellipse cx="137.6" cy="723.3" rx="2.7" ry="2.0" fill="url(#cd)"/><ellipse cx="177.4" cy="726.3" rx="3.9" ry="2.8" fill="url(#cd)"/><circle cx="189.5" cy="740.5" r="2.7" fill="url(#cr)"/><circle cx="209.4" cy="725.6" r="1.8" fill="url(#cd)"/></g>
<g clip-path="url(#c4)" filter="url(#sb)"><circle cx="173.6" cy="694" r="0.8" fill="url(#cb)"/><circle cx="188.6" cy="687" r="0.7" fill="url(#cb)"/><circle cx="188.6" cy="690.5" r="0.7" fill="url(#cb)"/><circle cx="188.3" cy="699" r="0.7" fill="url(#cb)"/><circle cx="188.6" cy="704" r="0.7" fill="url(#cb)"/><circle cx="197.3" cy="711" r="0.9" fill="url(#cb)"/><circle cx="166.6" cy="704" r="0.7" fill="url(#cd)"/><circle cx="166.1" cy="719.3" r="0.8" fill="url(#cb)"/><circle cx="198.2" cy="732.8" r="0.8" fill="url(#cb)"/><circle cx="127.2" cy="713.5" r="0.7" fill="url(#cd)"/><circle cx="141" cy="722" r="0.6" fill="url(#cd)"/><circle cx="150" cy="728" r="0.6" fill="url(#cd)"/><circle cx="205" cy="722" r="0.6" fill="url(#cd)"/><circle cx="160" cy="736" r="0.6" fill="url(#cd)"/></g>
<line x1="133.8" y1="726.3" x2="146.6" y2="726.3" stroke="#fff" stroke-width="1.2"/>
<text x="128" y="739" text-anchor="start" style="font-size:9.4px;stroke:#fff;stroke-width:0.22px" fill="#fff" textLength="23.4" lengthAdjust="spacingAndGlyphs">30μm</text>
<text x="255.5" y="628.75" text-anchor="start" style="font-size:10.3px;stroke:#1a1a1a;stroke-width:0.1px" fill="#1a1a1a" textLength="45.75" lengthAdjust="spacingAndGlyphs">Fetal LSK</text>
<line x1="253.2" y1="637.6" x2="253.2" y2="742" stroke="#111" stroke-width="1.3"/>
<line x1="250" y1="641.4" x2="253.2" y2="641.4" stroke="#111" stroke-width="1.1"/>
<text x="246" y="644.8" text-anchor="end" style="font-size:10.4px;stroke:#1a1a1a;stroke-width:0.1px" fill="#1a1a1a" textLength="10.0" lengthAdjust="spacingAndGlyphs">10</text>
<line x1="250" y1="691.7" x2="253.2" y2="691.7" stroke="#111" stroke-width="1.1"/>
<text x="246" y="695.1" text-anchor="end" style="font-size:10.4px;stroke:#1a1a1a;stroke-width:0.1px" fill="#1a1a1a" textLength="5.1" lengthAdjust="spacingAndGlyphs">5</text>
<line x1="250" y1="742" x2="253.2" y2="742" stroke="#111" stroke-width="1.1"/>
<text x="246" y="745.4" text-anchor="end" style="font-size:10.4px;stroke:#1a1a1a;stroke-width:0.1px" fill="#1a1a1a" textLength="5.1" lengthAdjust="spacingAndGlyphs">0</text>
<line x1="252.6" y1="742" x2="303.75" y2="742" stroke="#111" stroke-width="1.3"/>
<line x1="265.5" y1="742" x2="265.5" y2="745" stroke="#111" stroke-width="1.1"/>
<line x1="290.75" y1="742" x2="290.75" y2="745" stroke="#111" stroke-width="1.1"/>
<rect x="259.5" y="737" width="12.5" height="5" fill="#a50026"/>
<line x1="265.75" y1="732.5" x2="265.75" y2="737" stroke="#444" stroke-width="1.25"/>
<line x1="262.3125" y1="732.5" x2="269.1875" y2="732.5" stroke="#222" stroke-width="1.4"/>
<rect x="285.4" y="684.9" width="11.2" height="57.1" fill="#2e4b80" stroke="#1d3570" stroke-width="0.8"/>
<line x1="291.0" y1="673.25" x2="291.0" y2="684.5" stroke="#444" stroke-width="1.25"/>
<line x1="287.7" y1="673.25" x2="294.3" y2="673.25" stroke="#222" stroke-width="1.4"/>
<g fill="#111" stroke="#111" stroke-width="0.5" stroke-linejoin="round"><polygon points="288.75,667.45 289.18,668.31 290.13,668.45 289.44,669.12 289.60,670.07 288.75,669.62 287.90,670.07 288.06,669.12 287.37,668.45 288.32,668.31"/><polygon points="293.05,667.45 293.48,668.31 294.43,668.45 293.74,669.12 293.90,670.07 293.05,669.62 292.20,670.07 292.36,669.12 291.67,668.45 292.62,668.31"/></g>
<text transform="translate(229.8,728.6) rotate(-90)" text-anchor="start" style="font-size:10.4px;stroke:#1a1a1a;stroke-width:0.1px" fill="#1a1a1a" textLength="77.9" lengthAdjust="spacingAndGlyphs">Tail moment per cell</text>
<text x="325.5" y="628.75" text-anchor="start" style="font-size:10.3px;stroke:#1a1a1a;stroke-width:0.1px" fill="#1a1a1a" textLength="52" lengthAdjust="spacingAndGlyphs">Adult HSC</text>
<line x1="326.25" y1="637.6" x2="326.25" y2="742" stroke="#111" stroke-width="1.3"/>
<line x1="323" y1="641.4" x2="326.25" y2="641.4" stroke="#111" stroke-width="1.1"/>
<text x="319" y="644.8" text-anchor="end" style="font-size:10.4px;stroke:#1a1a1a;stroke-width:0.1px" fill="#1a1a1a" textLength="5.2" lengthAdjust="spacingAndGlyphs">4</text>
<line x1="323" y1="691.7" x2="326.25" y2="691.7" stroke="#111" stroke-width="1.1"/>
<text x="319" y="695.1" text-anchor="end" style="font-size:10.4px;stroke:#1a1a1a;stroke-width:0.1px" fill="#1a1a1a" textLength="5.2" lengthAdjust="spacingAndGlyphs">2</text>
<line x1="323" y1="742" x2="326.25" y2="742" stroke="#111" stroke-width="1.1"/>
<text x="319" y="745.4" text-anchor="end" style="font-size:10.4px;stroke:#1a1a1a;stroke-width:0.1px" fill="#1a1a1a" textLength="5.2" lengthAdjust="spacingAndGlyphs">0</text>
<line x1="325.65" y1="742" x2="376.25" y2="742" stroke="#111" stroke-width="1.3"/>
<line x1="338.75" y1="742" x2="338.75" y2="745" stroke="#111" stroke-width="1.1"/>
<line x1="363.75" y1="742" x2="363.75" y2="745" stroke="#111" stroke-width="1.1"/>
<rect x="332.5" y="731.25" width="12.5" height="10.75" fill="#a50026"/>
<line x1="338.75" y1="727.5" x2="338.75" y2="731.25" stroke="#444" stroke-width="1.25"/>
<line x1="335.3125" y1="727.5" x2="342.1875" y2="727.5" stroke="#222" stroke-width="1.4"/>
<rect x="357.9" y="692.4" width="11.7" height="49.6" fill="#2e4b80" stroke="#1d3570" stroke-width="0.8"/>
<line x1="363.75" y1="682.5" x2="363.75" y2="692" stroke="#444" stroke-width="1.25"/>
<line x1="360.3125" y1="682.5" x2="367.1875" y2="682.5" stroke="#222" stroke-width="1.4"/>
<g fill="#111" stroke="#111" stroke-width="0.5" stroke-linejoin="round"><polygon points="361.60,676.05 362.03,676.91 362.98,677.05 362.29,677.72 362.45,678.67 361.60,678.23 360.75,678.67 360.91,677.72 360.22,677.05 361.17,676.91"/><polygon points="365.90,676.05 366.33,676.91 367.28,677.05 366.59,677.72 366.75,678.67 365.90,678.23 365.05,678.67 365.21,677.72 364.52,677.05 365.47,676.91"/></g>
<rect x="375" y="639.25" width="12.5" height="6.5" fill="#a50026"/>
<text x="391.25" y="645.75" text-anchor="start" style="font-size:9.2px;stroke:#1a1a1a;stroke-width:0.22px;font-style:italic" fill="#1a1a1a" textLength="26.75" lengthAdjust="spacingAndGlyphs">control</text>
<rect x="375" y="658" width="12.5" height="6.5" fill="#2e4b80"/>
<text x="391.25" y="664.5" style="font-size:9.2px;font-style:italic;stroke:#1a1a1a;stroke-width:0.22px" fill="#1a1a1a">Tip60<tspan dy="-3.86" style="font-size:6.4399999999999995px">Δ/Δ</tspan></text>
<rect x="0" y="0" width="520" height="755" fill="none" stroke="#000" stroke-width="3"/>
</svg>
</body></html>
